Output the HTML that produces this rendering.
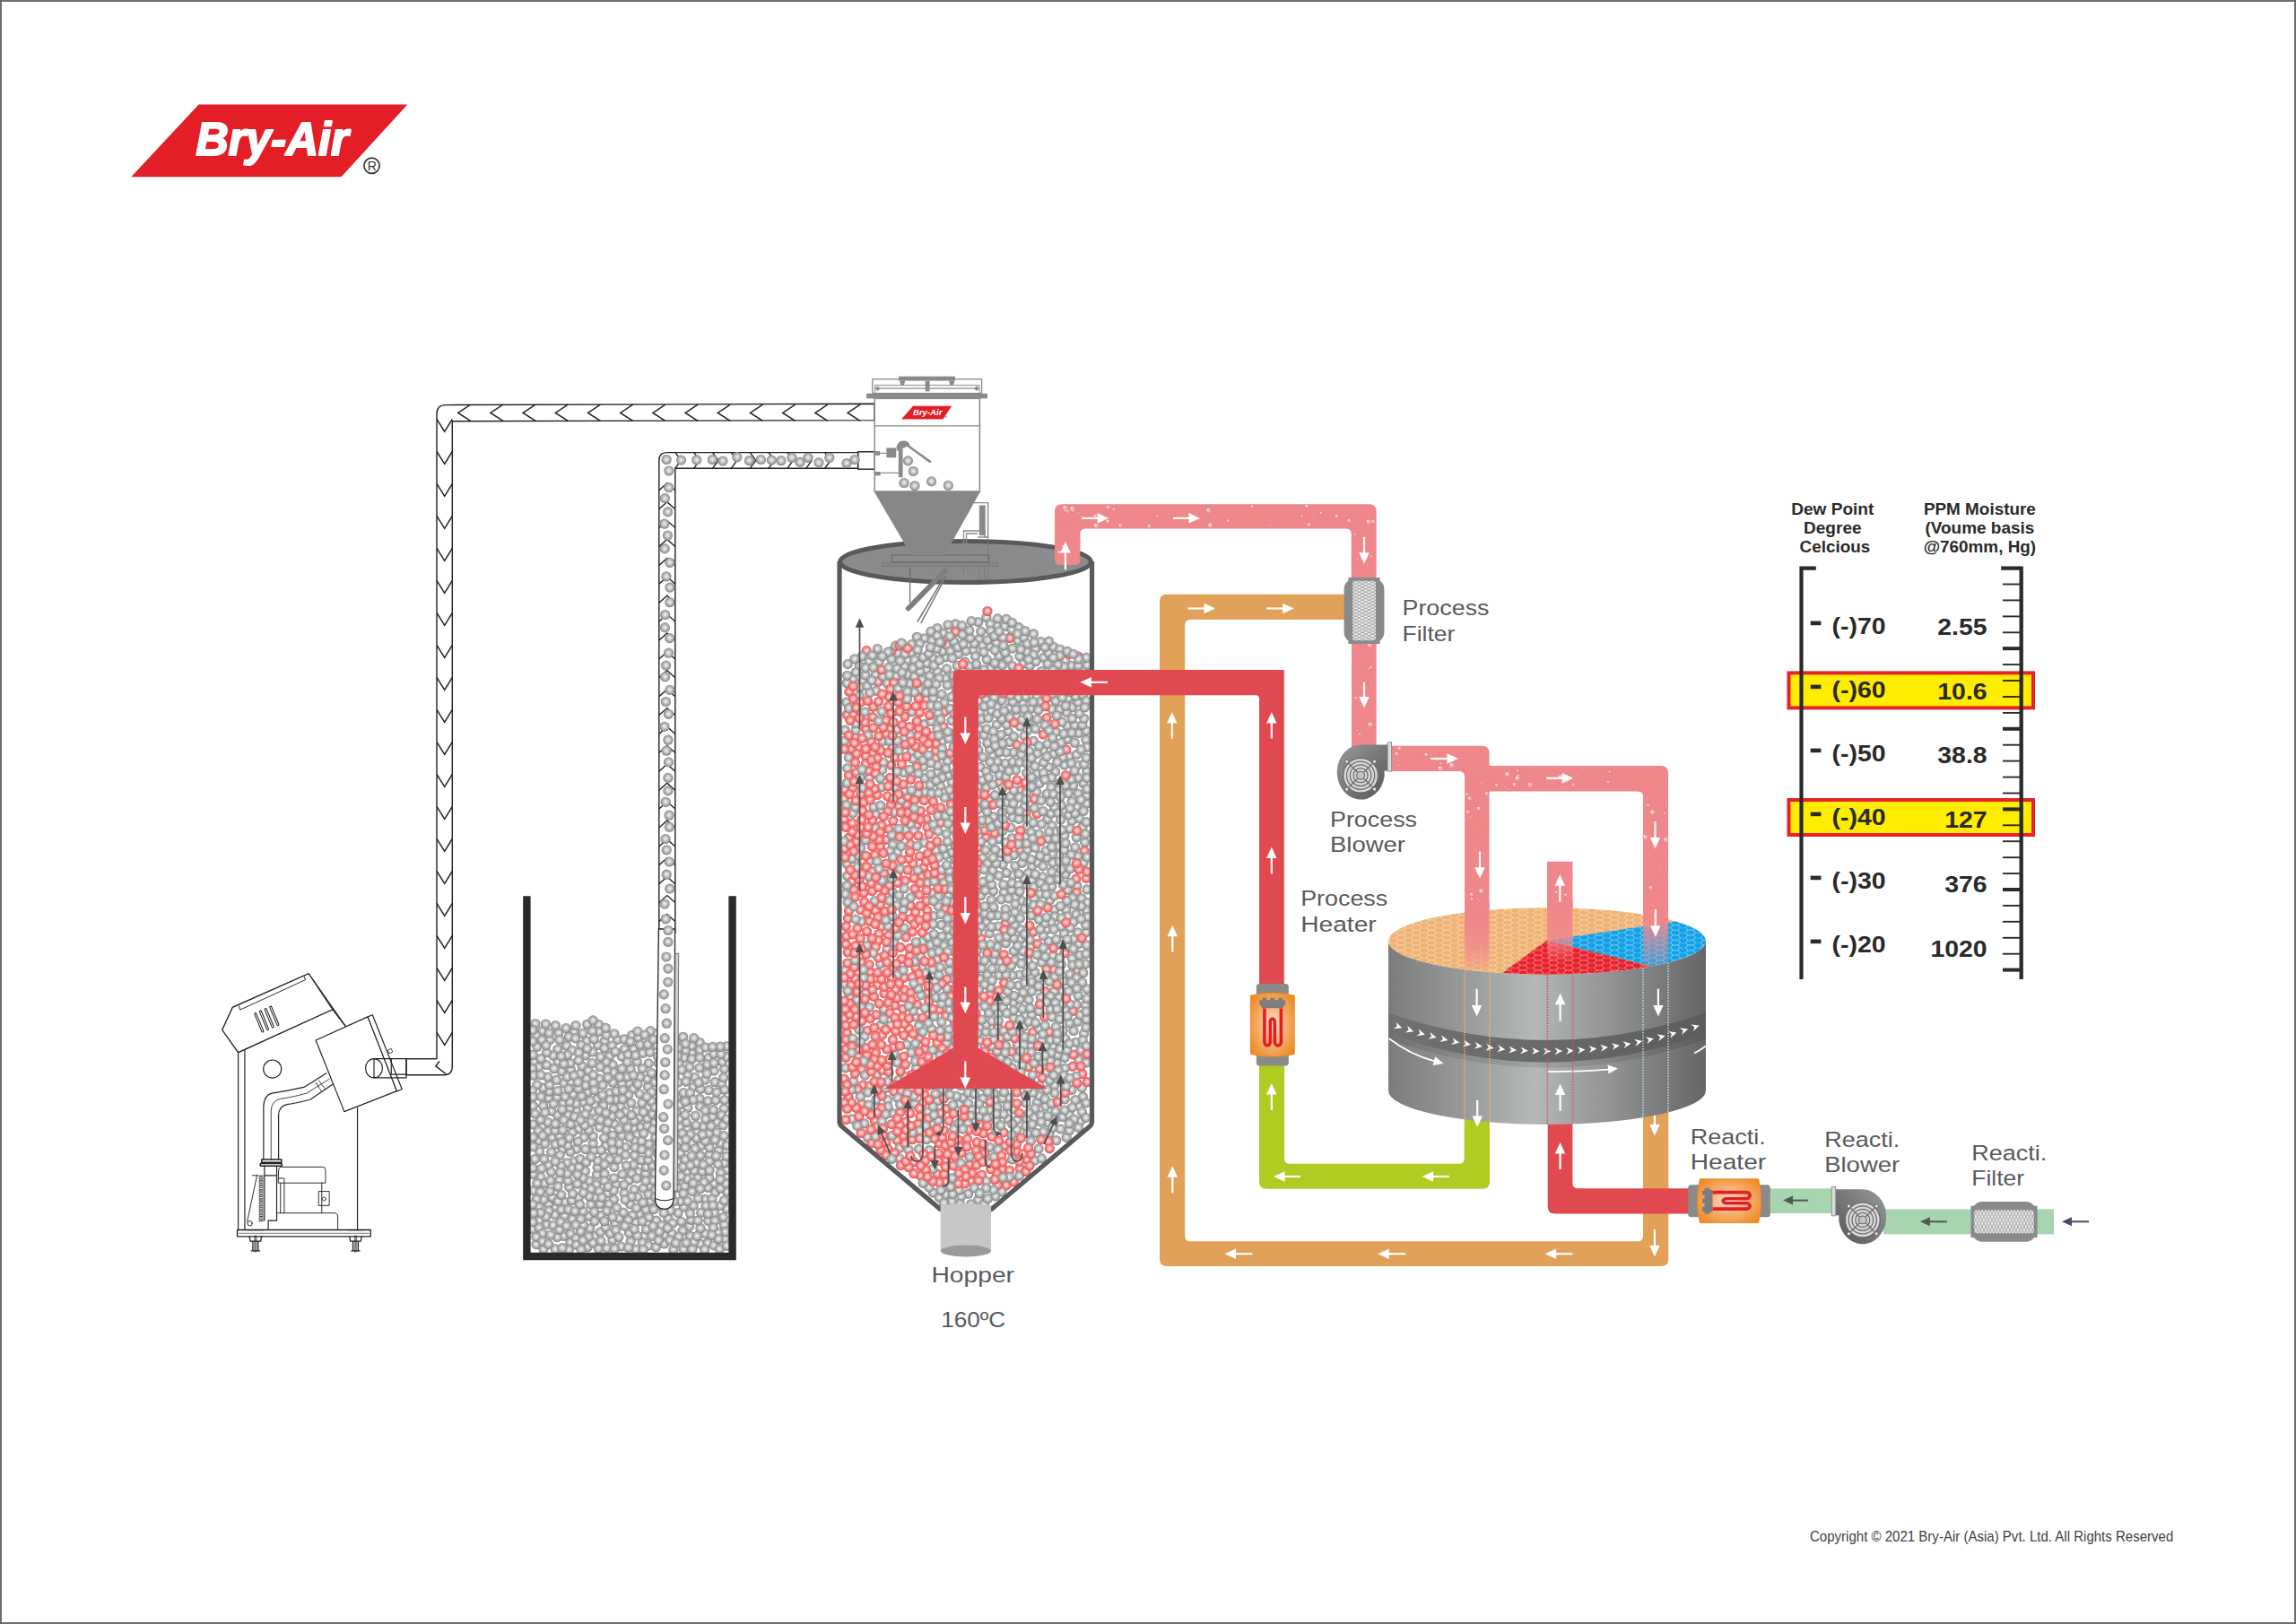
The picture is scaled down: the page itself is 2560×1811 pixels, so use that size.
<!DOCTYPE html>
<html><head><meta charset="utf-8"><title>Bry-Air Dryer Process</title>
<style>
html,body{margin:0;padding:0;background:#fff}
body{width:2560px;height:1811px;overflow:hidden}
svg{display:block}
text{font-family:"Liberation Sans",sans-serif}
</style></head><body>
<svg width="2560" height="1811" viewBox="0 0 2560 1811">
<defs>
<radialGradient id="gg" cx="0.5" cy="0.48" r="0.5"><stop offset="0" stop-color="#f7f7f7"/><stop offset="0.3" stop-color="#d6d7d7"/><stop offset="0.65" stop-color="#b0b2b2"/><stop offset="0.9" stop-color="#909292"/><stop offset="1" stop-color="#808282"/></radialGradient>
<radialGradient id="gr" cx="0.5" cy="0.48" r="0.5"><stop offset="0" stop-color="#fff3e6"/><stop offset="0.3" stop-color="#fbbdb6"/><stop offset="0.65" stop-color="#f47f80"/><stop offset="0.9" stop-color="#ea5e63"/><stop offset="1" stop-color="#e0525a"/></radialGradient>
<circle id="b" r="5.6" fill="url(#gg)"/>
<circle id="r" r="5.6" fill="url(#gr)"/>
<linearGradient id="cyl" x1="0" x2="1" y1="0" y2="0"><stop offset="0" stop-color="#7c7c7c"/><stop offset="0.2" stop-color="#939595"/><stop offset="0.46" stop-color="#b4b8b7"/><stop offset="0.75" stop-color="#8a8b8b"/><stop offset="1" stop-color="#666"/></linearGradient>
<linearGradient id="band" x1="0" x2="1" y1="0" y2="0"><stop offset="0" stop-color="#707070"/><stop offset="0.46" stop-color="#6a6a6a"/><stop offset="1" stop-color="#5c5c5c"/></linearGradient>
<linearGradient id="band2" x1="0" x2="1" y1="0" y2="0"><stop offset="0" stop-color="#858585"/><stop offset="0.46" stop-color="#9a9c9b"/><stop offset="1" stop-color="#6c6c6c"/></linearGradient>
<radialGradient id="heat" cx="0.5" cy="0.5" r="0.62"><stop offset="0" stop-color="#fde3cf"/><stop offset="0.45" stop-color="#f6b479"/><stop offset="1" stop-color="#ef8a22"/></radialGradient>
<linearGradient id="vol" x1="0" x2="1" y1="0" y2="1"><stop offset="0" stop-color="#9a9a9a"/><stop offset="0.45" stop-color="#7b7b7b"/><stop offset="1" stop-color="#555"/></linearGradient>
<linearGradient id="fadeP" x1="0" x2="0" y1="0" y2="1"><stop offset="0" stop-color="#ef878b" stop-opacity="1"/><stop offset="0.55" stop-color="#ef878b" stop-opacity="0.85"/><stop offset="1" stop-color="#ef878b" stop-opacity="0"/></linearGradient>
<pattern id="hex" width="17" height="5.6" patternUnits="userSpaceOnUse" x="1548" y="1012"><path d="M0 2.8L2.5 0L8.5 0L11 2.8L17 2.8M11 2.8L8.5 5.6M0 2.8L2.5 5.6" fill="none" stroke="#fff" stroke-width="0.9" stroke-opacity="0.55"/></pattern>
<pattern id="mesh" width="7.4" height="3.6" patternUnits="userSpaceOnUse" x="-12.9" y="-33.3"><rect width="7.4" height="3.6" fill="#8a8a8a"/><path d="M3.7 0.45L6.7 1.8L3.7 3.15L0.7 1.8Z M0 -1.35L3 0L0 1.35L-3 0Z M7.4 -1.35L10.4 0L7.4 1.35L4.4 0Z M0 2.25L3 3.6L0 4.95L-3 3.6Z M7.4 2.25L10.4 3.6L7.4 4.95L4.4 3.6Z" fill="#f3f3f3"/></pattern>
<clipPath id="wtop"><ellipse cx="1725" cy="1049.4" rx="177" ry="37.2"/></clipPath>
</defs>
<rect x="0" y="0" width="2560" height="1811" fill="#fff"/>

<g id="logo">
<polygon points="221.6,116.5 454.4,116.5 380.5,197.3 146.3,197.3" fill="#e31e26"/>
<text x="218.5" y="172.8" font-size="51" fill="#fff" font-weight="bold" font-style="italic" textLength="170" lengthAdjust="spacingAndGlyphs" stroke="#fff" stroke-width="2.2" stroke-linejoin="round">Bry-Air</text>
<circle cx="414.5" cy="184.8" r="8.6" fill="none" stroke="#333" stroke-width="1.7"/>
<text x="414.7" y="189.8" font-size="14" fill="#333" text-anchor="middle">R</text>
</g>
<g id="pipe1" fill="#fff" stroke="#222" stroke-width="1.4" stroke-linejoin="round">
<path d="M975 450.3L497 451.6Q487 451.6 487 461.6L487 1180.6L453 1180.6L453 1198.8L495 1198.8Q504.3 1198.8 504.3 1189.5L504.3 469.8L975 468.6Z"/>
</g>
<g fill="none" stroke="#222" stroke-width="1.5" stroke-linejoin="miter">
<path d="M524.7 451.2L510.7 460.4L524.7 469.4"/>
<path d="M560.9 451.2L546.9 460.4L560.9 469.4"/>
<path d="M597.1 451.2L583.1 460.4L597.1 469.4"/>
<path d="M633.3 451.2L619.3 460.4L633.3 469.4"/>
<path d="M669.5 451.2L655.5 460.4L669.5 469.4"/>
<path d="M705.7 451.2L691.7 460.4L705.7 469.4"/>
<path d="M741.9 451.2L727.9 460.4L741.9 469.4"/>
<path d="M778.1 451.2L764.1 460.4L778.1 469.4"/>
<path d="M814.3 451.2L800.3 460.4L814.3 469.4"/>
<path d="M850.5 451.2L836.5 460.4L850.5 469.4"/>
<path d="M886.7 451.2L872.7 460.4L886.7 469.4"/>
<path d="M922.9 451.2L908.9 460.4L922.9 469.4"/>
<path d="M959.1 451.2L945.1 460.4L959.1 469.4"/>
<path d="M487 467.4L495.7 481.4L504.3 467.4"/>
<path d="M487 503.4L495.7 517.4L504.3 503.4"/>
<path d="M487 539.4L495.7 553.4L504.3 539.4"/>
<path d="M487 575.4L495.7 589.4L504.3 575.4"/>
<path d="M487 611.4L495.7 625.4L504.3 611.4"/>
<path d="M487 647.4L495.7 661.4L504.3 647.4"/>
<path d="M487 683.4L495.7 697.4L504.3 683.4"/>
<path d="M487 719.4L495.7 733.4L504.3 719.4"/>
<path d="M487 755.4L495.7 769.4L504.3 755.4"/>
<path d="M487 791.4L495.7 805.4L504.3 791.4"/>
<path d="M487 827.4L495.7 841.4L504.3 827.4"/>
<path d="M487 863.4L495.7 877.4L504.3 863.4"/>
<path d="M487 899.4L495.7 913.4L504.3 899.4"/>
<path d="M487 935.4L495.7 949.4L504.3 935.4"/>
<path d="M487 971.4L495.7 985.4L504.3 971.4"/>
<path d="M487 1007.4L495.7 1021.4L504.3 1007.4"/>
<path d="M487 1043.4L495.7 1057.4L504.3 1043.4"/>
<path d="M487 1079.4L495.7 1093.4L504.3 1079.4"/>
<path d="M487 1115.4L495.7 1129.4L504.3 1115.4"/>
<path d="M487 1151.4L495.7 1165.4L504.3 1151.4"/>
<path d="M490 1183.5L485.8 1188.8L497 1197.5"/>
</g>
<g id="bin">
<g>
<use href="#b" x="654" y="1160.8"/><use href="#b" x="687" y="1226.3"/><use href="#b" x="757.8" y="1232.1"/><use href="#b" x="781.7" y="1352.2"/><use href="#b" x="623.6" y="1315.7"/><use href="#b" x="683.2" y="1187.4"/><use href="#b" x="723.4" y="1275.9"/><use href="#b" x="692" y="1234.1"/><use href="#b" x="697.3" y="1279.3"/><use href="#b" x="637.8" y="1359.4"/><use href="#b" x="663.7" y="1378.4"/><use href="#b" x="761.6" y="1156.3"/><use href="#b" x="614.7" y="1284.9"/><use href="#b" x="654.1" y="1202.7"/><use href="#b" x="795.9" y="1319.7"/><use href="#b" x="674.1" y="1161.1"/><use href="#b" x="739.2" y="1234.1"/><use href="#b" x="653" y="1176.8"/><use href="#b" x="611.5" y="1299.4"/><use href="#b" x="791.1" y="1287.5"/><use href="#b" x="707.5" y="1288.3"/><use href="#b" x="657.7" y="1369.8"/><use href="#b" x="731.7" y="1361.1"/><use href="#b" x="702.7" y="1342.9"/><use href="#b" x="781.3" y="1387.4"/><use href="#b" x="651.1" y="1268.4"/><use href="#b" x="652.7" y="1322.8"/><use href="#b" x="762.1" y="1393.3"/><use href="#b" x="738.9" y="1274.9"/><use href="#b" x="652.4" y="1306"/><use href="#b" x="594.3" y="1233.2"/><use href="#b" x="658.8" y="1343.1"/><use href="#b" x="615.7" y="1268.6"/><use href="#b" x="654.7" y="1142.3"/><use href="#b" x="593.9" y="1370.7"/><use href="#b" x="711.7" y="1306.9"/><use href="#b" x="731.7" y="1152.6"/><use href="#b" x="743.2" y="1249.1"/><use href="#b" x="605.2" y="1256"/><use href="#b" x="707.1" y="1258.6"/><use href="#b" x="733.7" y="1227.5"/><use href="#b" x="738.8" y="1213.8"/><use href="#b" x="601.3" y="1361"/><use href="#b" x="619.1" y="1346.2"/><use href="#b" x="797.2" y="1206.7"/><use href="#b" x="710.5" y="1265.5"/><use href="#b" x="769.5" y="1378.4"/><use href="#b" x="718.3" y="1378.3"/><use href="#b" x="773.1" y="1212.2"/><use href="#b" x="810.1" y="1348"/><use href="#b" x="724.3" y="1322.7"/><use href="#b" x="759.5" y="1362.1"/><use href="#b" x="675.2" y="1277.5"/><use href="#b" x="703.6" y="1230"/><use href="#b" x="766.3" y="1306.6"/><use href="#b" x="729.9" y="1206.9"/><use href="#b" x="621" y="1223.6"/><use href="#b" x="733.7" y="1287"/><use href="#b" x="790.1" y="1179.6"/><use href="#b" x="673.4" y="1289.3"/><use href="#b" x="735.2" y="1202.1"/><use href="#b" x="716.5" y="1385.9"/><use href="#b" x="618.7" y="1354.6"/><use href="#b" x="723.3" y="1388.9"/><use href="#b" x="611.6" y="1224.4"/><use href="#b" x="716.6" y="1174.5"/><use href="#b" x="730.4" y="1327.2"/><use href="#b" x="714.7" y="1256.9"/><use href="#b" x="771.5" y="1173.7"/><use href="#b" x="627.2" y="1281.8"/><use href="#b" x="707.7" y="1272.4"/><use href="#b" x="610.9" y="1261.6"/><use href="#b" x="749.5" y="1228.4"/><use href="#b" x="719.7" y="1308.7"/><use href="#b" x="807.5" y="1365.8"/><use href="#b" x="804.7" y="1208.6"/><use href="#b" x="808.3" y="1381.6"/><use href="#b" x="735.9" y="1344.2"/><use href="#b" x="720.4" y="1301.2"/><use href="#b" x="675.5" y="1259.8"/><use href="#b" x="669.5" y="1373.9"/><use href="#b" x="665.5" y="1310"/><use href="#b" x="623.9" y="1266.8"/><use href="#b" x="798.9" y="1262.9"/><use href="#b" x="685.1" y="1253.6"/><use href="#b" x="771.3" y="1166.2"/><use href="#b" x="810.5" y="1328.9"/><use href="#b" x="704.6" y="1154.4"/><use href="#b" x="635.9" y="1385.4"/><use href="#b" x="657.1" y="1316.9"/><use href="#b" x="739.7" y="1169.4"/><use href="#b" x="609.5" y="1365.4"/><use href="#b" x="780.8" y="1288.5"/><use href="#b" x="779.9" y="1190.8"/><use href="#b" x="790.2" y="1215.6"/><use href="#b" x="594.9" y="1327.7"/><use href="#b" x="711.8" y="1157.4"/><use href="#b" x="697.6" y="1239.8"/><use href="#b" x="783.9" y="1256.5"/><use href="#b" x="664.9" y="1321"/><use href="#b" x="732.6" y="1166"/><use href="#b" x="713.1" y="1246.1"/><use href="#b" x="684.9" y="1301.6"/><use href="#b" x="796.6" y="1352.5"/><use href="#b" x="685.7" y="1364.3"/><use href="#b" x="619" y="1392.9"/><use href="#b" x="780.2" y="1162.5"/><use href="#b" x="703" y="1192.2"/><use href="#b" x="762.2" y="1346.1"/><use href="#b" x="715.4" y="1272.5"/><use href="#b" x="780" y="1225.3"/><use href="#b" x="789.6" y="1361.3"/><use href="#b" x="611.5" y="1342.8"/><use href="#b" x="668.2" y="1256.8"/><use href="#b" x="744.9" y="1358.6"/><use href="#b" x="736.2" y="1158.5"/><use href="#b" x="613.1" y="1159.5"/><use href="#b" x="612.2" y="1217.1"/><use href="#b" x="768.7" y="1367.4"/><use href="#b" x="730" y="1251.8"/><use href="#b" x="601.6" y="1284"/><use href="#b" x="606.6" y="1292.4"/><use href="#b" x="803" y="1344.5"/><use href="#b" x="758.1" y="1247.8"/><use href="#b" x="807.1" y="1266.7"/><use href="#b" x="771.6" y="1274.7"/><use href="#b" x="626.2" y="1194.7"/><use href="#b" x="758.8" y="1285.8"/><use href="#b" x="731.4" y="1390.7"/><use href="#b" x="655.1" y="1390.7"/><use href="#b" x="701.3" y="1208"/><use href="#b" x="667.2" y="1392.2"/><use href="#b" x="723.2" y="1185.9"/><use href="#b" x="690.3" y="1358.6"/><use href="#b" x="810.5" y="1312.1"/><use href="#b" x="807.2" y="1236.3"/><use href="#b" x="781.6" y="1277.9"/><use href="#b" x="764.4" y="1171.6"/><use href="#b" x="692.6" y="1390"/><use href="#b" x="706" y="1214.2"/><use href="#b" x="655.6" y="1217.8"/><use href="#b" x="679.7" y="1177.7"/><use href="#b" x="795.8" y="1175.2"/><use href="#b" x="665.4" y="1225.7"/><use href="#b" x="712.8" y="1353.8"/><use href="#b" x="604.8" y="1149.7"/><use href="#b" x="652.8" y="1210.5"/><use href="#b" x="622.8" y="1151.8"/><use href="#b" x="763.4" y="1322.8"/><use href="#b" x="721.7" y="1255.5"/><use href="#b" x="684.3" y="1337.5"/><use href="#b" x="807.8" y="1215.3"/><use href="#b" x="786.2" y="1337.4"/><use href="#b" x="621.9" y="1184"/><use href="#b" x="807.6" y="1191.9"/><use href="#b" x="621.3" y="1243.3"/><use href="#b" x="715" y="1293.7"/><use href="#b" x="666.6" y="1165.5"/><use href="#b" x="743.7" y="1313.7"/><use href="#b" x="666.1" y="1301.9"/><use href="#b" x="666.3" y="1294.6"/><use href="#b" x="758.5" y="1256.9"/><use href="#b" x="610.9" y="1251.5"/><use href="#b" x="615.7" y="1335.3"/><use href="#b" x="683.2" y="1266"/><use href="#b" x="628.4" y="1378.3"/><use href="#b" x="737.7" y="1366.4"/><use href="#b" x="601" y="1369.1"/><use href="#b" x="645.2" y="1259.1"/><use href="#b" x="602.9" y="1312.6"/><use href="#b" x="634.7" y="1323.8"/><use href="#b" x="649.9" y="1313.8"/><use href="#b" x="605.5" y="1213.2"/><use href="#b" x="724.6" y="1173.4"/><use href="#b" x="751.3" y="1192"/><use href="#b" x="647" y="1197.3"/><use href="#b" x="595.7" y="1184.2"/><use href="#b" x="598" y="1154.9"/><use href="#b" x="649.1" y="1188.7"/><use href="#b" x="799.2" y="1251.2"/><use href="#b" x="614.7" y="1238.9"/><use href="#b" x="600.9" y="1272.2"/><use href="#b" x="810.3" y="1304.3"/><use href="#b" x="684" y="1195.8"/><use href="#b" x="596.9" y="1141.5"/><use href="#b" x="639.8" y="1295.1"/><use href="#b" x="634.3" y="1393.5"/><use href="#b" x="708.9" y="1363"/><use href="#b" x="600.8" y="1345.4"/><use href="#b" x="766.2" y="1314.6"/><use href="#b" x="710.9" y="1150.1"/><use href="#b" x="790.8" y="1313.7"/><use href="#b" x="607.1" y="1319.7"/><use href="#b" x="766.9" y="1235.2"/><use href="#b" x="717.2" y="1325"/><use href="#b" x="594.4" y="1309.6"/><use href="#b" x="606.1" y="1337.9"/><use href="#b" x="807.8" y="1296.7"/><use href="#b" x="745.2" y="1257.8"/><use href="#b" x="750.1" y="1215"/><use href="#b" x="722.7" y="1235.1"/><use href="#b" x="706.5" y="1169.9"/><use href="#b" x="695" y="1352"/><use href="#b" x="678.9" y="1342.8"/><use href="#b" x="612.6" y="1209.8"/><use href="#b" x="660.7" y="1173"/><use href="#b" x="598.7" y="1209.9"/><use href="#b" x="611.9" y="1350.2"/><use href="#b" x="776.6" y="1262"/><use href="#b" x="629.7" y="1340.3"/><use href="#b" x="667.5" y="1142.5"/><use href="#b" x="642.6" y="1281.3"/><use href="#b" x="805.4" y="1184"/><use href="#b" x="710.3" y="1183.9"/><use href="#b" x="720.5" y="1370.9"/><use href="#b" x="775.4" y="1244.3"/><use href="#b" x="656" y="1193.9"/><use href="#b" x="659.2" y="1325.8"/><use href="#b" x="691" y="1283.8"/><use href="#b" x="621.3" y="1379.6"/><use href="#b" x="773.7" y="1384.8"/><use href="#b" x="754.7" y="1222.7"/><use href="#b" x="755.6" y="1296.1"/><use href="#b" x="631.7" y="1166.2"/><use href="#b" x="742" y="1377.7"/><use href="#b" x="766.1" y="1258.7"/><use href="#b" x="730" y="1308.7"/><use href="#b" x="786.3" y="1375.8"/><use href="#b" x="696.4" y="1169.8"/><use href="#b" x="618.9" y="1260.9"/><use href="#b" x="608.7" y="1356.7"/><use href="#b" x="749" y="1182.4"/><use href="#b" x="629.5" y="1355.6"/><use href="#b" x="693.9" y="1309.5"/><use href="#b" x="642.6" y="1238.1"/><use href="#b" x="616.8" y="1366.3"/><use href="#b" x="682.9" y="1357.2"/><use href="#b" x="639.1" y="1220.3"/><use href="#b" x="643.7" y="1320.2"/><use href="#b" x="602.7" y="1352.5"/><use href="#b" x="778" y="1312.9"/><use href="#b" x="721.6" y="1247.1"/><use href="#b" x="679.7" y="1218.9"/><use href="#b" x="788.6" y="1187"/><use href="#b" x="607.7" y="1275.3"/><use href="#b" x="754.8" y="1324.6"/><use href="#b" x="716.3" y="1191.8"/><use href="#b" x="667.8" y="1150.5"/><use href="#b" x="693.3" y="1266.5"/><use href="#b" x="745.8" y="1271.2"/><use href="#b" x="684.3" y="1236.4"/><use href="#b" x="695.6" y="1249.1"/><use href="#b" x="693.2" y="1178.1"/><use href="#b" x="703.1" y="1384.3"/><use href="#b" x="736.8" y="1194.5"/><use href="#b" x="633.2" y="1316.7"/><use href="#b" x="780.5" y="1233.9"/><use href="#b" x="668.5" y="1203.2"/><use href="#b" x="774.1" y="1305.4"/><use href="#b" x="801.5" y="1282.5"/><use href="#b" x="780.2" y="1171"/><use href="#b" x="688.5" y="1159.3"/><use href="#b" x="622.1" y="1339.7"/><use href="#b" x="700.7" y="1220.8"/><use href="#b" x="594.6" y="1278.7"/><use href="#b" x="771.5" y="1328.6"/><use href="#b" x="673.6" y="1269"/><use href="#b" x="705.4" y="1355.2"/><use href="#b" x="602.4" y="1329.1"/><use href="#b" x="637.6" y="1338.7"/><use href="#b" x="676.6" y="1193.5"/><use href="#b" x="637.4" y="1302.6"/><use href="#b" x="761.1" y="1372.5"/><use href="#b" x="810.3" y="1166.8"/><use href="#b" x="650.5" y="1229.3"/><use href="#b" x="748.7" y="1169.6"/><use href="#b" x="682.2" y="1245"/><use href="#b" x="753.1" y="1162"/><use href="#b" x="636.5" y="1193"/><use href="#b" x="765.3" y="1251.6"/><use href="#b" x="676.3" y="1350.3"/><use href="#b" x="789.3" y="1324.3"/><use href="#b" x="693.4" y="1208.5"/><use href="#b" x="808.5" y="1373.7"/><use href="#b" x="755.2" y="1303.9"/><use href="#b" x="800.3" y="1374.5"/><use href="#b" x="640.2" y="1150.6"/><use href="#b" x="722.4" y="1212"/><use href="#b" x="761.8" y="1300.8"/><use href="#b" x="706.3" y="1298.9"/><use href="#b" x="679.7" y="1292.7"/><use href="#b" x="635.8" y="1284.3"/><use href="#b" x="756" y="1352.6"/><use href="#b" x="803.5" y="1275"/><use href="#b" x="674" y="1298.6"/><use href="#b" x="742.3" y="1291.2"/><use href="#b" x="735.2" y="1373.5"/><use href="#b" x="747.7" y="1350"/><use href="#b" x="720.2" y="1349.1"/><use href="#b" x="684.8" y="1152.8"/><use href="#b" x="742.2" y="1178.1"/><use href="#b" x="686.9" y="1320.9"/><use href="#b" x="758" y="1272.7"/><use href="#b" x="663.8" y="1335.3"/><use href="#b" x="638" y="1171.4"/><use href="#b" x="628.7" y="1207.8"/><use href="#b" x="600.8" y="1189.9"/><use href="#b" x="633" y="1277.4"/><use href="#b" x="727.4" y="1299.6"/><use href="#b" x="753.4" y="1316.9"/><use href="#b" x="741.7" y="1186.3"/><use href="#b" x="800.5" y="1298.1"/><use href="#b" x="609.4" y="1187.5"/><use href="#b" x="625.9" y="1349"/><use href="#b" x="663" y="1232.8"/><use href="#b" x="744" y="1198.7"/><use href="#b" x="624" y="1159.5"/><use href="#b" x="614.5" y="1306.9"/><use href="#b" x="594.5" y="1253.8"/><use href="#b" x="598.2" y="1337.3"/><use href="#b" x="810.4" y="1178.4"/><use href="#b" x="733.6" y="1178.1"/><use href="#b" x="717.7" y="1263.9"/><use href="#b" x="786" y="1204.2"/><use href="#b" x="762.9" y="1179.7"/><use href="#b" x="774.7" y="1201.3"/><use href="#b" x="594.1" y="1302.4"/><use href="#b" x="789.3" y="1227.8"/><use href="#b" x="690.2" y="1275.1"/><use href="#b" x="679.8" y="1226.3"/><use href="#b" x="771.3" y="1181"/><use href="#b" x="699.3" y="1201.1"/><use href="#b" x="770.5" y="1360.2"/><use href="#b" x="791" y="1279.8"/><use href="#b" x="661" y="1240.1"/><use href="#b" x="619.2" y="1276.1"/><use href="#b" x="698.4" y="1299.9"/><use href="#b" x="635.4" y="1236"/><use href="#b" x="676.5" y="1391.9"/><use href="#b" x="633.2" y="1243.4"/><use href="#b" x="797" y="1361.4"/><use href="#b" x="622" y="1323.2"/><use href="#b" x="783" y="1306.3"/><use href="#b" x="734.4" y="1185.8"/><use href="#b" x="662.5" y="1282.6"/><use href="#b" x="593.9" y="1362.7"/><use href="#b" x="790.4" y="1264"/><use href="#b" x="652.7" y="1281.6"/><use href="#b" x="743.2" y="1241.3"/><use href="#b" x="632.1" y="1296.8"/><use href="#b" x="628" y="1230"/><use href="#b" x="675.2" y="1368.8"/><use href="#b" x="642" y="1143.5"/><use href="#b" x="594.9" y="1352.8"/><use href="#b" x="635.9" y="1185.6"/><use href="#b" x="806.4" y="1357.4"/><use href="#b" x="725" y="1339.5"/><use href="#b" x="750.1" y="1364"/><use href="#b" x="789.1" y="1386.2"/><use href="#b" x="776.4" y="1296.7"/><use href="#b" x="730.7" y="1268.6"/><use href="#b" x="737.6" y="1336.4"/><use href="#b" x="762.1" y="1218.6"/><use href="#b" x="722.8" y="1293.6"/><use href="#b" x="617.2" y="1231"/><use href="#b" x="661.6" y="1198.7"/><use href="#b" x="771.8" y="1393.2"/><use href="#b" x="636.1" y="1375.9"/><use href="#b" x="753.8" y="1240"/><use href="#b" x="600.2" y="1261.1"/><use href="#b" x="661" y="1385.8"/><use href="#b" x="786.2" y="1238.3"/><use href="#b" x="656.6" y="1356.2"/><use href="#b" x="764" y="1279.7"/><use href="#b" x="645.5" y="1301.5"/><use href="#b" x="650" y="1350.7"/><use href="#b" x="690.3" y="1259"/><use href="#b" x="647" y="1292.5"/><use href="#b" x="669.4" y="1248.7"/><use href="#b" x="728.3" y="1316.5"/><use href="#b" x="602.5" y="1248.5"/><use href="#b" x="786.8" y="1168"/><use href="#b" x="723" y="1332"/><use href="#b" x="798" y="1226.8"/><use href="#b" x="796.2" y="1388.8"/><use href="#b" x="677.4" y="1330.7"/><use href="#b" x="642.3" y="1380.9"/><use href="#b" x="682.9" y="1382.6"/><use href="#b" x="726.5" y="1228.2"/><use href="#b" x="645.3" y="1335.3"/><use href="#b" x="678" y="1251.6"/><use href="#b" x="799" y="1218.1"/><use href="#b" x="707.1" y="1326.6"/><use href="#b" x="749.1" y="1375.5"/><use href="#b" x="766.6" y="1198.8"/><use href="#b" x="610.6" y="1201.1"/><use href="#b" x="624.2" y="1288.3"/><use href="#b" x="655.1" y="1235.7"/><use href="#b" x="707.2" y="1250.3"/><use href="#b" x="806.7" y="1201.7"/><use href="#b" x="674" y="1168.9"/><use href="#b" x="715.8" y="1229.9"/><use href="#b" x="810" y="1289.4"/><use href="#b" x="713.8" y="1165.2"/><use href="#b" x="796.2" y="1194.1"/><use href="#b" x="650.4" y="1366.2"/><use href="#b" x="786.6" y="1272.3"/><use href="#b" x="721.5" y="1203.1"/><use href="#b" x="699.8" y="1257.5"/><use href="#b" x="769.4" y="1218.9"/><use href="#b" x="598.8" y="1167.3"/><use href="#b" x="726.7" y="1217.8"/><use href="#b" x="684.2" y="1327.6"/><use href="#b" x="680.4" y="1375.5"/><use href="#b" x="674.1" y="1309.1"/><use href="#b" x="642.4" y="1230.8"/><use href="#b" x="723.5" y="1357.5"/><use href="#b" x="597.9" y="1387.6"/><use href="#b" x="728.8" y="1348.6"/><use href="#b" x="636.8" y="1206.6"/><use href="#b" x="747.5" y="1325.7"/><use href="#b" x="605.1" y="1266.3"/><use href="#b" x="661.5" y="1207.8"/><use href="#b" x="653.7" y="1296.1"/><use href="#b" x="625.6" y="1300.3"/><use href="#b" x="604.1" y="1159.5"/><use href="#b" x="787.1" y="1344.5"/><use href="#b" x="596.5" y="1242"/><use href="#b" x="772.9" y="1226.4"/><use href="#b" x="696" y="1330.4"/><use href="#b" x="661.2" y="1137.9"/><use href="#b" x="764.3" y="1164"/><use href="#b" x="686.6" y="1371.7"/><use href="#b" x="797.5" y="1329.8"/><use href="#b" x="661.2" y="1275"/><use href="#b" x="741.4" y="1220.9"/><use href="#b" x="730.5" y="1334.8"/><use href="#b" x="751.4" y="1263.1"/><use href="#b" x="694.2" y="1225.7"/><use href="#b" x="648.5" y="1222.3"/><use href="#b" x="603.1" y="1180.5"/><use href="#b" x="732.3" y="1279.3"/><use href="#b" x="648.1" y="1165.6"/><use href="#b" x="613.7" y="1316.4"/><use href="#b" x="621.8" y="1170"/><use href="#b" x="687.1" y="1217"/><use href="#b" x="701.5" y="1375"/><use href="#b" x="616.6" y="1177.1"/><use href="#b" x="764.2" y="1228.4"/><use href="#b" x="652.7" y="1242.6"/><use href="#b" x="776.5" y="1269.1"/><use href="#b" x="660.2" y="1185.5"/><use href="#b" x="769.7" y="1265"/><use href="#b" x="596.4" y="1292.5"/><use href="#b" x="793.9" y="1337.2"/><use href="#b" x="737.6" y="1258.8"/><use href="#b" x="700.3" y="1176.2"/><use href="#b" x="594.1" y="1176.3"/><use href="#b" x="593.8" y="1161.1"/><use href="#b" x="743.1" y="1206.4"/><use href="#b" x="803.8" y="1175.6"/><use href="#b" x="604.7" y="1375.5"/><use href="#b" x="709" y="1393.3"/><use href="#b" x="803.2" y="1325.2"/><use href="#b" x="625.7" y="1332.5"/><use href="#b" x="593.5" y="1216.1"/><use href="#b" x="725.1" y="1149.7"/><use href="#b" x="764" y="1292.9"/><use href="#b" x="804.4" y="1243.6"/><use href="#b" x="727.5" y="1242.4"/><use href="#b" x="675.8" y="1184.1"/><use href="#b" x="758.8" y="1339.7"/><use href="#b" x="660.6" y="1149.7"/><use href="#b" x="701.2" y="1316.2"/><use href="#b" x="740.2" y="1352.4"/><use href="#b" x="794.2" y="1245.1"/><use href="#b" x="662.3" y="1158.7"/><use href="#b" x="752.1" y="1199.8"/><use href="#b" x="788.2" y="1197.2"/><use href="#b" x="645.3" y="1173.9"/><use href="#b" x="807.8" y="1226.6"/><use href="#b" x="744.3" y="1369.4"/><use href="#b" x="809.3" y="1319.9"/><use href="#b" x="792.7" y="1255.8"/><use href="#b" x="728.1" y="1367.4"/><use href="#b" x="743.5" y="1342.1"/><use href="#b" x="757.1" y="1186.3"/><use href="#b" x="773.1" y="1344.4"/><use href="#b" x="737.7" y="1325.1"/><use href="#b" x="628.6" y="1249.1"/><use href="#b" x="803" y="1167.2"/><use href="#b" x="790.8" y="1295.1"/><use href="#b" x="668" y="1328.5"/><use href="#b" x="676.1" y="1154.1"/><use href="#b" x="612.2" y="1152"/><use href="#b" x="780.2" y="1179.4"/><use href="#b" x="734.1" y="1245.8"/><use href="#b" x="709.6" y="1347.2"/><use href="#b" x="621.8" y="1216.5"/><use href="#b" x="744.8" y="1161.5"/><use href="#b" x="801" y="1381.7"/><use href="#b" x="697.5" y="1287.9"/><use href="#b" x="797.2" y="1271.1"/><use href="#b" x="759.1" y="1311.8"/><use href="#b" x="740.7" y="1387"/><use href="#b" x="765.1" y="1385.9"/><use href="#b" x="795.4" y="1237.7"/><use href="#b" x="802.3" y="1392.7"/><use href="#b" x="695.8" y="1321.3"/><use href="#b" x="740.4" y="1301"/><use href="#b" x="743.1" y="1282.4"/><use href="#b" x="656.7" y="1334.1"/><use href="#b" x="803.5" y="1308"/><use href="#b" x="593.9" y="1148.7"/><use href="#b" x="785" y="1318.4"/><use href="#b" x="685.2" y="1392.5"/><use href="#b" x="711.1" y="1334.9"/><use href="#b" x="690.9" y="1201.2"/><use href="#b" x="633.7" y="1348.8"/><use href="#b" x="704" y="1334.5"/><use href="#b" x="699.2" y="1184.4"/><use href="#b" x="654.6" y="1169.3"/><use href="#b" x="794.8" y="1344.2"/><use href="#b" x="626.9" y="1391.7"/><use href="#b" x="605.7" y="1233.2"/><use href="#b" x="593.6" y="1191.5"/><use href="#b" x="810.4" y="1277.5"/><use href="#b" x="683.2" y="1207.2"/><use href="#b" x="760.8" y="1264.1"/><use href="#b" x="672.8" y="1232.9"/><use href="#b" x="671.8" y="1221.4"/><use href="#b" x="747.8" y="1299.9"/><use href="#b" x="638.2" y="1262.8"/><use href="#b" x="661.3" y="1267"/><use href="#b" x="750" y="1309.6"/><use href="#b" x="647.4" y="1373.1"/><use href="#b" x="806.2" y="1254.7"/><use href="#b" x="796" y="1185.4"/><use href="#b" x="682.3" y="1166"/><use href="#b" x="772.9" y="1319.4"/><use href="#b" x="684.5" y="1313.8"/><use href="#b" x="789.4" y="1353.7"/><use href="#b" x="644.4" y="1273"/><use href="#b" x="693.4" y="1191.7"/><use href="#b" x="768.8" y="1189.9"/><use href="#b" x="598.8" y="1319.5"/><use href="#b" x="753.4" y="1278.4"/><use href="#b" x="669.6" y="1355.4"/><use href="#b" x="694.5" y="1215.6"/><use href="#b" x="659" y="1290.1"/><use href="#b" x="668.2" y="1238.4"/><use href="#b" x="659" y="1251.3"/><use href="#b" x="737.6" y="1307.7"/><use href="#b" x="669.1" y="1189.7"/><use href="#b" x="700.5" y="1360.5"/><use href="#b" x="607.7" y="1240.6"/><use href="#b" x="695.9" y="1158.9"/><use href="#b" x="756.1" y="1207.1"/><use href="#b" x="635.2" y="1228.8"/><use href="#b" x="662.6" y="1351.4"/><use href="#b" x="719.8" y="1317"/><use href="#b" x="662.8" y="1215.8"/><use href="#b" x="760.1" y="1193"/><use href="#b" x="613.1" y="1328.5"/><use href="#b" x="613.9" y="1377"/><use href="#b" x="673.9" y="1316.9"/><use href="#b" x="645.1" y="1182.5"/><use href="#b" x="593.9" y="1343.2"/><use href="#b" x="650.4" y="1330.1"/><use href="#b" x="776" y="1254.6"/><use href="#b" x="696.6" y="1367.2"/><use href="#b" x="623.7" y="1371.3"/><use href="#b" x="663.1" y="1361.8"/><use href="#b" x="656.5" y="1260.4"/><use href="#b" x="689.8" y="1379.5"/><use href="#b" x="656.2" y="1379.1"/><use href="#b" x="709.9" y="1238.9"/><use href="#b" x="751.4" y="1339.8"/><use href="#b" x="634.6" y="1269"/><use href="#b" x="669.4" y="1178.7"/><use href="#b" x="810.2" y="1248"/><use href="#b" x="726.7" y="1378.3"/><use href="#b" x="704.4" y="1308.8"/><use href="#b" x="810.2" y="1389.3"/><use href="#b" x="723.1" y="1285.8"/><use href="#b" x="778.4" y="1336.5"/><use href="#b" x="803" y="1315.2"/><use href="#b" x="649.9" y="1152.3"/><use href="#b" x="780.9" y="1369.7"/><use href="#b" x="689.1" y="1293"/><use href="#b" x="625" y="1362.8"/><use href="#b" x="713.2" y="1219.9"/><use href="#b" x="606" y="1393"/><use href="#b" x="722.2" y="1164.8"/><use href="#b" x="647.5" y="1359.4"/><use href="#b" x="594.3" y="1223.3"/><use href="#b" x="773.7" y="1157.7"/><use href="#b" x="730.3" y="1234.9"/><use href="#b" x="713.4" y="1201"/><use href="#b" x="629.9" y="1223"/><use href="#b" x="784.2" y="1298.9"/><use href="#b" x="642.6" y="1388.1"/><use href="#b" x="682" y="1274.1"/><use href="#b" x="764.8" y="1270.6"/><use href="#b" x="749.3" y="1154"/><use href="#b" x="708.1" y="1279.6"/><use href="#b" x="728.2" y="1159.1"/><use href="#b" x="617.7" y="1191.7"/><use href="#b" x="775" y="1281"/><use href="#b" x="777.1" y="1378.4"/><use href="#b" x="644.8" y="1214"/><use href="#b" x="597.8" y="1379.3"/><use href="#b" x="798.4" y="1289.1"/><use href="#b" x="677.8" y="1201.7"/><use href="#b" x="638.5" y="1331.2"/><use href="#b" x="769.5" y="1353.1"/><use href="#b" x="620.5" y="1204.4"/><use href="#b" x="716.1" y="1361.9"/><use href="#b" x="670" y="1383.6"/><use href="#b" x="721.1" y="1223.1"/><use href="#b" x="794.5" y="1167.4"/><use href="#b" x="763.9" y="1243.1"/><use href="#b" x="703.9" y="1243.6"/><use href="#b" x="741.1" y="1153.1"/><use href="#b" x="750.9" y="1393.4"/><use href="#b" x="791" y="1305.2"/><use href="#b" x="727.9" y="1259.7"/><use href="#b" x="628.7" y="1186.3"/><use href="#b" x="651.8" y="1255"/><use href="#b" x="677.9" y="1323.3"/><use href="#b" x="795.2" y="1368.9"/><use href="#b" x="683.3" y="1282.8"/><use href="#b" x="604.8" y="1384.3"/><use href="#b" x="780.9" y="1214.3"/><use href="#b" x="631.4" y="1367.1"/><use href="#b" x="764.8" y="1206.1"/><use href="#b" x="632.7" y="1176.5"/><use href="#b" x="691.2" y="1243.1"/><use href="#b" x="649.9" y="1383.2"/><use href="#b" x="625.6" y="1177.9"/><use href="#b" x="670.2" y="1282.6"/><use href="#b" x="632.5" y="1308.9"/><use href="#b" x="780.7" y="1325.7"/><use href="#b" x="636.2" y="1253.5"/><use href="#b" x="715.5" y="1281.8"/><use href="#b" x="619.1" y="1253.2"/><use href="#b" x="748.7" y="1333.1"/><use href="#b" x="783.1" y="1265.2"/><use href="#b" x="634.3" y="1156.2"/><use href="#b" x="697" y="1337.8"/><use href="#b" x="646.4" y="1343.2"/><use href="#b" x="603.1" y="1222.9"/><use href="#b" x="771.1" y="1288.9"/><use href="#b" x="718.8" y="1154.1"/><use href="#b" x="641.8" y="1366"/><use href="#b" x="686" y="1172.8"/><use href="#b" x="717.3" y="1240.1"/><use href="#b" x="711.1" y="1209"/><use href="#b" x="726.5" y="1196.6"/><use href="#b" x="778.1" y="1361.1"/><use href="#b" x="700.6" y="1391.2"/><use href="#b" x="608.4" y="1142"/><use href="#b" x="603.9" y="1303"/><use href="#b" x="675.7" y="1241.2"/><use href="#b" x="708.5" y="1176.9"/><use href="#b" x="717.1" y="1393.4"/><use href="#b" x="769.6" y="1299.6"/><use href="#b" x="669" y="1342.5"/><use href="#b" x="609.6" y="1173.6"/><use href="#b" x="778.8" y="1207.2"/><use href="#b" x="627.4" y="1260.2"/><use href="#b" x="624.5" y="1307.4"/><use href="#b" x="746.8" y="1383"/><use href="#b" x="734.2" y="1383.3"/><use href="#b" x="709.9" y="1314.1"/><use href="#b" x="710.6" y="1377.9"/><use href="#b" x="750.5" y="1248.8"/><use href="#b" x="673.9" y="1361.7"/><use href="#b" x="643.6" y="1310"/><use href="#b" x="756.8" y="1379.2"/><use href="#b" x="766.5" y="1339.4"/><use href="#b" x="761.9" y="1331"/><use href="#b" x="716.9" y="1341.1"/><use href="#b" x="640.5" y="1245.3"/><use href="#b" x="753.4" y="1386.2"/><use href="#b" x="793.6" y="1377.3"/><use href="#b" x="647.2" y="1249.1"/><use href="#b" x="631.1" y="1146.5"/><use href="#b" x="658.1" y="1227.6"/><use href="#b" x="594.9" y="1199.2"/><use href="#b" x="619.1" y="1295.2"/><use href="#b" x="701.8" y="1268.2"/><use href="#b" x="632.4" y="1200.8"/><use href="#b" x="706.2" y="1199.2"/><use href="#b" x="647.9" y="1393.3"/><use href="#b" x="639.9" y="1199.5"/><use href="#b" x="641" y="1350.6"/><use href="#b" x="756.4" y="1168.7"/><use href="#b" x="594.3" y="1268.2"/><use href="#b" x="641.5" y="1157.9"/><use href="#b" x="702.8" y="1161.5"/><use href="#b" x="608.9" y="1165.8"/><use href="#b" x="619.4" y="1143.6"/><use href="#b" x="807.4" y="1338.7"/><use href="#b" x="785.6" y="1393.4"/><use href="#b" x="671.1" y="1335.5"/><use href="#b" x="687.6" y="1346.9"/><use href="#b" x="603" y="1198.8"/><use href="#b" x="644.3" y="1206.9"/><use href="#b" x="750.5" y="1289.8"/><use href="#b" x="707.1" y="1370.5"/><use href="#b" x="786.7" y="1247.7"/><use href="#b" x="755.7" y="1177.4"/><use href="#b" x="626.3" y="1273.8"/><use href="#b" x="634" y="1214.4"/><use href="#b" x="626.8" y="1237.3"/><use href="#b" x="737.9" y="1266.2"/><use href="#b" x="672.1" y="1210"/><use href="#b" x="675.3" y="1146.3"/><use href="#b" x="735.5" y="1315.5"/><use href="#b" x="734" y="1296.6"/><use href="#b" x="611.5" y="1387.3"/>
</g>
<path d="M583.2 999.2L591.6 999.2L591.6 1396.8L812.4 1396.8L812.4 999.2L820.8 999.2L820.8 1405.2L583.2 1405.2Z" fill="#2b2a29"/>
</g>
<g id="pipe2">
<path d="M956.8 504.6 L743.8 504.6 Q734.8 504.6 734.8 513.6 L734.8 1040 L752.8 1040 L752.8 522.2 L956.8 522.2 Z" fill="#fff" stroke="#222" stroke-width="1.4"/>
<path d="M734.4 1036 L730.5 1338 A10.2 10.4 0 0 0 751 1338 L752.6 1036 Z" fill="#fff" stroke="#222" stroke-width="1.3"/>
<path d="M730.5 1336.5 Q740.7 1341 751 1336.5" fill="none" stroke="#222" stroke-width="1.1"/>
<rect x="956.8" y="503.8" width="18.6" height="19.4" fill="#fff" stroke="#222" stroke-width="1.4"/>
<path d="M752.9 1063.3 L756.7 1063.3 L755.3 1328 L751.5 1328 Z" fill="#d4d4d4" stroke="#555" stroke-width="0.8"/>
<g fill="none" stroke="#222" stroke-width="1.4">
<path d="M734.8 546.8L743.8 538.8L752.8 546.8"/>
<path d="M734.8 567.7L743.8 559.7L752.8 567.7"/>
<path d="M734.8 588.6L743.8 580.6L752.8 588.6"/>
<path d="M734.8 609.5L743.8 601.5L752.8 609.5"/>
<path d="M734.8 630.4L743.8 622.4L752.8 630.4"/>
<path d="M734.8 651.3L743.8 643.3L752.8 651.3"/>
<path d="M734.8 672.2L743.8 664.2L752.8 672.2"/>
<path d="M734.8 693.1L743.8 685.1L752.8 693.1"/>
<path d="M734.8 714L743.8 706L752.8 714"/>
<path d="M734.8 734.9L743.8 726.9L752.8 734.9"/>
<path d="M734.8 755.8L743.8 747.8L752.8 755.8"/>
<path d="M734.8 776.7L743.8 768.7L752.8 776.7"/>
<path d="M734.8 797.6L743.8 789.6L752.8 797.6"/>
<path d="M734.8 818.5L743.8 810.5L752.8 818.5"/>
<path d="M734.8 839.4L743.8 831.4L752.8 839.4"/>
<path d="M734.8 860.3L743.8 852.3L752.8 860.3"/>
<path d="M734.8 881.2L743.8 873.2L752.8 881.2"/>
<path d="M734.8 902.1L743.8 894.1L752.8 902.1"/>
<path d="M734.8 923L743.8 915L752.8 923"/>
<path d="M734.8 943.9L743.8 935.9L752.8 943.9"/>
<path d="M734.8 964.8L743.8 956.8L752.8 964.8"/>
<path d="M734.8 985.7L743.8 977.7L752.8 985.7"/>
<path d="M734.8 1006.6L743.8 998.6L752.8 1006.6"/>
<path d="M734.8 1027.5L743.8 1019.5L752.8 1027.5"/>
<path d="M752.9 504.6L759.3 513.4L752.9 522.2"/>
<path d="M773.8 504.6L780.1 513.4L773.8 522.2"/>
<path d="M794.6 504.6L801 513.4L794.6 522.2"/>
<path d="M815.4 504.6L821.8 513.4L815.4 522.2"/>
<path d="M836.3 504.6L842.7 513.4L836.3 522.2"/>
<path d="M857.1 504.6L863.5 513.4L857.1 522.2"/>
<path d="M878 504.6L884.4 513.4L878 522.2"/>
<path d="M898.9 504.6L905.2 513.4L898.9 522.2"/>
<path d="M919.7 504.6L926.1 513.4L919.7 522.2"/>
</g>
<use href="#b" x="742.8" y="1322"/><use href="#b" x="740.2" y="1305.1"/><use href="#b" x="740.9" y="1288"/><use href="#b" x="744.7" y="1271.6"/><use href="#b" x="740.6" y="1258.5"/><use href="#b" x="739.7" y="1245.7"/><use href="#b" x="745" y="1231.1"/><use href="#b" x="740.2" y="1214.7"/><use href="#b" x="741.1" y="1198.9"/><use href="#b" x="741.8" y="1184.5"/><use href="#b" x="744.2" y="1170.1"/><use href="#b" x="741.2" y="1157.7"/><use href="#b" x="743.3" y="1141.2"/><use href="#b" x="742.1" y="1124.7"/><use href="#b" x="740.2" y="1108.9"/><use href="#b" x="744.8" y="1095.1"/><use href="#b" x="744.9" y="1080.1"/><use href="#b" x="742.9" y="1067"/><use href="#b" x="744.9" y="1050.4"/><use href="#b" x="745" y="1037.5"/><use href="#b" x="742.3" y="1024.8"/><use href="#b" x="741.1" y="1008"/><use href="#b" x="746.8" y="991"/><use href="#b" x="743.2" y="975.2"/><use href="#b" x="746.3" y="961"/><use href="#b" x="743.2" y="947.8"/><use href="#b" x="742" y="935.5"/><use href="#b" x="746.3" y="922.2"/><use href="#b" x="746.1" y="909.2"/><use href="#b" x="742.2" y="894.3"/><use href="#b" x="744.9" y="881.9"/><use href="#b" x="744.9" y="867.4"/><use href="#b" x="745.5" y="849.9"/><use href="#b" x="743.1" y="837.2"/><use href="#b" x="744.9" y="825.2"/><use href="#b" x="740.9" y="810.3"/><use href="#b" x="745.4" y="796.3"/><use href="#b" x="742.4" y="782.5"/><use href="#b" x="746.9" y="769.4"/><use href="#b" x="741.6" y="754.9"/><use href="#b" x="742.6" y="742.1"/><use href="#b" x="745.5" y="728.2"/><use href="#b" x="746.7" y="711.6"/><use href="#b" x="741.4" y="699.9"/><use href="#b" x="741.7" y="685.5"/><use href="#b" x="746.8" y="671.7"/><use href="#b" x="746.9" y="655.1"/><use href="#b" x="742.9" y="642.9"/><use href="#b" x="746.8" y="627.3"/><use href="#b" x="741.2" y="611.9"/><use href="#b" x="744.4" y="597.1"/><use href="#b" x="740.8" y="584.2"/><use href="#b" x="744.6" y="570.9"/><use href="#b" x="741.4" y="555.6"/><use href="#b" x="745.7" y="543.7"/><use href="#b" x="743.1" y="512.5"/><use href="#b" x="759.5" y="513.1"/><use href="#b" x="776.8" y="512.9"/><use href="#b" x="794.3" y="512.5"/><use href="#b" x="805.9" y="514"/><use href="#b" x="821.8" y="509.7"/><use href="#b" x="835.4" y="513.7"/><use href="#b" x="848.4" y="512.5"/><use href="#b" x="860.3" y="513.1"/><use href="#b" x="871" y="513.7"/><use href="#b" x="882.9" y="510.3"/><use href="#b" x="892" y="515.4"/><use href="#b" x="901" y="510.3"/><use href="#b" x="912.9" y="515.9"/><use href="#b" x="924.8" y="510.3"/><use href="#b" x="944" y="516.5"/><use href="#b" x="953.1" y="512.5"/><use href="#b" x="745.9" y="525"/>
</g>
<g id="hopper">
<use href="#b" x="1107" y="842.2"/><use href="#b" x="1037.5" y="1053.7"/><use href="#b" x="1090.2" y="1115.9"/><use href="#b" x="1177.7" y="1271.7"/><use href="#b" x="1091.6" y="712.7"/><use href="#b" x="1040.5" y="1330"/><use href="#b" x="1032.7" y="747.1"/><use href="#b" x="995.9" y="1241.7"/><use href="#b" x="1200.8" y="987.8"/><use href="#b" x="1177.3" y="816.3"/><use href="#b" x="1031.3" y="883.4"/><use href="#r" x="1105.9" y="1267.5"/><use href="#r" x="1011.1" y="1234.6"/><use href="#r" x="976.2" y="1015.2"/><use href="#b" x="1030.9" y="711.8"/><use href="#b" x="1062.3" y="1204.2"/><use href="#b" x="1129.9" y="1118"/><use href="#b" x="1001" y="728.3"/><use href="#b" x="1182.3" y="752.4"/><use href="#b" x="1010.2" y="925.5"/><use href="#r" x="1064.6" y="1142.1"/><use href="#b" x="1142.2" y="1053"/><use href="#b" x="1080.6" y="917.1"/><use href="#b" x="1102.1" y="754.6"/><use href="#b" x="1195.3" y="788.8"/><use href="#b" x="1137.5" y="1047.2"/><use href="#r" x="1002.3" y="899"/><use href="#b" x="1043.8" y="948.5"/><use href="#b" x="994.7" y="994.3"/><use href="#b" x="1007.2" y="1014.3"/><use href="#b" x="1054.4" y="756.7"/><use href="#r" x="1118" y="1303.8"/><use href="#r" x="978.9" y="1022.8"/><use href="#b" x="1113.9" y="935.6"/><use href="#b" x="1159.4" y="997"/><use href="#r" x="994.1" y="1253.6"/><use href="#r" x="995.8" y="915.3"/><use href="#b" x="1186.8" y="931.9"/><use href="#b" x="1202.8" y="1181.8"/><use href="#b" x="1116.1" y="856.7"/><use href="#b" x="1012.5" y="752.4"/><use href="#b" x="1113.9" y="1087.4"/><use href="#b" x="1145.6" y="1263.9"/><use href="#r" x="1109.1" y="929.2"/><use href="#b" x="1211.6" y="860.1"/><use href="#b" x="1016.7" y="793.9"/><use href="#b" x="1050.4" y="826.6"/><use href="#b" x="1030.6" y="939.8"/><use href="#b" x="1126.8" y="710.7"/><use href="#r" x="1049.5" y="1206.2"/><use href="#b" x="1028.6" y="1049.7"/><use href="#b" x="1051.7" y="706.1"/><use href="#b" x="960.7" y="1027.8"/><use href="#b" x="944.7" y="976.8"/><use href="#r" x="973.6" y="788.2"/><use href="#b" x="1176.7" y="860.5"/><use href="#b" x="1103.4" y="720.6"/><use href="#b" x="942.1" y="1081.7"/><use href="#r" x="943" y="1052.7"/><use href="#b" x="946.3" y="844.9"/><use href="#b" x="987.5" y="1213.3"/><use href="#b" x="1166.2" y="1196"/><use href="#b" x="1108.5" y="1070.8"/><use href="#b" x="1090.8" y="876.8"/><use href="#b" x="994.9" y="1021.7"/><use href="#b" x="1028.2" y="758.1"/><use href="#r" x="1020.7" y="1017.2"/><use href="#b" x="1191.5" y="778.8"/><use href="#b" x="1036.6" y="753.8"/><use href="#b" x="1134.7" y="714.1"/><use href="#r" x="1148.9" y="1206.1"/><use href="#b" x="1119.4" y="995.2"/><use href="#r" x="1112.6" y="1145.4"/><use href="#b" x="1091.7" y="813.2"/><use href="#r" x="1034.8" y="1130.8"/><use href="#b" x="1036" y="1282.7"/><use href="#r" x="969.2" y="1027.4"/><use href="#r" x="944.3" y="1151.8"/><use href="#r" x="1122.1" y="1321.8"/><use href="#b" x="1125.8" y="789.4"/><use href="#b" x="1063.7" y="1259.2"/><use href="#b" x="1127.9" y="992.6"/><use href="#b" x="941.9" y="1097.2"/><use href="#r" x="994" y="726"/><use href="#b" x="1118.6" y="1209.6"/><use href="#r" x="1003.5" y="1240.6"/><use href="#b" x="977.8" y="1198.4"/><use href="#b" x="985.6" y="1125.6"/><use href="#r" x="1200.3" y="995.3"/><use href="#b" x="1188.8" y="1014.8"/><use href="#b" x="1002.7" y="1291.6"/><use href="#b" x="1174.4" y="1167"/><use href="#b" x="1187.2" y="758.7"/><use href="#b" x="1062.2" y="1005.9"/><use href="#b" x="981.7" y="1074.9"/><use href="#r" x="962.2" y="1210"/><use href="#b" x="1028.4" y="1078.7"/><use href="#b" x="1000.4" y="813.3"/><use href="#b" x="1139" y="1004.5"/><use href="#b" x="1115.4" y="1072.9"/><use href="#b" x="1108.2" y="1186"/><use href="#b" x="1041.3" y="1021.5"/><use href="#b" x="1171.1" y="1159.8"/><use href="#r" x="1088.4" y="1008.6"/><use href="#b" x="1047.8" y="1234.3"/><use href="#r" x="990.6" y="1043.1"/><use href="#b" x="1162.5" y="977.9"/><use href="#b" x="1117" y="1328.9"/><use href="#b" x="1065.4" y="695.9"/><use href="#b" x="1148.9" y="1166.1"/><use href="#r" x="957.3" y="833.8"/><use href="#r" x="1171.6" y="755"/><use href="#b" x="1093" y="855.4"/><use href="#b" x="950.9" y="757.2"/><use href="#b" x="1016.5" y="718.5"/><use href="#r" x="1196" y="1189.4"/><use href="#b" x="969.4" y="867"/><use href="#b" x="1200.1" y="1120.5"/><use href="#r" x="1015.3" y="1024.7"/><use href="#r" x="1099.2" y="933.7"/><use href="#b" x="976.1" y="752.5"/><use href="#r" x="960.7" y="1192.7"/><use href="#r" x="1174.6" y="1081.2"/><use href="#b" x="1087.3" y="1250.2"/><use href="#b" x="1208.5" y="1152.7"/><use href="#b" x="1201.9" y="783.1"/><use href="#r" x="988.1" y="936.3"/><use href="#r" x="953.5" y="821.4"/><use href="#r" x="1023.7" y="1253"/><use href="#r" x="1067.2" y="969.1"/><use href="#r" x="1137.5" y="948.1"/><use href="#b" x="1165.5" y="1166.6"/><use href="#r" x="1060.4" y="1110.9"/><use href="#b" x="1184.7" y="1245.5"/><use href="#b" x="954.2" y="814.1"/><use href="#b" x="1200.2" y="933.8"/><use href="#b" x="965.7" y="1106.8"/><use href="#r" x="1166.8" y="1080.8"/><use href="#b" x="1128.3" y="1190.7"/><use href="#b" x="983.2" y="793.3"/><use href="#b" x="1154.7" y="723.6"/><use href="#r" x="1158.1" y="758.3"/><use href="#r" x="966.5" y="1038.6"/><use href="#b" x="1046.7" y="1196.8"/><use href="#b" x="1210.9" y="1039.9"/><use href="#b" x="1085.1" y="936.1"/><use href="#b" x="1046.3" y="1010.8"/><use href="#r" x="959.5" y="1014.6"/><use href="#r" x="1029.7" y="967.5"/><use href="#r" x="1036.3" y="1187.3"/><use href="#b" x="1075.9" y="738.2"/><use href="#r" x="1137.5" y="881.2"/><use href="#r" x="1009.3" y="982.1"/><use href="#r" x="1033.1" y="913.4"/><use href="#b" x="1109.4" y="1063.6"/><use href="#b" x="989.8" y="1226.6"/><use href="#b" x="1106.7" y="1209.3"/><use href="#b" x="1082.2" y="839.4"/><use href="#r" x="1127.9" y="1173"/><use href="#b" x="1104.1" y="745.3"/><use href="#b" x="1202.4" y="817.5"/><use href="#b" x="1107.5" y="993.5"/><use href="#b" x="1211.5" y="896.1"/><use href="#r" x="1049.5" y="977.7"/><use href="#b" x="1160.4" y="715.6"/><use href="#r" x="1054.1" y="1013.3"/><use href="#b" x="1040.5" y="734.1"/><use href="#r" x="982.7" y="1033.3"/><use href="#b" x="1127" y="923"/><use href="#r" x="1039.3" y="820.8"/><use href="#r" x="1025.5" y="1157.8"/><use href="#b" x="1172" y="878"/><use href="#r" x="941.2" y="890.8"/><use href="#b" x="1116.2" y="951.7"/><use href="#r" x="1119.1" y="1262.9"/><use href="#r" x="1103.7" y="1108.4"/><use href="#r" x="1026.1" y="1094.1"/><use href="#r" x="1134" y="830.6"/><use href="#r" x="991.4" y="987.5"/><use href="#r" x="1051.8" y="810.4"/><use href="#r" x="995.8" y="1081.2"/><use href="#b" x="1145.2" y="921.4"/><use href="#r" x="1115.6" y="1158"/><use href="#b" x="1079.6" y="1053.3"/><use href="#b" x="1211.9" y="991.9"/><use href="#r" x="1030.9" y="1221.2"/><use href="#r" x="1007.1" y="1266.6"/><use href="#r" x="1027.6" y="977.4"/><use href="#b" x="1140.3" y="783.8"/><use href="#b" x="1076.2" y="998.6"/><use href="#b" x="1136.4" y="1209.9"/><use href="#b" x="1129.8" y="839"/><use href="#b" x="1061.1" y="872.1"/><use href="#b" x="1016.1" y="1173.8"/><use href="#b" x="1141" y="739.8"/><use href="#b" x="1106.5" y="1166.9"/><use href="#b" x="1120" y="698.5"/><use href="#r" x="970.6" y="1084.3"/><use href="#b" x="944.4" y="761.7"/><use href="#b" x="1057.5" y="998.2"/><use href="#b" x="1188" y="975"/><use href="#r" x="1081.4" y="1298.4"/><use href="#b" x="1136.9" y="731.9"/><use href="#r" x="1005.1" y="1069.5"/><use href="#b" x="942.1" y="814.2"/><use href="#b" x="1151.2" y="1198.8"/><use href="#r" x="956.5" y="1214.9"/><use href="#b" x="969.6" y="960.4"/><use href="#r" x="1022.3" y="920.3"/><use href="#b" x="1174.1" y="1065.7"/><use href="#b" x="1118.1" y="964.1"/><use href="#r" x="1009.6" y="1251"/><use href="#r" x="1000.1" y="1271.6"/><use href="#r" x="1187.1" y="1062.8"/><use href="#b" x="1201.3" y="1139.3"/><use href="#b" x="1149.7" y="790.1"/><use href="#r" x="1010.2" y="1045.1"/><use href="#b" x="1071.2" y="1210.9"/><use href="#b" x="1045" y="748.9"/><use href="#r" x="946.8" y="933.9"/><use href="#r" x="1040.4" y="893.9"/><use href="#b" x="1187.3" y="1191.2"/><use href="#b" x="1195.3" y="1068.9"/><use href="#b" x="1086.6" y="865"/><use href="#b" x="1053.9" y="732.9"/><use href="#b" x="1022.3" y="710.3"/><use href="#b" x="1030.5" y="807.7"/><use href="#r" x="956" y="1035.2"/><use href="#b" x="1129.1" y="976.3"/><use href="#r" x="992.4" y="812.9"/><use href="#b" x="1144.8" y="726.7"/><use href="#b" x="1086.1" y="1144.3"/><use href="#b" x="1143.1" y="1132.5"/><use href="#b" x="1091.7" y="781.8"/><use href="#b" x="1076" y="948.1"/><use href="#r" x="992.1" y="1129.8"/><use href="#b" x="1146.1" y="1071.2"/><use href="#b" x="1194.5" y="742.3"/><use href="#b" x="1074.9" y="790"/><use href="#b" x="1062.4" y="924.1"/><use href="#b" x="961.7" y="759.5"/><use href="#b" x="1072.8" y="747.3"/><use href="#r" x="982.8" y="920.3"/><use href="#b" x="976.3" y="908.2"/><use href="#b" x="1189.9" y="809.3"/><use href="#b" x="1109.2" y="1124.2"/><use href="#r" x="1144" y="906.3"/><use href="#b" x="1128.4" y="934.8"/><use href="#b" x="1137.9" y="724.2"/><use href="#b" x="1172" y="1073"/><use href="#b" x="1143.3" y="776.8"/><use href="#b" x="1180.4" y="953.4"/><use href="#b" x="1153.8" y="1294.1"/><use href="#b" x="1144.4" y="762.4"/><use href="#r" x="1165.3" y="1105.7"/><use href="#b" x="998.9" y="753.7"/><use href="#b" x="1199.2" y="776.4"/><use href="#r" x="979" y="760.4"/><use href="#b" x="1095.8" y="1211.9"/><use href="#b" x="1180.5" y="943.9"/><use href="#r" x="1146.8" y="1189.7"/><use href="#r" x="1018" y="963.1"/><use href="#b" x="1122" y="973.4"/><use href="#b" x="1186.9" y="853"/><use href="#b" x="1171.2" y="1125.4"/><use href="#r" x="1055.9" y="1091.9"/><use href="#b" x="1039.9" y="1081.1"/><use href="#b" x="1055.5" y="745.9"/><use href="#b" x="1092.5" y="1245"/><use href="#b" x="1063" y="753.6"/><use href="#b" x="1189" y="794.4"/><use href="#b" x="1109.8" y="1333.9"/><use href="#r" x="971.3" y="826.9"/><use href="#b" x="1039.6" y="1252.7"/><use href="#b" x="1122.7" y="895"/><use href="#b" x="1137.4" y="810"/><use href="#r" x="1062.7" y="1299.9"/><use href="#b" x="1104.4" y="1101.3"/><use href="#b" x="1156.4" y="1229.1"/><use href="#r" x="961.6" y="960.5"/><use href="#b" x="1093.3" y="1145.9"/><use href="#b" x="1184" y="1105.6"/><use href="#r" x="1115.5" y="731"/><use href="#b" x="963.7" y="1252.9"/><use href="#b" x="990.2" y="1032.9"/><use href="#r" x="1164.7" y="1134"/><use href="#b" x="1129.1" y="911.6"/><use href="#b" x="1124.1" y="1247.8"/><use href="#r" x="943.1" y="1179.3"/><use href="#r" x="1125.6" y="1305.2"/><use href="#b" x="1072" y="888.1"/><use href="#b" x="1116.2" y="1002.9"/><use href="#b" x="1033" y="739.4"/><use href="#b" x="1144.7" y="986.9"/><use href="#r" x="1037.4" y="943.2"/><use href="#b" x="1149.3" y="1272.6"/><use href="#b" x="1024.5" y="1143.9"/><use href="#b" x="1077.4" y="1152.1"/><use href="#b" x="1197.8" y="754.8"/><use href="#b" x="1154" y="1236.1"/><use href="#b" x="1131.9" y="965.6"/><use href="#b" x="1116.9" y="887.5"/><use href="#b" x="969.3" y="1123.3"/><use href="#b" x="1103.4" y="1237.7"/><use href="#b" x="1130.2" y="1135.3"/><use href="#r" x="992.4" y="867.3"/><use href="#r" x="1159" y="1192.1"/><use href="#b" x="1083.2" y="1237.2"/><use href="#b" x="1139" y="751.6"/><use href="#b" x="1069.7" y="1231"/><use href="#b" x="1068.7" y="1078.1"/><use href="#b" x="1139.8" y="1125.1"/><use href="#b" x="1187.7" y="736.6"/><use href="#r" x="946.9" y="771.4"/><use href="#b" x="1070.3" y="1146.5"/><use href="#r" x="963.1" y="995.5"/><use href="#r" x="974.4" y="1111.4"/><use href="#b" x="1138" y="1067.4"/><use href="#b" x="990" y="1234.2"/><use href="#b" x="1192.5" y="843.5"/><use href="#b" x="1052.6" y="984.4"/><use href="#b" x="1111" y="716.8"/><use href="#r" x="983.5" y="1193.4"/><use href="#b" x="954.4" y="806.9"/><use href="#b" x="1079.7" y="880.9"/><use href="#r" x="1119.2" y="1064.5"/><use href="#r" x="1017.1" y="1270.7"/><use href="#b" x="1058" y="1044.5"/><use href="#b" x="1099.2" y="1150.7"/><use href="#b" x="1031.5" y="1085.3"/><use href="#r" x="1022.7" y="1120.4"/><use href="#r" x="1034.9" y="975.2"/><use href="#b" x="1030.5" y="1202.5"/><use href="#b" x="1186.4" y="743.7"/><use href="#b" x="1072.9" y="859.7"/><use href="#b" x="1031.1" y="867.9"/><use href="#b" x="1202.7" y="1052.6"/><use href="#r" x="1012" y="906.2"/><use href="#b" x="1081.2" y="893.7"/><use href="#b" x="944.8" y="856.6"/><use href="#r" x="968.5" y="859.6"/><use href="#b" x="1087.4" y="1210.3"/><use href="#b" x="1014.5" y="762.4"/><use href="#b" x="1111.8" y="1055.7"/><use href="#r" x="1004.3" y="1299.5"/><use href="#b" x="1103.2" y="1040.8"/><use href="#b" x="1138.6" y="841.5"/><use href="#r" x="952.1" y="992.3"/><use href="#b" x="984.5" y="754.3"/><use href="#b" x="1112.5" y="1020.9"/><use href="#b" x="1090.2" y="1015.6"/><use href="#r" x="969.1" y="1075.5"/><use href="#b" x="1155.8" y="776.5"/><use href="#r" x="1033.2" y="1004.6"/><use href="#b" x="975.8" y="1233.8"/><use href="#b" x="1055.5" y="1163.4"/><use href="#b" x="1144.9" y="1248"/><use href="#b" x="1124.1" y="735.1"/><use href="#r" x="1006.1" y="808.7"/><use href="#r" x="972.9" y="840"/><use href="#r" x="947.8" y="1111.9"/><use href="#r" x="1110.1" y="760.8"/><use href="#b" x="1068.1" y="999.1"/><use href="#b" x="1056.3" y="848.8"/><use href="#b" x="1121.4" y="1166.2"/><use href="#b" x="1152.1" y="768"/><use href="#b" x="1107.9" y="1159.1"/><use href="#b" x="1108" y="1151"/><use href="#r" x="1193.8" y="763.1"/><use href="#b" x="1063.8" y="762.8"/><use href="#b" x="1137.1" y="1114.2"/><use href="#b" x="995.4" y="941.9"/><use href="#r" x="979.9" y="1041.5"/><use href="#r" x="1082.4" y="1134.2"/><use href="#r" x="1067.8" y="1154"/><use href="#r" x="941.3" y="1135.7"/><use href="#b" x="1150.3" y="1131.4"/><use href="#b" x="1081.1" y="1290.3"/><use href="#b" x="1202.1" y="885"/><use href="#b" x="1197" y="1149.5"/><use href="#b" x="1068.9" y="1051.9"/><use href="#b" x="1169.2" y="1049.5"/><use href="#b" x="1170.5" y="1003.9"/><use href="#b" x="1205.9" y="1001.8"/><use href="#r" x="1045.1" y="1309.1"/><use href="#b" x="1071" y="987.1"/><use href="#b" x="1124" y="758.5"/><use href="#b" x="1099.5" y="780.2"/><use href="#b" x="1049.5" y="1031.4"/><use href="#b" x="1088.7" y="819.9"/><use href="#b" x="1186.7" y="947.9"/><use href="#b" x="1199.8" y="1019.7"/><use href="#b" x="1178.2" y="1185.1"/><use href="#b" x="1019.5" y="754.2"/><use href="#r" x="1008" y="1090.4"/><use href="#b" x="1190.3" y="992.4"/><use href="#b" x="1052.7" y="783.8"/><use href="#b" x="1148.2" y="742.6"/><use href="#b" x="1064.9" y="704.8"/><use href="#b" x="1074.8" y="1026.4"/><use href="#b" x="1171.1" y="1183.1"/><use href="#r" x="1032.6" y="960.6"/><use href="#b" x="1095.6" y="720"/><use href="#b" x="1113.3" y="748.1"/><use href="#b" x="1144.2" y="884.3"/><use href="#b" x="945.2" y="740.6"/><use href="#b" x="950.9" y="906.9"/><use href="#r" x="975.4" y="953.5"/><use href="#b" x="1038.7" y="884.6"/><use href="#b" x="1012.3" y="736.2"/><use href="#b" x="955.4" y="1114.9"/><use href="#b" x="950.1" y="1247.8"/><use href="#b" x="1172.8" y="790.8"/><use href="#r" x="1152" y="1039.2"/><use href="#b" x="1110.7" y="1249.5"/><use href="#b" x="1083.2" y="1022.6"/><use href="#b" x="958.1" y="775.6"/><use href="#b" x="1010.9" y="1164.7"/><use href="#b" x="1195" y="915.4"/><use href="#b" x="1210.3" y="1120.9"/><use href="#r" x="1015.5" y="869.2"/><use href="#r" x="967" y="1149.3"/><use href="#b" x="1158.1" y="1090.6"/><use href="#b" x="1062.5" y="1168.5"/><use href="#b" x="1152.8" y="752.8"/><use href="#r" x="1046.5" y="1286.3"/><use href="#b" x="1040" y="995.6"/><use href="#b" x="1131.6" y="1017.2"/><use href="#r" x="961" y="1230.6"/><use href="#b" x="1109.5" y="947.3"/><use href="#b" x="1105.3" y="1003.5"/><use href="#b" x="1136.7" y="1087"/><use href="#r" x="1120.2" y="1277.8"/><use href="#b" x="1172.6" y="988.5"/><use href="#b" x="1210.9" y="1145.6"/><use href="#b" x="1073.7" y="1164"/><use href="#r" x="997.9" y="1121"/><use href="#b" x="1073.9" y="1224.2"/><use href="#r" x="1078.5" y="1270.1"/><use href="#r" x="970.4" y="1091.9"/><use href="#b" x="1204.4" y="1250.4"/><use href="#r" x="987.9" y="1274.1"/><use href="#b" x="1135.7" y="1099"/><use href="#b" x="1163.1" y="1183.9"/><use href="#b" x="1047.4" y="1335.4"/><use href="#r" x="1014.7" y="1241.5"/><use href="#r" x="1096.2" y="1263.7"/><use href="#r" x="983.3" y="1154.4"/><use href="#r" x="1043.3" y="837.4"/><use href="#b" x="944.2" y="963.3"/><use href="#r" x="1199.8" y="980.1"/><use href="#b" x="1063.6" y="1031.3"/><use href="#b" x="1098" y="1018.9"/><use href="#r" x="1103.6" y="1116.1"/><use href="#b" x="1131.9" y="1000.9"/><use href="#b" x="1199.5" y="1162.3"/><use href="#r" x="1121.2" y="1029.5"/><use href="#b" x="1099.6" y="878.2"/><use href="#b" x="1202.8" y="1233.4"/><use href="#b" x="1082.2" y="1244.3"/><use href="#b" x="1057.4" y="864.6"/><use href="#b" x="1180.4" y="1112.3"/><use href="#r" x="949" y="1098.2"/><use href="#r" x="1073.1" y="1016.4"/><use href="#r" x="953.7" y="1054.6"/><use href="#r" x="960" y="922.6"/><use href="#b" x="1193.1" y="968.8"/><use href="#b" x="1150" y="1173.4"/><use href="#b" x="984.3" y="826.5"/><use href="#r" x="993.6" y="853.1"/><use href="#r" x="1201" y="1082.3"/><use href="#b" x="943.8" y="783.1"/><use href="#b" x="1211.1" y="1185"/><use href="#r" x="960.3" y="1073"/><use href="#r" x="1013" y="957.5"/><use href="#r" x="1082.1" y="1101.1"/><use href="#b" x="1190.3" y="1021.9"/><use href="#r" x="1030.1" y="1191"/><use href="#b" x="949.2" y="1215.2"/><use href="#b" x="1208" y="873.5"/><use href="#b" x="1120.9" y="851.3"/><use href="#r" x="1032.8" y="779.5"/><use href="#b" x="1207.2" y="1159.9"/><use href="#b" x="1125.1" y="1224.4"/><use href="#b" x="1051" y="726.2"/><use href="#b" x="1161.5" y="1160.2"/><use href="#r" x="945.3" y="1062"/><use href="#r" x="960.6" y="1138.7"/><use href="#b" x="1100" y="1028.6"/><use href="#r" x="1054.7" y="1236.4"/><use href="#r" x="943.2" y="1159.4"/><use href="#b" x="1163.6" y="837.4"/><use href="#b" x="989.2" y="762.1"/><use href="#r" x="1113.9" y="872.5"/><use href="#b" x="1211.8" y="1102.9"/><use href="#b" x="1090.7" y="693.6"/><use href="#b" x="1181.5" y="791"/><use href="#b" x="1212.3" y="1006.5"/><use href="#b" x="1114.1" y="864.3"/><use href="#b" x="1104.9" y="1021.2"/><use href="#b" x="1121.8" y="839"/><use href="#r" x="1008.9" y="799.1"/><use href="#b" x="1145.7" y="814.3"/><use href="#r" x="1030.5" y="787"/><use href="#b" x="1203.5" y="912.7"/><use href="#b" x="1048.5" y="876.6"/><use href="#r" x="1126" y="711.5"/><use href="#b" x="1129.9" y="1236.8"/><use href="#b" x="1074.7" y="1200.5"/><use href="#b" x="1080.3" y="1068.5"/><use href="#r" x="1068.6" y="1271.3"/><use href="#b" x="1023.6" y="885.1"/><use href="#r" x="1031.2" y="1169.7"/><use href="#b" x="1175.7" y="999"/><use href="#b" x="1129.9" y="1126.8"/><use href="#b" x="993.9" y="735"/><use href="#b" x="1076.7" y="797.1"/><use href="#r" x="1112.3" y="1321.6"/><use href="#r" x="966.5" y="1176.7"/><use href="#r" x="1090.9" y="893.3"/><use href="#b" x="977" y="1226.2"/><use href="#b" x="1212.1" y="741.6"/><use href="#b" x="1180" y="980.5"/><use href="#b" x="1175.9" y="1014.4"/><use href="#r" x="1094.6" y="1310"/><use href="#r" x="965.3" y="843"/><use href="#b" x="1126.5" y="888.1"/><use href="#b" x="1034.5" y="1044.7"/><use href="#b" x="1058.6" y="1082.4"/><use href="#b" x="1167.5" y="1036.6"/><use href="#r" x="941.9" y="880.3"/><use href="#r" x="1057.9" y="1249.8"/><use href="#b" x="1090.4" y="1069.7"/><use href="#r" x="1130.3" y="1318"/><use href="#r" x="1071.9" y="1285.9"/><use href="#b" x="1175.8" y="1210.3"/><use href="#b" x="1085.8" y="808.2"/><use href="#b" x="1111.5" y="788.4"/><use href="#b" x="1020.5" y="1133.9"/><use href="#b" x="997.2" y="1174.9"/><use href="#r" x="1014.7" y="1205.3"/><use href="#b" x="1039.3" y="1063"/><use href="#b" x="1071.2" y="1087.5"/><use href="#b" x="1128.7" y="1087.7"/><use href="#b" x="1079.2" y="1252.8"/><use href="#r" x="978.6" y="1098.4"/><use href="#b" x="1054.5" y="953.4"/><use href="#b" x="1000.3" y="1184.7"/><use href="#r" x="990.5" y="1118.1"/><use href="#b" x="1176.1" y="1022.2"/><use href="#b" x="1064.5" y="958.2"/><use href="#b" x="1167.1" y="885.3"/><use href="#r" x="1001.5" y="783"/><use href="#b" x="996.8" y="1051.2"/><use href="#r" x="1007.7" y="1178.1"/><use href="#b" x="1183.1" y="1205.9"/><use href="#b" x="1128.8" y="723.1"/><use href="#b" x="1016.5" y="838.1"/><use href="#b" x="989" y="1058.4"/><use href="#b" x="1001" y="1086.8"/><use href="#r" x="1031.8" y="1162"/><use href="#r" x="979.3" y="1067.9"/><use href="#r" x="1054.4" y="1317.8"/><use href="#b" x="1149.2" y="1055.3"/><use href="#r" x="993.1" y="897.8"/><use href="#b" x="1164.5" y="761.6"/><use href="#b" x="1015.3" y="919"/><use href="#r" x="988" y="818.6"/><use href="#b" x="967.4" y="1268.2"/><use href="#b" x="1152.4" y="706.9"/><use href="#b" x="1041.4" y="741.9"/><use href="#b" x="1207.7" y="1084.7"/><use href="#b" x="1045.5" y="1069.9"/><use href="#b" x="1097.3" y="819.5"/><use href="#b" x="1175.9" y="1249"/><use href="#r" x="1006.7" y="1125.3"/><use href="#r" x="1196.3" y="1127.5"/><use href="#b" x="1055.8" y="719.2"/><use href="#b" x="1079.6" y="1331.2"/><use href="#b" x="1076.8" y="902.4"/><use href="#b" x="997.1" y="905.8"/><use href="#b" x="1201.3" y="853.3"/><use href="#r" x="1034.1" y="1106.9"/><use href="#b" x="1095.3" y="870"/><use href="#b" x="1170.1" y="1263.8"/><use href="#b" x="1113.8" y="1203.2"/><use href="#r" x="1082.6" y="1316.8"/><use href="#b" x="1175.7" y="1089.5"/><use href="#b" x="1016.1" y="728"/><use href="#r" x="996.5" y="761.5"/><use href="#r" x="956.5" y="1084.8"/><use href="#b" x="1211.2" y="815"/><use href="#b" x="1110.5" y="1226.4"/><use href="#b" x="1020.6" y="1163.6"/><use href="#r" x="986" y="1107.8"/><use href="#b" x="1107.6" y="910.9"/><use href="#b" x="1144.7" y="862"/><use href="#r" x="979.2" y="1048.8"/><use href="#b" x="1084.9" y="724.8"/><use href="#r" x="950.1" y="982.7"/><use href="#b" x="966.4" y="1054.5"/><use href="#r" x="954.6" y="1235.5"/><use href="#b" x="1064.5" y="1189.6"/><use href="#r" x="982.9" y="1235.7"/><use href="#b" x="975.7" y="923.3"/><use href="#r" x="1103.1" y="891.6"/><use href="#b" x="950.8" y="1158.1"/><use href="#b" x="1183.2" y="1075.7"/><use href="#b" x="1145.4" y="947.8"/><use href="#b" x="1124.2" y="815.6"/><use href="#b" x="989.5" y="1206.1"/><use href="#b" x="1156.3" y="862.7"/><use href="#b" x="1021.7" y="1190.8"/><use href="#b" x="1196.8" y="1028.2"/><use href="#b" x="1161.3" y="1291.9"/><use href="#b" x="1040.5" y="778.6"/><use href="#b" x="1172.4" y="763.4"/><use href="#r" x="1133.8" y="1284.1"/><use href="#b" x="1019.1" y="926.9"/><use href="#r" x="995.4" y="1062.6"/><use href="#r" x="972.5" y="1103.6"/><use href="#b" x="1045.1" y="700.5"/><use href="#b" x="1185.1" y="844.7"/><use href="#b" x="1101.1" y="1191.9"/><use href="#r" x="987.9" y="803.3"/><use href="#b" x="1078.5" y="758.4"/><use href="#b" x="1150.5" y="981.8"/><use href="#b" x="1079.4" y="1218.5"/><use href="#b" x="1206.3" y="1213.1"/><use href="#b" x="1025.6" y="748.7"/><use href="#b" x="1192.3" y="1243.1"/><use href="#b" x="1070.2" y="800.2"/><use href="#r" x="1054.6" y="1132.7"/><use href="#r" x="1080.5" y="1260"/><use href="#r" x="989.5" y="887.9"/><use href="#r" x="1081.6" y="925.4"/><use href="#b" x="1198.2" y="808.9"/><use href="#r" x="1133.5" y="1275.9"/><use href="#r" x="1014.2" y="1065.8"/><use href="#b" x="1092.7" y="794.1"/><use href="#r" x="1043.7" y="829.4"/><use href="#r" x="975.2" y="1249.7"/><use href="#b" x="1033.8" y="984.6"/><use href="#b" x="1107.4" y="1326.9"/><use href="#r" x="949.1" y="835.1"/><use href="#b" x="1145.7" y="755.1"/><use href="#b" x="1112.8" y="1033"/><use href="#b" x="1183.4" y="1023.8"/><use href="#r" x="942.9" y="1248.7"/><use href="#b" x="1167.8" y="913.3"/><use href="#b" x="1103.5" y="835.6"/><use href="#r" x="1033.1" y="992.8"/><use href="#b" x="1173" y="920.6"/><use href="#b" x="1136.7" y="1151.8"/><use href="#r" x="1151.6" y="1151"/><use href="#b" x="1185.5" y="986.5"/><use href="#b" x="1211.2" y="1015.2"/><use href="#b" x="941.5" y="826.4"/><use href="#r" x="1024.4" y="812.6"/><use href="#r" x="1113.5" y="1272.3"/><use href="#b" x="1052.3" y="1054.6"/><use href="#b" x="1175.5" y="1105.2"/><use href="#b" x="1195.8" y="1076.3"/><use href="#b" x="1141.3" y="1145.1"/><use href="#b" x="1114.2" y="1114.5"/><use href="#r" x="1171.2" y="1190.3"/><use href="#r" x="1047.1" y="1275"/><use href="#b" x="1054.6" y="1332.1"/><use href="#r" x="1017.3" y="1039.1"/><use href="#b" x="944.6" y="753.3"/><use href="#b" x="1025.4" y="1260.9"/><use href="#b" x="1057" y="696.8"/><use href="#r" x="1054.6" y="1294"/><use href="#r" x="1038.3" y="1073.1"/><use href="#b" x="1092.6" y="1160.5"/><use href="#b" x="1146.1" y="1005.9"/><use href="#r" x="1010.8" y="897"/><use href="#b" x="1131.5" y="1070.7"/><use href="#r" x="1084.5" y="1176.9"/><use href="#b" x="1158.9" y="873.5"/><use href="#b" x="1049.7" y="970.1"/><use href="#b" x="1120.8" y="939.3"/><use href="#b" x="983" y="877.8"/><use href="#b" x="1178.7" y="849.9"/><use href="#r" x="972.7" y="914.9"/><use href="#r" x="1050.5" y="1268.4"/><use href="#b" x="1190.3" y="1054.8"/><use href="#r" x="1088.8" y="1299.2"/><use href="#r" x="1013.4" y="932.1"/><use href="#b" x="1019.8" y="735.9"/><use href="#b" x="1176" y="1219"/><use href="#b" x="1206.9" y="922.5"/><use href="#b" x="1160.5" y="782.6"/><use href="#r" x="947.7" y="1119.2"/><use href="#b" x="1183.9" y="805.2"/><use href="#b" x="1128.4" y="1292.9"/><use href="#b" x="1129.2" y="849.5"/><use href="#r" x="1212.2" y="1206.6"/><use href="#r" x="965" y="1098.8"/><use href="#b" x="1071" y="754.6"/><use href="#r" x="981.4" y="928"/><use href="#b" x="1041.6" y="982.9"/><use href="#b" x="1061.8" y="950.4"/><use href="#b" x="1018" y="846.3"/><use href="#b" x="1092.5" y="1091.4"/><use href="#r" x="1167.1" y="800.5"/><use href="#r" x="1211.2" y="979.4"/><use href="#b" x="1140.5" y="1060.5"/><use href="#r" x="1006.2" y="1134.2"/><use href="#b" x="1130" y="752.1"/><use href="#b" x="980.2" y="738.1"/><use href="#r" x="1029.1" y="1229.8"/><use href="#b" x="1119" y="1242.5"/><use href="#r" x="1144.7" y="1293"/><use href="#r" x="1013.3" y="1146.9"/><use href="#b" x="984.9" y="850.3"/><use href="#b" x="1121.1" y="1013.8"/><use href="#b" x="1152.6" y="988.9"/><use href="#b" x="1086.2" y="717.6"/><use href="#b" x="1070.5" y="810"/><use href="#r" x="1015" y="941.6"/><use href="#r" x="1156.2" y="907.6"/><use href="#b" x="1057.9" y="1148"/><use href="#b" x="1136.6" y="850.4"/><use href="#r" x="1033.8" y="1015.1"/><use href="#b" x="1008.4" y="743.3"/><use href="#b" x="1111.3" y="697.3"/><use href="#r" x="1020" y="991.2"/><use href="#r" x="1027.2" y="1208.8"/><use href="#r" x="1061.9" y="1281.4"/><use href="#b" x="1130.2" y="1060.5"/><use href="#b" x="1149.8" y="1021"/><use href="#r" x="966.2" y="725.6"/><use href="#r" x="1014.3" y="1057.5"/><use href="#b" x="1130.2" y="953.5"/><use href="#b" x="1045.4" y="1227.3"/><use href="#r" x="1044.9" y="1163"/><use href="#r" x="1075.7" y="1320"/><use href="#b" x="1071.7" y="1334.3"/><use href="#b" x="1141.9" y="820.6"/><use href="#r" x="1169.2" y="1272.8"/><use href="#r" x="945.4" y="1024.3"/><use href="#b" x="1005.1" y="892.2"/><use href="#r" x="1026.1" y="1310.9"/><use href="#b" x="1072.8" y="776"/><use href="#r" x="978.2" y="845.5"/><use href="#b" x="1026.6" y="1109.9"/><use href="#b" x="1007.6" y="861.6"/><use href="#r" x="1074.8" y="981"/><use href="#r" x="1000.2" y="1112.9"/><use href="#b" x="1119" y="752.7"/><use href="#b" x="1047" y="756.4"/><use href="#b" x="1040" y="1303.5"/><use href="#b" x="1062.2" y="912.1"/><use href="#b" x="1181" y="873.6"/><use href="#r" x="986" y="993.4"/><use href="#b" x="1062.7" y="887.2"/><use href="#r" x="943" y="1143.6"/><use href="#b" x="1169.3" y="855.5"/><use href="#b" x="1196.7" y="876.2"/><use href="#b" x="1163.2" y="1262"/><use href="#b" x="1096.9" y="746.9"/><use href="#b" x="1185.6" y="1094.2"/><use href="#b" x="1002.3" y="998.5"/><use href="#r" x="1047.3" y="1125.9"/><use href="#b" x="1000.7" y="950.1"/><use href="#b" x="957.7" y="1148.1"/><use href="#b" x="1146.5" y="806.6"/><use href="#b" x="1173.1" y="774.6"/><use href="#b" x="1003.1" y="1280.2"/><use href="#b" x="998.7" y="720.2"/><use href="#b" x="1067.5" y="788.3"/><use href="#b" x="1136" y="913.4"/><use href="#b" x="1130.7" y="1110.4"/><use href="#b" x="1034.7" y="1239.9"/><use href="#b" x="1044.9" y="812.6"/><use href="#b" x="1161.3" y="919"/><use href="#b" x="1058.8" y="1125.6"/><use href="#b" x="976.8" y="770.4"/><use href="#b" x="1152.1" y="826.3"/><use href="#b" x="1143.8" y="1255.7"/><use href="#b" x="1137.4" y="1036.1"/><use href="#b" x="1069.2" y="1252.4"/><use href="#r" x="973.1" y="799.6"/><use href="#r" x="990.1" y="1281.4"/><use href="#r" x="946.4" y="864.8"/><use href="#r" x="1052.5" y="1260.8"/><use href="#b" x="1099.8" y="1317.1"/><use href="#b" x="1090.8" y="836.4"/><use href="#b" x="1117.6" y="1224.9"/><use href="#b" x="1002.1" y="924.3"/><use href="#b" x="1180.4" y="880.9"/><use href="#b" x="1125.2" y="1312.6"/><use href="#b" x="1069" y="1327.4"/><use href="#b" x="1097.9" y="1122.3"/><use href="#b" x="1017.9" y="745"/><use href="#b" x="1076.7" y="1173.5"/><use href="#r" x="959.8" y="886"/><use href="#r" x="1074.5" y="852.7"/><use href="#b" x="1095.6" y="956.8"/><use href="#b" x="1023.9" y="841.7"/><use href="#r" x="989.8" y="904.9"/><use href="#b" x="1194.4" y="851.2"/><use href="#r" x="944.4" y="796.9"/><use href="#b" x="959.6" y="945.8"/><use href="#r" x="1025.1" y="997.9"/><use href="#b" x="1163.7" y="733.2"/><use href="#b" x="959" y="766.3"/><use href="#r" x="977.7" y="1188.9"/><use href="#b" x="1160.2" y="984.8"/><use href="#b" x="1100.4" y="905.2"/><use href="#b" x="1102.8" y="1296.7"/><use href="#b" x="1099.7" y="860.3"/><use href="#b" x="1134.5" y="1054.7"/><use href="#b" x="1131.5" y="1031.4"/><use href="#r" x="1202.5" y="732"/><use href="#r" x="1167.8" y="1012.1"/><use href="#r" x="1021" y="1079.5"/><use href="#r" x="1041.6" y="1269.6"/><use href="#b" x="1204.5" y="1131.7"/><use href="#r" x="943.1" y="1169.8"/><use href="#b" x="1121.6" y="1087"/><use href="#b" x="945.1" y="1105.2"/><use href="#b" x="1161.3" y="1073.1"/><use href="#b" x="1156.5" y="840.3"/><use href="#b" x="1203.8" y="1065.2"/><use href="#b" x="1057.6" y="1117.9"/><use href="#r" x="1046.1" y="1294.7"/><use href="#b" x="1080.5" y="750.9"/><use href="#b" x="1020.4" y="1183.5"/><use href="#r" x="1003" y="793.2"/><use href="#b" x="1055.1" y="1005"/><use href="#b" x="1211.3" y="733.3"/><use href="#b" x="1154.1" y="945.4"/><use href="#b" x="1144.3" y="933.2"/><use href="#b" x="1037.9" y="787"/><use href="#b" x="1142" y="791"/><use href="#r" x="946" y="1223.5"/><use href="#b" x="978" y="960.6"/><use href="#b" x="1050.1" y="1044.1"/><use href="#b" x="1090" y="1168.2"/><use href="#b" x="1055.7" y="1102.2"/><use href="#b" x="1171.9" y="1028.4"/><use href="#b" x="1133.5" y="798.7"/><use href="#b" x="1019.6" y="1231.3"/><use href="#r" x="991.1" y="924.6"/><use href="#b" x="1056.5" y="1156"/><use href="#r" x="1090.4" y="945.4"/><use href="#b" x="1147.1" y="1139.3"/><use href="#b" x="1046.3" y="999.7"/><use href="#r" x="1201.1" y="762.7"/><use href="#b" x="1185.2" y="1149.3"/><use href="#b" x="1065.4" y="1160.7"/><use href="#b" x="1069.7" y="1133.6"/><use href="#b" x="1056.2" y="764.1"/><use href="#b" x="1147.4" y="1241.2"/><use href="#r" x="1006.3" y="1022.6"/><use href="#r" x="1103.5" y="1228.8"/><use href="#r" x="1093" y="1254.7"/><use href="#r" x="986.6" y="1016.3"/><use href="#b" x="1116.4" y="1179.5"/><use href="#r" x="1089.3" y="1273.7"/><use href="#r" x="1054" y="1277.2"/><use href="#b" x="1165.8" y="1088"/><use href="#b" x="1122.2" y="808.1"/><use href="#b" x="1193.1" y="1034.7"/><use href="#r" x="951.7" y="1142.5"/><use href="#b" x="1128.8" y="742.6"/><use href="#r" x="954.4" y="938.6"/><use href="#b" x="1205" y="1171.3"/><use href="#b" x="1179.9" y="1193.9"/><use href="#r" x="1034.9" y="1210.6"/><use href="#b" x="1187.2" y="1179.3"/><use href="#r" x="1032.6" y="815.8"/><use href="#r" x="1042" y="973.6"/><use href="#b" x="1099.8" y="1142.4"/><use href="#b" x="1111.3" y="808.1"/><use href="#b" x="1117.9" y="878.9"/><use href="#b" x="1142.5" y="1156.3"/><use href="#b" x="1099.6" y="1325"/><use href="#b" x="1025.1" y="741.1"/><use href="#b" x="1095.7" y="1225.2"/><use href="#b" x="1158.6" y="1147.1"/><use href="#b" x="1079" y="805.3"/><use href="#r" x="1053.6" y="991.6"/><use href="#r" x="959.1" y="1046.5"/><use href="#b" x="1102.5" y="1129.8"/><use href="#r" x="1010.7" y="843.8"/><use href="#b" x="1044.5" y="1050.6"/><use href="#r" x="1209.1" y="948.6"/><use href="#r" x="946.5" y="1015.7"/><use href="#b" x="1202.3" y="867.4"/><use href="#b" x="1036.7" y="1194.5"/><use href="#b" x="960" y="1122.9"/><use href="#b" x="1102.5" y="771.8"/><use href="#r" x="996" y="1167.8"/><use href="#b" x="1074.4" y="940.6"/><use href="#b" x="1034.6" y="762.2"/><use href="#b" x="1098.2" y="896.9"/><use href="#b" x="1008.9" y="729.4"/><use href="#b" x="1144.1" y="1230.1"/><use href="#b" x="1101" y="713.8"/><use href="#b" x="1086.5" y="1220.2"/><use href="#b" x="1134.9" y="778.3"/><use href="#b" x="1202.3" y="742.9"/><use href="#b" x="1158.9" y="1210.5"/><use href="#r" x="1060.5" y="1273.9"/><use href="#b" x="964.8" y="752.8"/><use href="#b" x="1025.9" y="768.9"/><use href="#r" x="1157.4" y="1166.2"/><use href="#b" x="1189.1" y="1268.3"/><use href="#b" x="1132.8" y="791.1"/><use href="#r" x="1037.9" y="1201.8"/><use href="#b" x="1059.7" y="726.1"/><use href="#b" x="1132.4" y="858.9"/><use href="#r" x="1087.7" y="1188.1"/><use href="#r" x="988.8" y="1170"/><use href="#b" x="987.4" y="1242.7"/><use href="#b" x="1068.2" y="1173.8"/><use href="#b" x="1118.7" y="986.4"/><use href="#r" x="978.1" y="1241.1"/><use href="#r" x="965.3" y="851.8"/><use href="#b" x="1087.1" y="1086"/><use href="#r" x="992.7" y="768.5"/><use href="#r" x="969.4" y="1211"/><use href="#b" x="997.3" y="877.9"/><use href="#b" x="1210.9" y="1063.5"/><use href="#b" x="1207.3" y="774.7"/><use href="#r" x="1010.8" y="787.7"/><use href="#r" x="943.7" y="1043.9"/><use href="#b" x="1089.1" y="757.5"/><use href="#r" x="1176.2" y="807.4"/><use href="#b" x="1069.6" y="952.5"/><use href="#r" x="981.5" y="1008.9"/><use href="#b" x="1020.2" y="1072.3"/><use href="#r" x="953.2" y="1091.3"/><use href="#r" x="1113.5" y="1104.6"/><use href="#r" x="965.4" y="835.2"/><use href="#b" x="1138.7" y="1074.7"/><use href="#r" x="965.4" y="812.7"/><use href="#b" x="1153" y="1002.1"/><use href="#r" x="979.8" y="820.8"/><use href="#b" x="999.9" y="1009.5"/><use href="#b" x="1116.8" y="801.7"/><use href="#b" x="1171.8" y="907.2"/><use href="#b" x="1087.5" y="732"/><use href="#r" x="1008.9" y="1103.9"/><use href="#b" x="1147" y="1115.1"/><use href="#b" x="1169" y="728.2"/><use href="#b" x="1038.5" y="1147.3"/><use href="#b" x="1002" y="1204.4"/><use href="#r" x="1137.7" y="926.2"/><use href="#b" x="1128.3" y="984.8"/><use href="#r" x="970.3" y="1135.9"/><use href="#b" x="1189.8" y="824.5"/><use href="#b" x="1174.6" y="840.7"/><use href="#r" x="1008.4" y="1209.6"/><use href="#r" x="949.5" y="1229.7"/><use href="#b" x="1179.6" y="741.1"/><use href="#b" x="1123.4" y="1105.4"/><use href="#r" x="999.4" y="1074.9"/><use href="#b" x="1145.6" y="913.6"/><use href="#r" x="981.5" y="943.7"/><use href="#b" x="1075.2" y="1034.7"/><use href="#b" x="1089.5" y="766"/><use href="#b" x="956" y="967.1"/><use href="#r" x="1162.1" y="1201.9"/><use href="#r" x="1021" y="832.3"/><use href="#b" x="975.1" y="1004.6"/><use href="#b" x="1066.1" y="769.7"/><use href="#b" x="1150.6" y="966.1"/><use href="#b" x="1155.6" y="883.1"/><use href="#r" x="1048.7" y="917.5"/><use href="#r" x="957.9" y="981"/><use href="#b" x="1050.5" y="834.8"/><use href="#b" x="1122" y="690.4"/><use href="#b" x="1153.2" y="1246.5"/><use href="#b" x="1067.7" y="1068.7"/><use href="#b" x="1170.6" y="981.6"/><use href="#b" x="1139.7" y="1188"/><use href="#r" x="1126.3" y="1273.4"/><use href="#r" x="980.2" y="936.5"/><use href="#b" x="1029.3" y="733"/><use href="#b" x="1192.9" y="924.1"/><use href="#b" x="992.1" y="949.3"/><use href="#b" x="1141.6" y="711"/><use href="#r" x="1052.3" y="1225"/><use href="#b" x="1049.9" y="774"/><use href="#b" x="1076.9" y="725.9"/><use href="#b" x="1040.8" y="1004.7"/><use href="#b" x="1108.3" y="1290.2"/><use href="#b" x="1074.1" y="925.9"/><use href="#r" x="1143.1" y="872.8"/><use href="#b" x="1097.9" y="1010.6"/><use href="#b" x="1061.4" y="1339.8"/><use href="#b" x="1090.7" y="1338"/><use href="#b" x="1069" y="827.4"/><use href="#b" x="1068.5" y="729.4"/><use href="#r" x="1026.3" y="904.3"/><use href="#b" x="1060.9" y="777.1"/><use href="#b" x="967.7" y="819.9"/><use href="#b" x="1211.3" y="761.8"/><use href="#b" x="1093.8" y="998.8"/><use href="#r" x="1065.5" y="704.5"/><use href="#b" x="1137.4" y="1024"/><use href="#b" x="1211.2" y="1136.7"/><use href="#r" x="978" y="886.5"/><use href="#b" x="1064.8" y="1061.6"/><use href="#b" x="1207.4" y="1223.1"/><use href="#b" x="1174.6" y="721.3"/><use href="#r" x="1015" y="1009.8"/><use href="#r" x="997.7" y="1210.2"/><use href="#r" x="941.4" y="835.3"/><use href="#b" x="1089.3" y="1060"/><use href="#b" x="1101.1" y="1086.9"/><use href="#r" x="1166.8" y="778.7"/><use href="#r" x="1028.8" y="835.6"/><use href="#b" x="1173.8" y="962"/><use href="#b" x="1170.2" y="1204.7"/><use href="#b" x="958.3" y="742.4"/><use href="#b" x="1124.4" y="1001.9"/><use href="#b" x="1205.6" y="1010.5"/><use href="#r" x="1015.8" y="1213.4"/><use href="#b" x="1081.7" y="711.5"/><use href="#b" x="1103.6" y="1279.3"/><use href="#r" x="1053.1" y="793.8"/><use href="#b" x="1114.1" y="838.7"/><use href="#b" x="1088" y="974"/><use href="#b" x="1131.8" y="1008.1"/><use href="#b" x="1041.6" y="1133.4"/><use href="#b" x="1206.8" y="808.5"/><use href="#b" x="1111.8" y="849.3"/><use href="#r" x="1163.3" y="819"/><use href="#r" x="1099.7" y="1184.2"/><use href="#b" x="1127.6" y="1025.4"/><use href="#b" x="1129" y="782.7"/><use href="#b" x="1142.3" y="899.3"/><use href="#r" x="952.4" y="828.6"/><use href="#b" x="1026.4" y="1066.3"/><use href="#b" x="1049.8" y="1119.1"/><use href="#b" x="1158.6" y="831.9"/><use href="#b" x="1195.3" y="801.3"/><use href="#b" x="1035.5" y="728.9"/><use href="#r" x="1003.2" y="1255.1"/><use href="#b" x="1080.7" y="990.1"/><use href="#b" x="1046.8" y="956.1"/><use href="#r" x="1074.6" y="764.5"/><use href="#b" x="1079.2" y="1081.4"/><use href="#b" x="1201.8" y="955"/><use href="#r" x="1004.4" y="906.1"/><use href="#b" x="950.2" y="957.5"/><use href="#b" x="961" y="731.9"/><use href="#r" x="1025.5" y="1269.9"/><use href="#r" x="976.5" y="1174.3"/><use href="#b" x="1056.4" y="1036"/><use href="#b" x="961.6" y="878.4"/><use href="#r" x="982.1" y="1282.6"/><use href="#r" x="951.6" y="796.7"/><use href="#b" x="1208.3" y="961.9"/><use href="#b" x="1150.3" y="1158.5"/><use href="#b" x="1165.8" y="1233.9"/><use href="#b" x="1165.2" y="808.7"/><use href="#b" x="1056.6" y="1061.1"/><use href="#r" x="1206.7" y="1197.6"/><use href="#r" x="1034" y="922.3"/><use href="#b" x="1117.5" y="926.9"/><use href="#b" x="1152.9" y="1185.7"/><use href="#r" x="944.9" y="1074"/><use href="#b" x="1045.9" y="909.6"/><use href="#r" x="1197" y="1176"/><use href="#b" x="1105.2" y="792.5"/><use href="#b" x="1153.7" y="1084.1"/><use href="#b" x="1119" y="1149.5"/><use href="#b" x="1085.9" y="1122.5"/><use href="#b" x="1136.6" y="904.6"/><use href="#b" x="1099.8" y="688.6"/><use href="#b" x="1081.4" y="743.1"/><use href="#b" x="1179.1" y="1176.4"/><use href="#r" x="984.8" y="811.2"/><use href="#b" x="957.4" y="954.1"/><use href="#r" x="1050.5" y="1169.3"/><use href="#b" x="1202.5" y="1257.4"/><use href="#b" x="1197.2" y="1046.9"/><use href="#r" x="1049.8" y="1097"/><use href="#b" x="1191.2" y="884.7"/><use href="#r" x="1035.7" y="1116.4"/><use href="#b" x="1130.2" y="1046.2"/><use href="#b" x="1171" y="1111"/><use href="#r" x="1035" y="1092"/><use href="#b" x="1211.8" y="1113.5"/><use href="#b" x="1160.7" y="1243.6"/><use href="#b" x="1133.8" y="1144.2"/><use href="#b" x="1209.6" y="939.2"/><use href="#r" x="1015.4" y="1107.1"/><use href="#b" x="1058.6" y="881"/><use href="#r" x="1200.7" y="926.3"/><use href="#b" x="1208.6" y="801.3"/><use href="#b" x="1203.6" y="750.3"/><use href="#b" x="1199" y="1226.6"/><use href="#b" x="1023.7" y="1102.4"/><use href="#b" x="1169.7" y="814.4"/><use href="#b" x="1176.7" y="1239.1"/><use href="#b" x="1119.4" y="1217.7"/><use href="#r" x="1025.9" y="914.1"/><use href="#b" x="1181.7" y="724"/><use href="#r" x="1044.8" y="1187"/><use href="#r" x="1089.1" y="1261.3"/><use href="#r" x="950.6" y="878.9"/><use href="#b" x="993.3" y="1143.5"/><use href="#b" x="995.5" y="956.1"/><use href="#r" x="957.7" y="1245"/><use href="#b" x="994.5" y="931.5"/><use href="#r" x="971.4" y="847.6"/><use href="#b" x="1192.8" y="771.5"/><use href="#b" x="1125.7" y="800"/><use href="#b" x="964.4" y="1199.1"/><use href="#r" x="1119.6" y="1096.1"/><use href="#r" x="1004.9" y="958.8"/><use href="#b" x="1186.4" y="1041"/><use href="#r" x="986.2" y="1065.6"/><use href="#r" x="1188.7" y="835.9"/><use href="#b" x="1080" y="1014.6"/><use href="#b" x="1116.1" y="819.4"/><use href="#b" x="982" y="1143.5"/><use href="#b" x="1202.5" y="734.8"/><use href="#b" x="1079.5" y="862.8"/><use href="#r" x="977.6" y="1256.6"/><use href="#b" x="1168.5" y="935.1"/><use href="#r" x="1025.8" y="984.6"/><use href="#b" x="1210.5" y="1074.9"/><use href="#r" x="1025.3" y="794.7"/><use href="#b" x="1113.3" y="1130.2"/><use href="#b" x="1079.8" y="872.4"/><use href="#r" x="1144.9" y="827.8"/><use href="#r" x="976.3" y="1056"/><use href="#b" x="1210.8" y="825.1"/><use href="#b" x="1177" y="781.8"/><use href="#b" x="1163.1" y="1043.4"/><use href="#b" x="1163.7" y="850.2"/><use href="#b" x="1061" y="803.6"/><use href="#b" x="1195" y="1215.3"/><use href="#r" x="1211.7" y="972.1"/><use href="#b" x="1172.4" y="867.2"/><use href="#b" x="1082.3" y="814.8"/><use href="#r" x="1149.4" y="1286.7"/><use href="#b" x="1079.5" y="1230.3"/><use href="#b" x="1173" y="1134.1"/><use href="#r" x="1075" y="1244.9"/><use href="#r" x="941.1" y="1203"/><use href="#b" x="1211.6" y="1053.9"/><use href="#r" x="994.3" y="1090.6"/><use href="#b" x="1071.3" y="1297.2"/><use href="#r" x="1100.6" y="1162.4"/><use href="#r" x="966.1" y="966.7"/><use href="#b" x="1100.2" y="735.3"/><use href="#r" x="964.4" y="1114.1"/><use href="#r" x="1024.3" y="1085.9"/><use href="#b" x="1083.7" y="855.9"/><use href="#b" x="1105.8" y="986.4"/><use href="#b" x="1133.7" y="1259.9"/><use href="#b" x="1046.7" y="1060.9"/><use href="#b" x="990.1" y="727.1"/><use href="#b" x="1200.6" y="899.9"/><use href="#b" x="1009.1" y="1200"/><use href="#b" x="1134.1" y="1179.5"/><use href="#r" x="1008.2" y="1141.9"/><use href="#b" x="1155" y="737.6"/><use href="#b" x="1192.7" y="1086.5"/><use href="#b" x="1008.3" y="990.8"/><use href="#b" x="1074.7" y="1106.7"/><use href="#b" x="1172" y="1174"/><use href="#b" x="993.2" y="972.5"/><use href="#r" x="971.8" y="1274.8"/><use href="#r" x="1119.8" y="1037.1"/><use href="#b" x="1195.8" y="1001.2"/><use href="#r" x="1009" y="1275.3"/><use href="#b" x="1136.3" y="889.1"/><use href="#b" x="1181.5" y="1068.2"/><use href="#b" x="1197.6" y="1248"/><use href="#b" x="1181.5" y="731.2"/><use href="#b" x="1084.5" y="776.8"/><use href="#b" x="1145.4" y="718"/><use href="#b" x="1198.8" y="944.9"/><use href="#b" x="1203.5" y="795.6"/><use href="#b" x="965.3" y="936.7"/><use href="#b" x="1083.5" y="1002.5"/><use href="#b" x="1200.2" y="1090.4"/><use href="#r" x="1003" y="720"/><use href="#b" x="1173.3" y="952.4"/><use href="#r" x="1019.2" y="911.1"/><use href="#b" x="1168.1" y="740.5"/><use href="#b" x="1139.5" y="802.8"/><use href="#r" x="1014.1" y="810.6"/><use href="#b" x="1157.9" y="1178.5"/><use href="#b" x="1001" y="1042.9"/><use href="#r" x="1059.2" y="839.9"/><use href="#b" x="1153" y="716.4"/><use href="#r" x="977" y="1131.6"/><use href="#b" x="1054.8" y="857.2"/><use href="#r" x="998.5" y="1035.3"/><use href="#b" x="1174" y="747.3"/><use href="#b" x="1111.8" y="1234.5"/><use href="#b" x="1206.4" y="1239.9"/><use href="#r" x="954.1" y="1133.6"/><use href="#b" x="1043.8" y="763.1"/><use href="#b" x="1128" y="702.1"/><use href="#b" x="1126.6" y="903.4"/><use href="#b" x="1001.3" y="767.8"/><use href="#b" x="1093.9" y="1033.6"/><use href="#b" x="1088.9" y="749.3"/><use href="#r" x="1066.8" y="849.7"/><use href="#b" x="1172.7" y="972.2"/><use href="#b" x="1111.8" y="796.1"/><use href="#r" x="1096.3" y="1275.7"/><use href="#r" x="1137.1" y="1303.1"/><use href="#r" x="954.6" y="861.5"/><use href="#b" x="973.6" y="1062.9"/><use href="#r" x="1017" y="1089.5"/><use href="#b" x="1086.9" y="996.2"/><use href="#r" x="1029.3" y="1058.5"/><use href="#b" x="1112.2" y="689.9"/><use href="#r" x="997.6" y="844.5"/><use href="#b" x="1072.7" y="697.6"/><use href="#b" x="1186.1" y="818.3"/><use href="#b" x="1140.2" y="1203.8"/><use href="#r" x="1100.7" y="1062.9"/><use href="#b" x="1082.2" y="1060.6"/><use href="#b" x="1058" y="823.4"/><use href="#r" x="1104.3" y="1200.6"/><use href="#r" x="1043.5" y="845.5"/><use href="#b" x="1186.1" y="1199.3"/><use href="#r" x="985.9" y="1100.4"/><use href="#r" x="1133.8" y="1230.6"/><use href="#b" x="1040.5" y="1030.6"/><use href="#b" x="1050.9" y="1215.6"/><use href="#b" x="1112.7" y="1281.9"/><use href="#b" x="1160.4" y="1112.2"/><use href="#b" x="1075.7" y="836.1"/><use href="#b" x="1141" y="834"/><use href="#b" x="983.7" y="858.4"/><use href="#r" x="996.9" y="1217.4"/><use href="#r" x="982.5" y="1165"/><use href="#b" x="1135.9" y="699.7"/><use href="#b" x="1178.2" y="797.9"/><use href="#b" x="1071.7" y="1194"/><use href="#b" x="1106.8" y="970.7"/><use href="#b" x="1189.9" y="1047.5"/><use href="#r" x="988.5" y="1050.3"/><use href="#b" x="1106.9" y="875.1"/><use href="#b" x="1137.4" y="1136.9"/><use href="#r" x="1111.1" y="1308.2"/><use href="#r" x="991" y="1195.4"/><use href="#b" x="1019.1" y="1222.3"/><use href="#r" x="1089.7" y="987.5"/><use href="#b" x="1042.1" y="1209.8"/><use href="#b" x="1062.1" y="1331.6"/><use href="#b" x="1188.1" y="787.2"/><use href="#b" x="1117.2" y="781.1"/><use href="#b" x="1156.4" y="802"/><use href="#r" x="1073.2" y="1058.3"/><use href="#b" x="1183" y="828.3"/><use href="#r" x="956.9" y="1177.6"/><use href="#b" x="1013" y="1282"/><use href="#b" x="1000" y="745.4"/><use href="#b" x="1038.1" y="804.3"/><use href="#r" x="979.6" y="782.4"/><use href="#b" x="1147.8" y="837.6"/><use href="#r" x="955.6" y="1106.2"/><use href="#b" x="1181.4" y="961"/><use href="#b" x="1073.4" y="1259.1"/><use href="#r" x="1174.5" y="1057.2"/><use href="#r" x="975.2" y="1181.4"/><use href="#b" x="1130.2" y="881.5"/><use href="#b" x="1158.5" y="1221.8"/><use href="#b" x="962.8" y="1090.2"/><use href="#r" x="1048.9" y="900.7"/><use href="#b" x="1182.7" y="1033"/><use href="#b" x="1051.5" y="946.2"/><use href="#r" x="972.5" y="993.6"/><use href="#r" x="965.7" y="1064.3"/><use href="#b" x="1167.4" y="1215.4"/><use href="#b" x="1042.2" y="1094.2"/><use href="#b" x="1165.2" y="1225.5"/><use href="#b" x="1121.7" y="866.3"/><use href="#b" x="1151.9" y="782.8"/><use href="#r" x="1019.7" y="1030.5"/><use href="#b" x="1198.2" y="828.2"/><use href="#b" x="962.7" y="1081.1"/><use href="#b" x="1042.9" y="1219.8"/><use href="#b" x="944.2" y="987.5"/><use href="#b" x="1157" y="961.7"/><use href="#r" x="976.9" y="855.2"/><use href="#r" x="1021.9" y="1060.1"/><use href="#r" x="1002.4" y="1097"/><use href="#b" x="1044.5" y="861"/><use href="#r" x="985.5" y="974.3"/><use href="#b" x="1024.6" y="1281.4"/><use href="#b" x="1158.3" y="1127.5"/><use href="#r" x="1120.2" y="920.2"/><use href="#b" x="1194.6" y="1095.7"/><use href="#b" x="1158.1" y="1281"/><use href="#b" x="1176.8" y="927.6"/><use href="#r" x="1036.4" y="797.3"/><use href="#b" x="969" y="737.7"/><use href="#r" x="973.5" y="932.8"/><use href="#b" x="959.2" y="867.2"/><use href="#r" x="1126" y="1208.7"/><use href="#b" x="1005.7" y="750"/><use href="#b" x="1134.4" y="1165.5"/><use href="#b" x="943.7" y="897.8"/><use href="#r" x="1045.8" y="990.8"/><use href="#b" x="1008.1" y="1034.9"/><use href="#r" x="1147.9" y="1032"/><use href="#b" x="994.5" y="1266.4"/><use href="#r" x="1097.4" y="925.8"/><use href="#b" x="1066.6" y="816.5"/><use href="#r" x="994.9" y="832.8"/><use href="#r" x="947.2" y="1131.2"/><use href="#r" x="1192" y="729.5"/><use href="#r" x="1144.5" y="1179.7"/><use href="#b" x="1166.7" y="1117.4"/><use href="#b" x="1168" y="1251.9"/><use href="#r" x="990.2" y="876.6"/><use href="#b" x="1055.2" y="930.1"/><use href="#r" x="1149.5" y="995.6"/><use href="#b" x="1117.4" y="741.8"/><use href="#b" x="972.6" y="730.8"/><use href="#r" x="975.1" y="879.7"/><use href="#b" x="1148.2" y="1048"/><use href="#r" x="988.9" y="1073.2"/><use href="#b" x="1083.4" y="846.8"/><use href="#b" x="1083.4" y="1075.1"/><use href="#b" x="1132.9" y="759.2"/><use href="#r" x="982.1" y="836.9"/><use href="#b" x="1198.3" y="1008.7"/><use href="#b" x="1123.7" y="957.5"/><use href="#b" x="1097.7" y="1098"/><use href="#r" x="996.1" y="805.5"/><use href="#b" x="1118.4" y="1123.5"/><use href="#b" x="1168" y="829.6"/><use href="#b" x="1121.4" y="1051.8"/><use href="#b" x="1110.7" y="1261.1"/><use href="#b" x="1149.6" y="958.4"/><use href="#r" x="1011.9" y="888.6"/><use href="#r" x="1018.9" y="1295.7"/><use href="#b" x="1201.8" y="1039.9"/><use href="#b" x="1194.2" y="869.1"/><use href="#r" x="998.5" y="1150"/><use href="#r" x="1083.9" y="1308.1"/><use href="#r" x="1042" y="964.8"/><use href="#r" x="1098.2" y="1172.6"/><use href="#b" x="1166.8" y="956.4"/><use href="#r" x="1048.4" y="1156.6"/><use href="#r" x="941.2" y="913.4"/><use href="#b" x="1089.3" y="927"/><use href="#b" x="1173.7" y="1257.5"/><use href="#b" x="1181.3" y="1136.5"/><use href="#b" x="1066.5" y="1222.4"/><use href="#b" x="1076.7" y="1142.2"/><use href="#b" x="1039.3" y="714.1"/><use href="#b" x="985.2" y="1136.4"/><use href="#b" x="983.6" y="731.8"/><use href="#b" x="1058.4" y="971.3"/><use href="#b" x="963.8" y="1156.1"/><use href="#r" x="1018.9" y="1308.6"/><use href="#r" x="1131" y="1157.5"/><use href="#r" x="995.1" y="965.3"/><use href="#b" x="1101" y="963.1"/><use href="#b" x="1122.1" y="1044.5"/><use href="#b" x="1190" y="726.4"/><use href="#b" x="966.8" y="764.9"/><use href="#b" x="1194.9" y="817.3"/><use href="#r" x="997.3" y="1285.7"/><use href="#r" x="1028.5" y="1135"/><use href="#r" x="1178.4" y="1098"/><use href="#r" x="957.9" y="1170.4"/><use href="#r" x="1000.4" y="1261.9"/><use href="#r" x="1055.7" y="1175.2"/><use href="#b" x="1015.2" y="1000.9"/><use href="#r" x="983.3" y="1221.9"/><use href="#b" x="1182.9" y="1053.4"/><use href="#r" x="1002.3" y="1028.7"/><use href="#r" x="1050" y="716.5"/><use href="#b" x="944.4" y="873.2"/><use href="#b" x="1127.6" y="1077"/><use href="#b" x="1191.4" y="908.9"/><use href="#b" x="1106.1" y="1080.3"/><use href="#b" x="1078.4" y="1119.1"/><use href="#r" x="1000.5" y="984.3"/><use href="#b" x="1117.2" y="905.9"/><use href="#b" x="1181.8" y="1169.8"/><use href="#b" x="1210.8" y="1246.4"/><use href="#r" x="1156.7" y="1052.6"/><use href="#r" x="1032.2" y="1304.5"/><use href="#r" x="1091.1" y="1316.7"/><use href="#b" x="1079.2" y="1189.4"/><use href="#b" x="1212" y="833.2"/><use href="#r" x="1097.7" y="1286.2"/><use href="#b" x="1089.7" y="885"/><use href="#b" x="1101.8" y="915.2"/><use href="#b" x="1018.1" y="1127.2"/><use href="#b" x="1143" y="703.7"/><use href="#b" x="1152.5" y="730.4"/><use href="#b" x="1059" y="1210.7"/><use href="#r" x="942.4" y="1125.4"/><use href="#b" x="1106" y="1138.6"/><use href="#b" x="1123.2" y="1233.4"/><use href="#r" x="1030.3" y="892.6"/><use href="#r" x="1024.7" y="1198.1"/><use href="#r" x="1170.3" y="1280.8"/><use href="#b" x="1101" y="763.5"/><use href="#r" x="1126.6" y="1283.1"/><use href="#b" x="1117.9" y="1080"/><use href="#b" x="1037.2" y="875.3"/><use href="#r" x="975.1" y="1206.2"/><use href="#b" x="987.7" y="1026"/><use href="#b" x="1067.2" y="930.4"/><use href="#r" x="941.7" y="946.2"/><use href="#b" x="1113.4" y="1138.2"/><use href="#b" x="1139.6" y="962.3"/><use href="#b" x="1008.7" y="881.8"/><use href="#b" x="954.4" y="749.5"/><use href="#b" x="1192.9" y="1119.9"/><use href="#r" x="1024.2" y="778.7"/><use href="#r" x="942.8" y="922.4"/><use href="#b" x="1067.3" y="742.7"/><use href="#b" x="978.4" y="723.5"/><use href="#r" x="1088.4" y="1282.9"/><use href="#r" x="982.8" y="1091.8"/><use href="#b" x="1188" y="875.9"/><use href="#b" x="1210.9" y="1128.1"/><use href="#b" x="1000.2" y="860.3"/><use href="#r" x="948" y="942.1"/><use href="#b" x="1200.3" y="841.5"/><use href="#b" x="1113.7" y="1045.8"/><use href="#r" x="950.3" y="917.9"/><use href="#r" x="1028.2" y="1039.8"/><use href="#b" x="964.3" y="794"/><use href="#b" x="1044.3" y="1101.7"/><use href="#b" x="1108.2" y="1219.2"/><use href="#b" x="1106.1" y="1093.2"/><use href="#b" x="1140.8" y="1106.8"/><use href="#b" x="1085.3" y="954.1"/><use href="#b" x="1096.8" y="727.2"/><use href="#r" x="963.7" y="1005.6"/><use href="#b" x="976.1" y="1267.4"/><use href="#r" x="980.1" y="1119.1"/><use href="#b" x="1122.1" y="1116.4"/><use href="#b" x="1135.9" y="987"/><use href="#r" x="1109.1" y="1315.2"/><use href="#b" x="1049.1" y="1019.6"/><use href="#b" x="1094.6" y="1204.4"/><use href="#r" x="951.4" y="779.4"/><use href="#b" x="1192.2" y="1260.7"/><use href="#b" x="1084" y="1194.9"/><use href="#r" x="953.1" y="1125.6"/><use href="#r" x="1101" y="681.5"/><use href="#b" x="952.9" y="734.8"/><use href="#b" x="1029.7" y="855"/><use href="#b" x="1165.2" y="1066.9"/><use href="#b" x="1126.7" y="1098.3"/><use href="#b" x="1154.5" y="1140.7"/><use href="#b" x="1008.6" y="823.1"/><use href="#b" x="1212.4" y="1022.5"/><use href="#r" x="982.3" y="1206.9"/><use href="#b" x="1111.7" y="1172.3"/><use href="#r" x="1070.3" y="1278.4"/><use href="#b" x="1070.5" y="895.9"/><use href="#b" x="1066.3" y="1116.4"/><use href="#b" x="1040.7" y="919.4"/><use href="#b" x="1158.3" y="930.1"/><use href="#b" x="1122.5" y="1129.9"/><use href="#r" x="994.2" y="1014.2"/><use href="#b" x="1059.6" y="1182.9"/><use href="#b" x="1166.2" y="948.6"/><use href="#r" x="1023.5" y="820.5"/><use href="#b" x="1172.6" y="944.4"/><use href="#b" x="1046.9" y="1087.3"/><use href="#r" x="1064.5" y="1289.2"/><use href="#b" x="1014.8" y="819.7"/><use href="#b" x="1192.2" y="1252.8"/><use href="#r" x="1170" y="1150.5"/><use href="#b" x="1076" y="958.1"/><use href="#r" x="960.5" y="1058.6"/><use href="#b" x="1060.8" y="991.7"/><use href="#b" x="1044.4" y="723.3"/><use href="#b" x="1121" y="1022.1"/><use href="#r" x="1140.6" y="1286.8"/><use href="#b" x="1146.4" y="973.7"/><use href="#b" x="1067.3" y="1181.5"/><use href="#b" x="951.6" y="1205.8"/><use href="#r" x="1056.2" y="1287.1"/><use href="#r" x="961.7" y="904"/><use href="#b" x="1143.6" y="1222.2"/><use href="#b" x="1091.6" y="1231"/><use href="#r" x="1029.9" y="1287.2"/><use href="#r" x="989.2" y="1188.4"/><use href="#r" x="971" y="1259.7"/><use href="#r" x="952.5" y="1078.6"/><use href="#r" x="964.4" y="805.5"/><use href="#b" x="1179" y="759.3"/><use href="#b" x="1183.7" y="925.4"/><use href="#r" x="971.4" y="985"/><use href="#b" x="1080.4" y="1090"/><use href="#r" x="1078" y="1278.7"/><use href="#b" x="1003.5" y="737.1"/><use href="#r" x="1097" y="1111"/><use href="#b" x="1103.5" y="979.1"/><use href="#b" x="1194" y="984.4"/><use href="#r" x="973.1" y="971.5"/><use href="#r" x="1160.8" y="1270.7"/><use href="#b" x="1178.5" y="1159.9"/><use href="#b" x="1068.3" y="841"/><use href="#r" x="953.1" y="975.8"/><use href="#b" x="1071.1" y="870.7"/><use href="#b" x="1109.5" y="770.1"/><use href="#b" x="1058.1" y="1196.8"/><use href="#b" x="1113.9" y="976.6"/><use href="#b" x="1141.7" y="1165.3"/><use href="#b" x="1037.9" y="704.2"/><use href="#r" x="1025.8" y="1244.9"/><use href="#b" x="1210.2" y="930.1"/><use href="#r" x="979.3" y="989.3"/><use href="#b" x="1174.5" y="885.6"/><use href="#r" x="1000.8" y="975.8"/><use href="#b" x="1192.4" y="1140.8"/><use href="#r" x="1047.1" y="1318.6"/><use href="#b" x="1100.3" y="812.8"/><use href="#r" x="1075.8" y="1304.5"/><use href="#b" x="983.7" y="982.2"/><use href="#b" x="1065.1" y="861.9"/><use href="#r" x="971.4" y="1195"/><use href="#b" x="1199.8" y="1200.4"/><use href="#b" x="1202" y="1110.2"/><use href="#b" x="1123.3" y="1155.8"/><use href="#b" x="1125" y="859.9"/><use href="#r" x="965.9" y="1168.5"/><use href="#b" x="1105.5" y="922.2"/><use href="#b" x="1210.6" y="1031.5"/><use href="#r" x="1040" y="1125"/><use href="#r" x="1001.9" y="885.8"/><use href="#b" x="983.4" y="1250.5"/><use href="#b" x="1113.9" y="731.3"/><use href="#b" x="1104" y="849.8"/><use href="#b" x="1152.4" y="1009.3"/><use href="#b" x="1035.9" y="1324.1"/><use href="#r" x="966.4" y="1018.2"/><use href="#b" x="1100.8" y="828.6"/><use href="#b" x="1134.3" y="1248.6"/><use href="#b" x="1184.3" y="777.8"/><use href="#r" x="1136.5" y="1241"/><use href="#b" x="1048" y="1177"/><use href="#b" x="942.7" y="1190.8"/><use href="#b" x="1211.3" y="1166.5"/><use href="#r" x="1206.1" y="1046"/><use href="#b" x="980" y="968.9"/><use href="#r" x="1116" y="710"/><use href="#r" x="1131.4" y="1203.7"/><use href="#r" x="1000.5" y="1247.4"/><use href="#b" x="1187.5" y="1126.2"/><use href="#r" x="1136.6" y="1295.1"/><use href="#b" x="1126.6" y="775.3"/><use href="#b" x="1017.5" y="1263"/><use href="#b" x="1085.5" y="790.5"/><use href="#b" x="1149.9" y="1095.2"/><use href="#r" x="1024.7" y="1173.2"/><use href="#r" x="976.3" y="862.9"/><use href="#b" x="1048.1" y="1149.4"/><use href="#r" x="950.7" y="1042"/><use href="#b" x="1098.4" y="993"/><use href="#b" x="1165.3" y="989.9"/><use href="#b" x="1053.2" y="889.5"/><use href="#b" x="1002.1" y="837.1"/><use href="#r" x="1024" y="932.1"/><use href="#r" x="1203" y="969.5"/><use href="#b" x="1119.5" y="792.9"/><use href="#b" x="1142.4" y="1096.1"/><use href="#r" x="1010.3" y="1260.1"/><use href="#b" x="1211.7" y="887"/><use href="#b" x="1076.6" y="1180.9"/><use href="#b" x="1104.2" y="695.9"/><use href="#b" x="1198.6" y="907"/><use href="#b" x="1003.9" y="969.1"/><use href="#r" x="973.8" y="811.6"/><use href="#b" x="1019.4" y="772"/><use href="#r" x="1029.6" y="824.9"/><use href="#b" x="1087.3" y="1201.7"/><use href="#b" x="1059.4" y="790.4"/><use href="#b" x="1035.2" y="1140.9"/><use href="#b" x="1136.5" y="1311.2"/><use href="#r" x="944.4" y="1209.7"/><use href="#r" x="998.3" y="1103.6"/><use href="#r" x="1094.6" y="773.3"/><use href="#b" x="1181.7" y="838"/><use href="#b" x="1050.1" y="842.2"/><use href="#r" x="947.1" y="885.6"/><use href="#b" x="1082.8" y="1037.6"/><use href="#b" x="1152" y="917.5"/><use href="#b" x="1188.1" y="940.3"/><use href="#b" x="946.5" y="789.7"/><use href="#r" x="1019.8" y="892.2"/><use href="#b" x="1070.3" y="1342.7"/><use href="#b" x="1097.5" y="1342.9"/><use href="#b" x="1056.3" y="1024.3"/><use href="#r" x="1122.6" y="1071.4"/><use href="#r" x="1003" y="933.4"/><use href="#r" x="1146.5" y="1279.9"/><use href="#b" x="1136.9" y="766.1"/><use href="#b" x="1046" y="1249.3"/><use href="#b" x="1151.7" y="1218.6"/><use href="#r" x="1013.4" y="1135.8"/><use href="#b" x="1187.6" y="1158.3"/><use href="#b" x="1153.8" y="854.5"/><use href="#b" x="1089.8" y="1152.2"/><use href="#r" x="953.3" y="1000.3"/><use href="#b" x="1061.4" y="1135"/><use href="#b" x="1094.6" y="914.8"/><use href="#r" x="1075.2" y="1237.5"/><use href="#r" x="1076.9" y="1311.8"/><use href="#b" x="1085.3" y="1110.2"/><use href="#r" x="978.2" y="1084.5"/><use href="#b" x="1123.3" y="1184.2"/><use href="#b" x="965.1" y="744.8"/><use href="#b" x="1150.1" y="866.9"/><use href="#b" x="1077.3" y="933.8"/><use href="#r" x="1063.2" y="1241.9"/><use href="#b" x="1072" y="1097.2"/><use href="#b" x="1043.6" y="1112.3"/><use href="#b" x="1066.9" y="917.5"/><use href="#b" x="1110.7" y="962.8"/><use href="#b" x="1079.2" y="973.3"/><use href="#r" x="977.8" y="1216.3"/><use href="#b" x="1045" y="709.2"/><use href="#r" x="1039.9" y="1317.3"/><use href="#b" x="1175.7" y="832.2"/><use href="#b" x="981.6" y="868"/><use href="#b" x="1081.6" y="942.6"/><use href="#b" x="1054.1" y="909.9"/><use href="#b" x="1050.5" y="867.2"/><use href="#r" x="987.9" y="1288.2"/><use href="#r" x="1052.4" y="1185.7"/><use href="#b" x="1145.9" y="1213.8"/><use href="#r" x="968.8" y="908.7"/><use href="#r" x="974.7" y="1146.3"/><use href="#r" x="1016" y="827"/><use href="#b" x="1048" y="716.2"/><use href="#b" x="1205.1" y="891.8"/><use href="#r" x="1038.1" y="903.2"/><use href="#b" x="1094.3" y="802"/><use href="#b" x="1141.3" y="954.9"/><use href="#b" x="1084.3" y="799.4"/><use href="#b" x="1143.2" y="769.6"/><use href="#b" x="1187.3" y="1225.8"/><use href="#r" x="1024.7" y="876"/><use href="#b" x="1164.7" y="1029.9"/><use href="#b" x="1104.5" y="703.5"/><use href="#b" x="1167.1" y="843.7"/><use href="#r" x="947.9" y="1086.1"/><use href="#b" x="1125.2" y="827.5"/><use href="#r" x="942.2" y="956.1"/><use href="#r" x="942.5" y="905.9"/><use href="#r" x="1035.1" y="1247"/><use href="#b" x="1154.3" y="974.9"/><use href="#r" x="963" y="894.7"/><use href="#b" x="1108.7" y="709.3"/><use href="#b" x="1206.7" y="1095.4"/><use href="#b" x="1195.1" y="893.9"/><use href="#r" x="995.4" y="1159.4"/><use href="#b" x="1091.2" y="1103.6"/><use href="#r" x="996.1" y="890.6"/><use href="#b" x="1150.5" y="1105.3"/><use href="#b" x="1055.5" y="964.6"/><use href="#b" x="1183.1" y="898.2"/><use href="#b" x="1080.4" y="823.7"/><use href="#b" x="1018.7" y="1096.8"/><use href="#b" x="1117.9" y="1189.5"/><use href="#r" x="1160.7" y="938.1"/><use href="#r" x="1084.2" y="982.7"/><use href="#r" x="1004.7" y="1216.7"/><use href="#r" x="1068.2" y="1319.8"/><use href="#r" x="1062.2" y="1266.9"/><use href="#r" x="1124.7" y="874.8"/><use href="#r" x="1024.4" y="1216.7"/><use href="#b" x="1134.4" y="706.9"/><use href="#r" x="1135.9" y="933.8"/><use href="#r" x="1107.4" y="897.4"/><use href="#r" x="960.6" y="914.1"/><use href="#b" x="991.7" y="1004.2"/><use href="#r" x="993.6" y="1109.4"/><use href="#b" x="1077" y="1127.8"/><use href="#b" x="1039.6" y="1171"/><use href="#b" x="1000.4" y="825.9"/><use href="#r" x="955.1" y="840.7"/><use href="#b" x="1109" y="739.4"/><use href="#b" x="1117.8" y="829.2"/><use href="#b" x="1191.5" y="1105.5"/><use href="#r" x="1135.8" y="745"/><use href="#r" x="1025.9" y="1010.2"/><use href="#r" x="956.8" y="931"/><use href="#b" x="1046" y="795.2"/><use href="#b" x="1093.7" y="704.2"/><use href="#b" x="1083.3" y="1163.9"/><use href="#r" x="957.7" y="1097.1"/><use href="#r" x="978.9" y="1276.1"/><use href="#b" x="1107.4" y="815.6"/><use href="#b" x="1089.8" y="903"/><use href="#r" x="1113.8" y="1165.3"/><use href="#b" x="1151.2" y="1077.3"/><use href="#b" x="1212" y="955.7"/><use href="#r" x="1065" y="1102.3"/><use href="#b" x="1025.4" y="717.8"/><use href="#r" x="961.2" y="823.3"/><use href="#b" x="955.9" y="1255.4"/><use href="#b" x="953.2" y="1070.6"/><use href="#b" x="941" y="938.1"/><use href="#r" x="984.9" y="951.4"/><use href="#b" x="1062.4" y="1232.3"/><use href="#b" x="1115.1" y="896"/><use href="#b" x="1208.8" y="852.1"/><use href="#b" x="1022.5" y="943.5"/><use href="#b" x="1138" y="1195.7"/><use href="#r" x="1130.8" y="805.9"/><use href="#r" x="984.9" y="1265.8"/><use href="#b" x="1049.1" y="1327.3"/><use href="#r" x="1022.1" y="761.8"/><use href="#b" x="1210.5" y="754.1"/><use href="#b" x="1011.7" y="771.3"/><use href="#b" x="1150.4" y="877.2"/><use href="#b" x="1023.3" y="970.6"/><use href="#r" x="1007.9" y="1112.4"/><use href="#b" x="1169.4" y="715.2"/><use href="#r" x="975.6" y="833.1"/><use href="#r" x="1022.2" y="855.1"/><use href="#r" x="1087.7" y="1052"/><use href="#b" x="1172.3" y="1230.4"/><use href="#b" x="1064.4" y="1091.8"/><use href="#b" x="1109.3" y="725.1"/><use href="#b" x="1149.6" y="928"/><use href="#b" x="959.3" y="1222.7"/><use href="#b" x="1182.4" y="1259"/><use href="#b" x="1211.2" y="916.7"/><use href="#b" x="1105.3" y="1033.5"/><use href="#r" x="966.5" y="929.7"/><use href="#b" x="1211.1" y="781.6"/><use href="#b" x="1118" y="710.9"/><use href="#r" x="1005.3" y="852.2"/><use href="#b" x="968.5" y="977.3"/><use href="#r" x="976" y="1155.9"/><use href="#b" x="1058.6" y="1073.1"/><use href="#r" x="1009.1" y="915.2"/><use href="#b" x="1094.6" y="1196.4"/><use href="#r" x="969" y="1010.6"/><use href="#b" x="1074.1" y="1072.9"/><use href="#b" x="1059.2" y="980.2"/><use href="#b" x="1154.9" y="1263.4"/><use href="#r" x="953.2" y="1197.3"/><use href="#r" x="967.8" y="922.4"/><use href="#b" x="1169.7" y="927.5"/><use href="#b" x="1205.2" y="835.9"/><use href="#b" x="1019.5" y="901.4"/><use href="#b" x="1168.4" y="1244.5"/><use href="#b" x="1176.9" y="935.3"/><use href="#r" x="1031.9" y="1294.3"/><use href="#b" x="1094.6" y="1079.7"/><use href="#r" x="941.2" y="1116.1"/><use href="#b" x="1205.3" y="1024.7"/><use href="#r" x="1165.5" y="787.7"/><use href="#b" x="974" y="900"/><use href="#r" x="1038.6" y="1289.3"/><use href="#b" x="1136.9" y="994.2"/><use href="#b" x="1082.3" y="910.2"/><use href="#b" x="1163.4" y="861.9"/><use href="#b" x="1128.6" y="1253.4"/><use href="#b" x="1107.9" y="1011.5"/><use href="#b" x="1175.7" y="900.2"/><use href="#b" x="1100.3" y="1247.1"/><use href="#r" x="993.8" y="795.5"/><use href="#r" x="961.5" y="988.5"/><use href="#b" x="1068.6" y="1022.3"/><use href="#b" x="1029" y="847.8"/><use href="#b" x="1150.8" y="1253.9"/><use href="#b" x="1045.6" y="787.1"/><use href="#b" x="1096.2" y="1238.4"/><use href="#b" x="1158.4" y="1025.2"/><use href="#b" x="1138" y="1172.1"/><use href="#b" x="1007.1" y="1082"/><use href="#b" x="1063.6" y="715.5"/><use href="#b" x="945.2" y="1006.2"/><use href="#b" x="967.7" y="1218.1"/><use href="#r" x="1200.3" y="962.7"/><use href="#r" x="1007.7" y="1154.5"/><use href="#r" x="982.9" y="746.9"/><use href="#r" x="941.1" y="1229.7"/><use href="#b" x="1120.7" y="727.8"/><use href="#b" x="1011.5" y="779.5"/><use href="#r" x="984.5" y="1258.6"/><use href="#b" x="1033.2" y="1270.7"/><use href="#b" x="1095.8" y="844.4"/><use href="#r" x="1013" y="1073.7"/><use href="#b" x="1157.8" y="1099.8"/><use href="#r" x="972.9" y="1165"/><use href="#b" x="1165" y="1177"/><use href="#r" x="1015.8" y="1255.6"/><use href="#b" x="1108.6" y="824.2"/><use href="#r" x="1026.6" y="1300"/><use href="#b" x="1189.5" y="1004.6"/><use href="#b" x="1029.1" y="1319.3"/><use href="#b" x="1187.1" y="1238"/><use href="#b" x="951.8" y="1010.9"/><use href="#b" x="1032.3" y="1255.4"/><use href="#b" x="1181.5" y="1083.4"/><use href="#r" x="1025.2" y="1025.8"/><use href="#b" x="1082.8" y="1045"/><use href="#b" x="1011.5" y="1219.3"/><use href="#r" x="952.3" y="871.5"/><use href="#b" x="1000.9" y="1224.3"/><use href="#r" x="992.9" y="1097.7"/><use href="#r" x="1044.9" y="1258.7"/><use href="#b" x="1142" y="979.5"/><use href="#b" x="1106.5" y="938.6"/><use href="#r" x="1082.1" y="1030.1"/><use href="#b" x="1109.6" y="831.8"/><use href="#b" x="1162.9" y="965.9"/><use href="#b" x="969.7" y="772.6"/><use href="#b" x="1142.3" y="1041.8"/><use href="#r" x="970.5" y="1187.2"/><use href="#b" x="1109.2" y="886.7"/><use href="#r" x="959.5" y="783.1"/><use href="#r" x="1035.2" y="829.3"/><use href="#b" x="1094.6" y="1137.2"/><use href="#b" x="1159.7" y="1036.4"/><use href="#r" x="991.4" y="1181.6"/><use href="#b" x="1146.8" y="735.5"/><use href="#b" x="1171.2" y="894.2"/><use href="#r" x="1134.1" y="869.8"/><use href="#b" x="1098.9" y="948"/><use href="#r" x="972.2" y="1046.6"/><use href="#r" x="951.3" y="765.3"/><use href="#r" x="1018.2" y="1153"/><use href="#b" x="1196.7" y="729.4"/><use href="#b" x="1104.1" y="1053.2"/><use href="#b" x="1043.8" y="870.4"/><use href="#b" x="1048.7" y="802.2"/><use href="#r" x="1002.8" y="776"/><use href="#b" x="1113.9" y="704"/><use href="#r" x="1016.2" y="1115.2"/><use href="#b" x="1088.6" y="828.7"/><use href="#b" x="1051.3" y="1111.7"/><use href="#b" x="1080.8" y="830.9"/><use href="#r" x="952.7" y="1062.9"/><use href="#b" x="1059.8" y="1323.5"/><use href="#r" x="1200.7" y="1207.7"/><use href="#r" x="1088.1" y="1129.5"/><use href="#b" x="1065.1" y="943.3"/><use href="#b" x="1028.9" y="1150.7"/><use href="#r" x="987.5" y="1148.2"/><use href="#b" x="1203.1" y="1075.2"/><use href="#r" x="1012" y="723"/><use href="#b" x="1023.1" y="724.6"/><use href="#b" x="1056.7" y="816"/><use href="#r" x="942.3" y="1217.2"/><use href="#b" x="1045.3" y="853.6"/><use href="#b" x="1194.2" y="953.2"/><use href="#r" x="1183.3" y="997.4"/><use href="#r" x="953.4" y="850.3"/><use href="#b" x="1090.7" y="1025.9"/><use href="#r" x="1147.8" y="1062.6"/><use href="#b" x="1211.8" y="867.4"/><use href="#b" x="1142.4" y="1013.9"/><use href="#r" x="1013.2" y="1301.7"/><use href="#b" x="1198" y="859.7"/><use href="#r" x="958.3" y="800.9"/><use href="#b" x="1059" y="1220.7"/><use href="#b" x="1101.9" y="800.8"/><use href="#r" x="1014.5" y="950.3"/><use href="#r" x="944.6" y="1236.5"/><use href="#r" x="1143.9" y="1306.3"/><use href="#r" x="983" y="1182.3"/><use href="#b" x="1120.7" y="1173.8"/><use href="#b" x="963.2" y="1183.4"/><use href="#b" x="1129.3" y="767.1"/><use href="#b" x="1061.8" y="733.9"/><use href="#r" x="1035.8" y="930.1"/><use href="#b" x="1160.8" y="768.8"/><use href="#r" x="954.6" y="789.3"/><use href="#r" x="997.8" y="1134.9"/><use href="#b" x="1183.7" y="1120"/><use href="#r" x="1052.8" y="1309.5"/><use href="#r" x="1188.7" y="1113.6"/><use href="#b" x="1064.1" y="796.1"/><use href="#r" x="1188.6" y="1028.9"/><use href="#b" x="994.2" y="1292.3"/><use href="#b" x="1088.6" y="740.5"/><use href="#b" x="979.7" y="804"/><use href="#b" x="1075.2" y="1006.2"/><use href="#b" x="1188.4" y="959.8"/><use href="#r" x="1010" y="1295.1"/><use href="#b" x="1076.2" y="845.3"/><use href="#b" x="1121.5" y="1199"/><use href="#b" x="1176.6" y="1118.4"/><use href="#r" x="967.4" y="781.4"/><use href="#b" x="1073.1" y="913.6"/><use href="#b" x="1067.6" y="721.8"/><use href="#b" x="1177.4" y="1145.1"/><use href="#r" x="1003.9" y="1056.4"/><use href="#b" x="1061.8" y="1050.8"/><use href="#b" x="1115.8" y="1254.9"/><use href="#r" x="1030.9" y="1071.9"/><use href="#b" x="1088" y="919"/><use href="#b" x="1182.2" y="1010.4"/><use href="#b" x="1159.6" y="954.4"/><use href="#r" x="1148" y="1300"/><use href="#r" x="1153.3" y="891"/><use href="#b" x="1075" y="816.2"/><use href="#b" x="1208.1" y="904.3"/><use href="#b" x="1143.8" y="891.6"/><use href="#b" x="1047.4" y="736.2"/><use href="#b" x="1008.6" y="1006.2"/><use href="#r" x="1123.3" y="948.9"/><use href="#r" x="990.5" y="787.7"/><use href="#b" x="1128.7" y="1150.5"/><use href="#b" x="1040.1" y="1234"/><use href="#b" x="1144.3" y="1084.7"/><use href="#b" x="1200.6" y="1102.4"/><use href="#b" x="1037.9" y="850.9"/><use href="#b" x="1127.8" y="1038.8"/><use href="#b" x="942.3" y="996.8"/><use href="#b" x="1004.9" y="943.6"/><use href="#r" x="941.3" y="1090.1"/><use href="#b" x="1117.8" y="765.5"/><use href="#b" x="1097.3" y="787.7"/><use href="#r" x="1138.3" y="1269.1"/><use href="#b" x="1102.3" y="867"/><use href="#r" x="949.9" y="1166.7"/><use href="#r" x="1012.1" y="970.2"/><use href="#r" x="1000.6" y="1142.2"/><use href="#b" x="1024" y="862.7"/><use href="#b" x="1153.1" y="901.1"/><use href="#r" x="1073.5" y="740.5"/><use href="#b" x="1108.4" y="777.7"/><use href="#b" x="1174.7" y="1199"/><use href="#b" x="1066.3" y="977.4"/><use href="#r" x="968.6" y="884.5"/><use href="#r" x="1116.7" y="1288.8"/><use href="#r" x="1069" y="1308.5"/><use href="#b" x="1157.7" y="791.8"/><use href="#b" x="1129.8" y="896"/><use href="#b" x="1081.8" y="765.5"/><use href="#b" x="1136.1" y="974.5"/><use href="#b" x="1128.4" y="694.3"/><use href="#r" x="1060.3" y="897.2"/><use href="#b" x="1145" y="851.3"/><use href="#b" x="1105" y="785"/><use href="#b" x="1097.3" y="969.6"/><use href="#b" x="1161.4" y="748.5"/><use href="#b" x="1037.7" y="863.5"/><use href="#b" x="1156.1" y="1064.6"/><use href="#b" x="1154.4" y="812.7"/><use href="#b" x="1173.5" y="822.7"/><use href="#b" x="1174.9" y="1036.4"/><use href="#b" x="991.5" y="826.4"/><use href="#b" x="1032.5" y="772.2"/><use href="#b" x="1073.2" y="707.8"/><use href="#b" x="1048.3" y="1078.6"/><use href="#b" x="1130.4" y="821.2"/><use href="#r" x="1187.7" y="1218.5"/><use href="#b" x="1144.7" y="940.6"/><use href="#r" x="1179.3" y="1228.9"/><use href="#r" x="972.5" y="943.9"/><use href="#b" x="1063.7" y="1039.1"/><use href="#b" x="1164.9" y="869.4"/><use href="#b" x="1016.2" y="881.3"/><use href="#b" x="1196.7" y="1058"/><use href="#r" x="960.1" y="1263.5"/><use href="#b" x="1056.4" y="938.5"/><use href="#b" x="990.9" y="744.4"/><use href="#b" x="971.9" y="758.8"/><use href="#r" x="988.1" y="963"/><use href="#b" x="1166.7" y="1022.8"/><use href="#b" x="1014.3" y="858.4"/><use href="#r" x="1032.2" y="1032.5"/><use href="#b" x="1135.4" y="941.2"/><use href="#b" x="1065.8" y="1123.9"/><use href="#r" x="971" y="1243.2"/><use href="#b" x="1162.9" y="904.7"/><use href="#b" x="1166.8" y="997.6"/><use href="#r" x="961.3" y="974.6"/><use href="#b" x="949.6" y="1174.1"/><use href="#b" x="1209.5" y="788.8"/><use href="#r" x="1117.9" y="1296"/><use href="#b" x="1079.3" y="1208.9"/><use href="#b" x="1068.9" y="906.8"/><use href="#b" x="1146.4" y="798.7"/><use href="#r" x="1212.1" y="1175.5"/><use href="#b" x="1182.4" y="888.2"/><use href="#b" x="1059.1" y="709.5"/><use href="#r" x="975.9" y="1030.5"/><use href="#r" x="1003.3" y="1166.4"/><use href="#r" x="947.9" y="970.1"/><use href="#b" x="1095.6" y="983.3"/><use href="#b" x="1190.3" y="1133"/><use href="#b" x="1070.7" y="878.4"/><use href="#r" x="1009.4" y="1187.2"/><use href="#b" x="1086.2" y="1324.7"/><use href="#b" x="1021.2" y="1050.5"/><use href="#b" x="1192.9" y="901.5"/><use href="#b" x="961.1" y="858.2"/><use href="#b" x="1118.1" y="1313.1"/><use href="#b" x="953.5" y="900.1"/><use href="#b" x="1046.4" y="884.2"/><use href="#r" x="1009.3" y="830.3"/><use href="#b" x="1160.1" y="1008.6"/><use href="#r" x="1027.7" y="1184.2"/><use href="#r" x="1040.6" y="1154.8"/><use href="#r" x="1133.7" y="1218.1"/><use href="#b" x="1177.7" y="1047.7"/><use href="#r" x="1014.8" y="1289"/><use href="#b" x="1079.2" y="783.4"/><use href="#r" x="1035" y="1178.5"/><use href="#b" x="1092.2" y="1330.7"/><use href="#r" x="1156.9" y="1015.6"/><use href="#b" x="1188.8" y="1211.2"/><use href="#r" x="1188.3" y="864.7"/><use href="#b" x="1074" y="718.2"/><use href="#r" x="1034.3" y="952"/><use href="#b" x="1168" y="769.4"/><use href="#r" x="1025.2" y="1236"/><use href="#r" x="976.5" y="978.4"/><use href="#r" x="1052.5" y="1067.5"/><use href="#r" x="991.2" y="777"/><use href="#b" x="1151.4" y="935"/><use href="#r" x="954.1" y="892.9"/><use href="#r" x="1003.9" y="1194.8"/><use href="#b" x="1165.1" y="1143.8"/><use href="#r" x="950.2" y="927.6"/><use href="#b" x="1178.7" y="1152.4"/><use href="#b" x="1052.4" y="1341.5"/><use href="#b" x="1083.1" y="692.6"/><use href="#b" x="954" y="1025.1"/><use href="#b" x="1070.9" y="1043.3"/><use href="#r" x="1034" y="1312.4"/><use href="#r" x="964.5" y="1129.4"/><use href="#b" x="1164.9" y="721.8"/><use href="#b" x="1041.2" y="1041.5"/><use href="#b" x="1111.9" y="1194.3"/><use href="#r" x="1104.7" y="1303.7"/><use href="#b" x="968.5" y="1232.2"/><use href="#b" x="959.5" y="1161.8"/><use href="#r" x="943.3" y="1033.1"/><use href="#r" x="1127.7" y="942.1"/><use href="#r" x="1016.8" y="1198.3"/><use href="#b" x="973.7" y="744.1"/><use href="#b" x="1150.1" y="845.4"/><use href="#r" x="1036" y="1226.4"/><use href="#b" x="1061.6" y="1313.9"/><use href="#r" x="1061.2" y="1015.2"/><use href="#b" x="1107.1" y="956.5"/><use href="#b" x="1211.2" y="845.1"/><use href="#b" x="1112.9" y="918.2"/><use href="#b" x="1005.2" y="717.1"/><use href="#r" x="965.4" y="954.4"/><use href="#b" x="1178.7" y="1125.3"/><use href="#b" x="1082.6" y="1342.8"/><use href="#b" x="1101.2" y="1217.5"/><use href="#r" x="1093.7" y="1046.6"/><use href="#b" x="1110.7" y="1242.1"/><use href="#r" x="947.9" y="803.3"/><use href="#r" x="1091.2" y="1289.7"/><use href="#b" x="1049.8" y="1139.6"/><use href="#b" x="1169.8" y="1094.6"/><use href="#b" x="1095.6" y="1053.7"/><use href="#r" x="1021.1" y="787.5"/><use href="#r" x="995.1" y="820.2"/><use href="#r" x="1008.1" y="815.8"/><use href="#b" x="1059.7" y="904.7"/><use href="#r" x="983.6" y="774.1"/><use href="#r" x="964" y="1239"/><use href="#b" x="1079.9" y="965.7"/><use href="#b" x="1192.7" y="1202.3"/><use href="#b" x="1093.7" y="938.5"/><use href="#r" x="1159.3" y="1119.9"/><use href="#r" x="1033.4" y="1022.7"/><use href="#r" x="985.1" y="910.4"/><use href="#b" x="1097.8" y="1071.3"/><use href="#r" x="1007.1" y="874.6"/><use href="#b" x="1180.1" y="906.6"/><use href="#b" x="994.5" y="979.7"/><use href="#b" x="1195.5" y="1235.1"/><use href="#r" x="1049.3" y="1241.5"/><use href="#r" x="983" y="1001.2"/><use href="#b" x="1013.2" y="1121.8"/><use href="#r" x="1125.6" y="1143.5"/><use href="#b" x="1148.5" y="1124.2"/><use href="#b" x="1057" y="918.5"/><use href="#r" x="1105.2" y="1179.1"/><use href="#r" x="1089.8" y="962.2"/><use href="#r" x="999.8" y="871"/><use href="#r" x="1022.3" y="804.3"/><use href="#b" x="1046.7" y="820.2"/><use href="#b" x="1182.7" y="914.1"/><use href="#b" x="1006.5" y="761.2"/><use href="#b" x="1160.8" y="892.8"/><use href="#r" x="970.2" y="892"/><use href="#b" x="1174.4" y="733.4"/><use href="#r" x="1025.2" y="954.5"/><use href="#b" x="1189.8" y="1171"/><use href="#r" x="950.2" y="1190.1"/><use href="#b" x="981.6" y="898.2"/><use href="#b" x="1003.6" y="1231.7"/><use href="#b" x="1101.2" y="1336.7"/><use href="#b" x="1063.2" y="833.1"/><use href="#b" x="1212" y="879.8"/><use href="#r" x="1095.7" y="1295.6"/><use href="#r" x="970" y="874.5"/><use href="#b" x="1037.4" y="721.8"/><use href="#r" x="1009.4" y="1226.8"/><use href="#b" x="1192.2" y="1163.8"/><use href="#r" x="989.2" y="1084.5"/><use href="#b" x="1162.6" y="1153.1"/><use href="#b" x="1041.3" y="1243.4"/><use href="#b" x="1163.3" y="1057.2"/><use href="#b" x="1160.8" y="1251.1"/><use href="#b" x="1118.2" y="913.3"/><use href="#r" x="1205.1" y="1189"/><use href="#b" x="1089.8" y="1039.9"/><use href="#r" x="1036.2" y="1263.1"/><use href="#b" x="1211.1" y="1229.9"/><use href="#b" x="1183.7" y="765.9"/><use href="#b" x="991.7" y="752.6"/><use href="#r" x="1100.9" y="1255.6"/><use href="#r" x="1039.5" y="957.9"/><use href="#b" x="1118.8" y="719.9"/><use href="#b" x="1031.1" y="1124.3"/><use href="#r" x="951.9" y="949.4"/><use href="#b" x="1183.2" y="969.5"/><use href="#b" x="1091.9" y="1176.5"/><use href="#r" x="1118.5" y="773"/><use href="#b" x="1128" y="1265.7"/><use href="#b" x="1040.2" y="771.1"/><use href="#b" x="1035.2" y="842.1"/><use href="#b" x="1067.6" y="1011.2"/><use href="#r" x="990" y="839.7"/><use href="#r" x="1044.7" y="938.2"/><use href="#b" x="1108.9" y="857"/><use href="#b" x="1045.9" y="926.7"/><use href="#r" x="1110" y="1298.2"/><use href="#r" x="1054.2" y="1301.2"/><use href="#r" x="1097.8" y="886.2"/><use href="#r" x="946.4" y="820.1"/><use href="#r" x="1035.4" y="1099.6"/><use href="#r" x="954.7" y="1184.5"/><use href="#r" x="1019.1" y="979.2"/><use href="#b" x="1190.1" y="751.7"/><use href="#b" x="1080.8" y="703.2"/>
</g>
<path id="orange" fill="#e2a158" d="M1500 662.8L1301 662.8Q1293 662.8 1293 670.8L1293 1404Q1293 1412 1301 1412L1852.3 1412Q1860.3 1412 1860.3 1404L1860.3 1225L1832 1225L1832 1378.3Q1832 1384.3 1826 1384.3L1327.2 1384.3Q1321.2 1384.3 1321.2 1378.3L1321.2 697Q1321.2 691 1327.2 691L1500 691Z"/>
<path d="M1324.5 678.5L1343.5 678.5" stroke="#fff" stroke-width="2.2" fill="none"/>
<path d="M1355 678.5L1342.5 684.2L1342.5 672.8Z" fill="#fff"/>
<path d="M1412 678.5L1431.2 678.5" stroke="#fff" stroke-width="2.2" fill="none"/>
<path d="M1442.7 678.5L1430.2 684.2L1430.2 672.8Z" fill="#fff"/>
<path d="M1306.8 823.5L1306.8 805.5" stroke="#fff" stroke-width="2.2" fill="none"/>
<path d="M1306.8 794L1312.5 806.5L1301 806.5Z" fill="#fff"/>
<path d="M1307.3 1061.6L1307.3 1043.3" stroke="#fff" stroke-width="2.2" fill="none"/>
<path d="M1307.3 1031.8L1313 1044.3L1301.5 1044.3Z" fill="#fff"/>
<path d="M1307.3 1330.4L1307.3 1311.7" stroke="#fff" stroke-width="2.2" fill="none"/>
<path d="M1307.3 1300.2L1313 1312.7L1301.5 1312.7Z" fill="#fff"/>
<path d="M1396.3 1398.2L1377 1398.2" stroke="#fff" stroke-width="2.2" fill="none"/>
<path d="M1365.5 1398.2L1378 1392.5L1378 1404Z" fill="#fff"/>
<path d="M1567.1 1398.2L1547.8 1398.2" stroke="#fff" stroke-width="2.2" fill="none"/>
<path d="M1536.3 1398.2L1548.8 1392.5L1548.8 1404Z" fill="#fff"/>
<path d="M1753.4 1398.2L1734.1 1398.2" stroke="#fff" stroke-width="2.2" fill="none"/>
<path d="M1722.6 1398.2L1735.1 1392.5L1735.1 1404Z" fill="#fff"/>
<path d="M1844.9 1236.2L1844.9 1254.9" stroke="#fff" stroke-width="2.2" fill="none"/>
<path d="M1844.9 1266.4L1839.2 1253.9L1850.7 1253.9Z" fill="#fff"/>
<path d="M1844.9 1371L1844.9 1389.7" stroke="#fff" stroke-width="2.2" fill="none"/>
<path d="M1844.9 1401.2L1839.2 1388.7L1850.7 1388.7Z" fill="#fff"/>
<path d="M936 626L936 1250.5Q936 1254 938.7 1256.3L1049.6 1349.5" fill="none" stroke="#58595a" stroke-width="5.2"/>
<path d="M1217.5 626L1217.5 1250.5Q1217.5 1254 1214.8 1256.3L1104.2 1349.5" fill="none" stroke="#58595a" stroke-width="5.2"/>
<path id="redpipe" fill="#e0494f" d="M1404 1100L1404 779.2Q1404 775.2 1400 775.2L1094.7 775.2Q1090.7 775.2 1090.7 779.2L1090.7 1168.7L1168 1214L985.7 1214L1062.5 1168.7L1062.5 753Q1062.5 747 1068.5 747L1431.8 747L1431.8 1100Z"/>
<path d="M1235 760.8L1215.9 760.8" stroke="#fff" stroke-width="2.2" fill="none"/>
<path d="M1204.4 760.8L1216.9 755L1216.9 766.5Z" fill="#fff"/>
<path d="M1076.3 799.6L1076.3 818.5" stroke="#fff" stroke-width="2.2" fill="none"/>
<path d="M1076.3 830L1070.5 817.5L1082 817.5Z" fill="#fff"/>
<path d="M1076.3 900L1076.3 918.5" stroke="#fff" stroke-width="2.2" fill="none"/>
<path d="M1076.3 930L1070.5 917.5L1082 917.5Z" fill="#fff"/>
<path d="M1076.3 1000.2L1076.3 1018.9" stroke="#fff" stroke-width="2.2" fill="none"/>
<path d="M1076.3 1030.4L1070.5 1017.9L1082 1017.9Z" fill="#fff"/>
<path d="M1076.3 1100.7L1076.3 1118.8" stroke="#fff" stroke-width="2.2" fill="none"/>
<path d="M1076.3 1130.3L1070.5 1117.8L1082 1117.8Z" fill="#fff"/>
<path d="M1076.3 1183.4L1076.3 1202.5" stroke="#fff" stroke-width="2.2" fill="none"/>
<path d="M1076.3 1214L1070.5 1201.5L1082 1201.5Z" fill="#fff"/>
<path d="M1417.8 823.5L1417.8 805.5" stroke="#fff" stroke-width="2.2" fill="none"/>
<path d="M1417.8 794L1423.5 806.5L1412 806.5Z" fill="#fff"/>
<path d="M1417.8 974.5L1417.8 956.1" stroke="#fff" stroke-width="2.2" fill="none"/>
<path d="M1417.8 944.6L1423.5 957.1L1412 957.1Z" fill="#fff"/>
<g id="harrows">
<path d="M958.5 813.4L958.5 698.8" stroke="#4d4d4d" stroke-width="1.7" fill="none"/>
<path d="M958.5 689.3L963.2 699.8L953.8 699.8Z" fill="#4d4d4d"/>
<path d="M996 894L996 780.5" stroke="#4d4d4d" stroke-width="1.7" fill="none"/>
<path d="M996 771L1000.8 781.5L991.2 781.5Z" fill="#4d4d4d"/>
<path d="M958.5 993L958.5 873.1" stroke="#4d4d4d" stroke-width="1.7" fill="none"/>
<path d="M958.5 863.6L963.2 874.1L953.8 874.1Z" fill="#4d4d4d"/>
<path d="M1144.9 921.7L1144.9 809.1" stroke="#4d4d4d" stroke-width="1.7" fill="none"/>
<path d="M1144.9 799.6L1149.7 810.1L1140.2 810.1Z" fill="#4d4d4d"/>
<path d="M1117.7 960L1117.7 885.9" stroke="#4d4d4d" stroke-width="1.7" fill="none"/>
<path d="M1117.7 876.4L1122.5 886.9L1113 886.9Z" fill="#4d4d4d"/>
<path d="M1182 986.4L1182 874.1" stroke="#4d4d4d" stroke-width="1.7" fill="none"/>
<path d="M1182 864.6L1186.8 875.1L1177.2 875.1Z" fill="#4d4d4d"/>
<path d="M996 1090.9L996 978.2" stroke="#4d4d4d" stroke-width="1.7" fill="none"/>
<path d="M996 968.7L1000.8 979.2L991.2 979.2Z" fill="#4d4d4d"/>
<path d="M958.5 1174.6L958.5 1061" stroke="#4d4d4d" stroke-width="1.7" fill="none"/>
<path d="M958.5 1051.5L963.2 1062L953.8 1062Z" fill="#4d4d4d"/>
<path d="M1036.3 1136.2L1036.3 1091.5" stroke="#4d4d4d" stroke-width="1.7" fill="none"/>
<path d="M1036.3 1082L1041 1092.5L1031.5 1092.5Z" fill="#4d4d4d"/>
<path d="M1144.9 1098.7L1144.9 985.1" stroke="#4d4d4d" stroke-width="1.7" fill="none"/>
<path d="M1144.9 975.6L1149.7 986.1L1140.2 986.1Z" fill="#4d4d4d"/>
<path d="M1185.3 1170.6L1185.3 1057" stroke="#4d4d4d" stroke-width="1.7" fill="none"/>
<path d="M1185.3 1047.5L1190 1058L1180.5 1058Z" fill="#4d4d4d"/>
<path d="M1163.4 1135.2L1163.4 1091.1" stroke="#4d4d4d" stroke-width="1.7" fill="none"/>
<path d="M1163.4 1081.6L1168.2 1092.1L1158.7 1092.1Z" fill="#4d4d4d"/>
<path d="M1112.8 1159.8L1112.8 1115.1" stroke="#4d4d4d" stroke-width="1.7" fill="none"/>
<path d="M1112.8 1105.6L1117.5 1116.1L1108 1116.1Z" fill="#4d4d4d"/>
<path d="M1137 1192.3L1137 1146.5" stroke="#4d4d4d" stroke-width="1.7" fill="none"/>
<path d="M1137 1137L1141.8 1147.5L1132.2 1147.5Z" fill="#4d4d4d"/>
<path d="M1162.4 1198L1162.4 1171.3" stroke="#4d4d4d" stroke-width="1.7" fill="none"/>
<path d="M1162.4 1161.8L1167.2 1172.3L1157.7 1172.3Z" fill="#4d4d4d"/>
<path d="M994.6 1206L994.6 1181.1" stroke="#4d4d4d" stroke-width="1.7" fill="none"/>
<path d="M994.6 1171.6L999.4 1182.1L989.9 1182.1Z" fill="#4d4d4d"/>
<path d="M974.9 1245.5L974.9 1218.5" stroke="#4d4d4d" stroke-width="1.7" fill="none"/>
<path d="M974.9 1209L979.6 1219.5L970.1 1219.5Z" fill="#4d4d4d"/>
<path d="M1012.3 1279.8L1012.3 1235.3" stroke="#4d4d4d" stroke-width="1.7" fill="none"/>
<path d="M1012.3 1225.8L1017 1236.3L1007.5 1236.3Z" fill="#4d4d4d"/>
<path d="M1182.7 1233.7L1182.7 1207.7" stroke="#4d4d4d" stroke-width="1.7" fill="none"/>
<path d="M1182.7 1198.2L1187.5 1208.7L1178 1208.7Z" fill="#4d4d4d"/>
<path d="M1144.9 1269L1144.9 1225.5" stroke="#4d4d4d" stroke-width="1.7" fill="none"/>
<path d="M1144.9 1216L1149.7 1226.5L1140.2 1226.5Z" fill="#4d4d4d"/>
<path d="M992.6 1286.7L982.5 1262.9" stroke="#4d4d4d" stroke-width="1.7" fill="none"/>
<path d="M978.8 1254.2L987.3 1262L978.5 1265.7Z" fill="#4d4d4d"/>
<path d="M1164 1275.8L1174.8 1252.9" stroke="#4d4d4d" stroke-width="1.7" fill="none"/>
<path d="M1178.8 1244.3L1178.6 1255.8L1170 1251.8Z" fill="#4d4d4d"/>
<path d="M1088 1214L1088 1253.5" stroke="#4d4d4d" stroke-width="1.7" fill="none"/>
<path d="M1088 1263L1083.2 1252.5L1092.8 1252.5Z" fill="#4d4d4d"/>
<path d="M1068.4 1237.4L1068.4 1280.1" stroke="#4d4d4d" stroke-width="1.7" fill="none"/>
<path d="M1068.4 1289.6L1063.7 1279.1L1073.2 1279.1Z" fill="#4d4d4d"/>
<path d="M1042.2 1277.8L1042.2 1294.9" stroke="#4d4d4d" stroke-width="1.7" fill="none"/>
<path d="M1042.2 1304.4L1037.5 1293.9L1047 1293.9Z" fill="#4d4d4d"/>
<g fill="none" stroke="#4d4d4d" stroke-width="1.7">
<path d="M1029 1214L1029 1284Q1029 1296 1021.5 1295Q1016 1294 1016 1289"/>
<path d="M1051.7 1214L1051.7 1256Q1051.7 1264 1045 1264.5"/>
<path d="M1107.8 1214L1107.8 1256Q1107.8 1264 1114.5 1264.5"/>
<path d="M1127.5 1214L1127.5 1284Q1128 1296 1134.5 1295Q1140 1293 1139.6 1286"/>
<path d="M1057.6 1291.6L1057.6 1316Q1057.6 1323 1050.7 1323"/>
<path d="M1098.6 1271L1098.6 1296Q1098.6 1301.5 1104.9 1301.5"/>
</g>
<path d="M1042.5 1264.8L1048.2 1261.2L1048.8 1267.2Z" fill="#4d4d4d"/>
<path d="M1117 1264.8L1110.7 1267.2L1111.3 1261.2Z" fill="#4d4d4d"/>
</g>
<g id="shell">
<path d="M1048.7 1344Q1076.9 1340 1105 1344L1105 1395L1048.7 1395Z" fill="#c6c8c7"/>
<ellipse cx="1076.9" cy="1395" rx="28.1" ry="6.4" fill="#9a9a9a"/>
<ellipse cx="1076.5" cy="626.5" rx="139.8" ry="23" fill="#8b8b8b" stroke="#58595a" stroke-width="5"/>
<path d="M1014.6 632.5L1014.6 672" stroke="#666" stroke-width="1.2"/>
<path d="M1054.3 636L1012.6 678.6" stroke="#7e7e7e" stroke-width="5.6" stroke-linecap="round"/>
<path d="M1053.4 642.3L1022.8 693.5M1054.6 643L1026.8 695" stroke="#777" stroke-width="1.5"/>
</g>
<g id="loader">
<rect x="983.4" y="627.6" width="129" height="4" fill="#858585" stroke="#777" stroke-width="0.8"/>
<rect x="994.3" y="619" width="108.3" height="7.6" fill="#8d8d8d" stroke="#6c6c6c" stroke-width="1.2"/>
<path d="M1080 560.6L1101.6 560.6L1101.6 599L1090 599" fill="none" stroke="#8a8a8a" stroke-width="1.4"/>
<rect x="1091.8" y="563.5" width="6.9" height="33.5" fill="#8a8a8a"/>
<path d="M1098 599L1098 592L1074.5 592L1074.5 626M1077.5 626L1077.5 595L1090 595" fill="none" stroke="#8a8a8a" stroke-width="1.3"/>
<path d="M1101.6 599L1101.6 647M1097.5 632L1097.5 647M1092 632L1092 647M1074.5 632L1074.5 640M1079 634L1079 640" fill="none" stroke="#7a7a7a" stroke-width="0.9"/>
<rect x="972.8" y="422.8" width="121.8" height="15.8" fill="#fff" stroke="#8a8a8a" stroke-width="1.3"/>
<rect x="975.6" y="429.6" width="116.4" height="9" fill="none" stroke="#8a8a8a" stroke-width="1"/>
<rect x="1002" y="419.7" width="63" height="4.9" fill="#8a8a8a"/>
<path d="M1003 424.6L1009.4 424.6L1008 429.5L1004.4 429.5ZM1058 424.6L1064.4 424.6L1063 429.5L1059.4 429.5Z" fill="#8a8a8a"/>
<rect x="1031.7" y="424.6" width="4.9" height="11.8" fill="#8a8a8a"/>
<path d="M978 433.2L1089.4 433.2" stroke="#8a8a8a" stroke-width="1.3"/>
<path d="M975.6 433.2L978.6 430.4L981.6 433.2L978.6 436ZM1085.8 433.2L1088.8 430.4L1091.8 433.2L1088.8 436Z" fill="#8a8a8a"/>
<rect x="966" y="438.8" width="135" height="5.6" fill="#8a8a8a"/>
<rect x="975.2" y="444.4" width="117.2" height="103.6" fill="#fff" stroke="#8a8a8a" stroke-width="1.5"/>
<path d="M975.2 474.9L1092.4 474.9" stroke="#8a8a8a" stroke-width="1.3"/>
<path d="M974.5 548L1093.1 548L1053.4 619L1016 619Z" fill="#878787"/>
<polygon points="1018,452.8 1061.2,452.8 1051.4,467.6 1005,467.6" fill="#e31e26"/>
<text x="1018" y="463.2" font-size="9.6" fill="#fff" font-weight="bold" font-style="italic" textLength="32.4" lengthAdjust="spacingAndGlyphs">Bry-Air</text>
<circle cx="1054.6" cy="465" r="1" fill="#999"/>
<g fill="#8a8a8a" stroke="none">
<rect x="988.4" y="499.5" width="10.8" height="10.8"/>
<rect x="975.5" y="503.2" width="5.6" height="4.6"/>
<rect x="975.5" y="526" width="6.2" height="4.4"/>
<rect x="1001.8" y="500.5" width="4.8" height="31.8"/>
<path d="M999.5 499Q1001 490.5 1008.5 491.5Q1013 492 1014.5 496L1006 500.5L999.8 503Z"/>
</g>
<path d="M981 505.4L988.4 505.4M981.7 527.4L1002 527.4" stroke="#8a8a8a" stroke-width="1.3"/>
<path d="M1008 494L1037.8 515.4" stroke="#8a8a8a" stroke-width="2.6"/>
<use href="#b" x="1012.4" y="513.9"/>
<use href="#b" x="1018.3" y="525.5"/>
<use href="#b" x="1008" y="538.5"/>
<use href="#b" x="1019.9" y="541.8"/>
<use href="#b" x="1038.6" y="536.9"/>
<use href="#b" x="1057.3" y="541.4"/>
</g>
<path id="green" fill="#afcc22" d="M1404 1183L1404 1317.8Q1404 1325.8 1412 1325.8L1653 1325.8Q1661 1325.8 1661 1317.8L1661 1235L1632.7 1235L1632.7 1291.8Q1632.7 1297.8 1626.7 1297.8L1438 1297.8Q1432 1297.8 1432 1291.8L1432 1183Z"/>
<path id="redreact" fill="#e0494f" d="M1725.7 1235L1725.7 1345.5Q1725.7 1353.5 1733.7 1353.5L1890 1353.5L1890 1325.2L1759.4 1325.2Q1753.4 1325.2 1753.4 1319.2L1753.4 1235Z"/>
<rect x="1970" y="1325.4" width="74" height="27.6" fill="#a6d5b0"/>
<rect x="2100" y="1348.4" width="190" height="27.9" fill="#a6d5b0"/>
<g id="pink" fill="#ef878b">
<path d="M1176 624Q1176 630 1182 630L1198.4 630Q1204.4 630 1204.4 624L1204.4 595.6Q1204.4 589.6 1210.4 589.6L1500.7 589.6Q1506.7 589.6 1506.7 595.6L1506.7 646L1534.6 646L1534.6 570.2Q1534.6 562.2 1526.6 562.2L1184 562.2Q1176 562.2 1176 570.2Z"/>
<rect x="1507" y="715" width="27.6" height="122"/>
<path d="M1550 831.8L1652.6 831.8Q1660.6 831.8 1660.6 839.8L1660.6 853.9L1852 853.9Q1860 853.9 1860 861.9L1860 1024L1832 1024L1832 888.5Q1832 882.5 1826 882.5L1660.6 882.5L1660.6 1018L1633 1018L1633 865.9Q1633 859.9 1627 859.9L1550 859.9Z"/>
<rect x="1725" y="960.8" width="28.5" height="53"/>
</g>
<g id="drops">
<circle cx="1236.4" cy="580.6" r="1.6" fill="#fbd3d2" fill-opacity="0.55" stroke="#c46a72" stroke-opacity="0.6" stroke-width="0.6"/>
<circle cx="1235.9" cy="580.1" r="0.6" fill="#fff" fill-opacity="0.8"/>
<circle cx="1347.6" cy="569.2" r="3.0" fill="#fbd3d2" fill-opacity="0.55" stroke="#c46a72" stroke-opacity="0.6" stroke-width="0.6"/>
<circle cx="1346.7" cy="568.3" r="1" fill="#fff" fill-opacity="0.8"/>
<circle cx="1464" cy="576.3" r="1.3" fill="#fbd3d2" fill-opacity="0.55" stroke="#c46a72" stroke-opacity="0.6" stroke-width="0.6"/>
<circle cx="1457.1" cy="564.3" r="2.4" fill="#fbd3d2" fill-opacity="0.55" stroke="#c46a72" stroke-opacity="0.6" stroke-width="0.6"/>
<circle cx="1456.4" cy="563.6" r="0.8" fill="#fff" fill-opacity="0.8"/>
<circle cx="1202.5" cy="583.1" r="1.3" fill="#fbd3d2" fill-opacity="0.55" stroke="#c46a72" stroke-opacity="0.6" stroke-width="0.6"/>
<circle cx="1504.2" cy="580.7" r="2.4" fill="#fbd3d2" fill-opacity="0.55" stroke="#c46a72" stroke-opacity="0.6" stroke-width="0.6"/>
<circle cx="1503.5" cy="579.9" r="0.8" fill="#fff" fill-opacity="0.8"/>
<circle cx="1531.1" cy="581.7" r="2.4" fill="#fbd3d2" fill-opacity="0.55" stroke="#c46a72" stroke-opacity="0.6" stroke-width="0.6"/>
<circle cx="1530.4" cy="581" r="0.8" fill="#fff" fill-opacity="0.8"/>
<circle cx="1396" cy="564.8" r="1.9" fill="#fbd3d2" fill-opacity="0.55" stroke="#c46a72" stroke-opacity="0.6" stroke-width="0.6"/>
<circle cx="1395.5" cy="564.2" r="0.7" fill="#fff" fill-opacity="0.8"/>
<circle cx="1369.2" cy="580.7" r="1.9" fill="#fbd3d2" fill-opacity="0.55" stroke="#c46a72" stroke-opacity="0.6" stroke-width="0.6"/>
<circle cx="1368.6" cy="580.1" r="0.7" fill="#fff" fill-opacity="0.8"/>
<circle cx="1186.2" cy="581.8" r="1.1" fill="#fbd3d2" fill-opacity="0.55" stroke="#c46a72" stroke-opacity="0.6" stroke-width="0.6"/>
<circle cx="1222.2" cy="586.3" r="3.0" fill="#fbd3d2" fill-opacity="0.55" stroke="#c46a72" stroke-opacity="0.6" stroke-width="0.6"/>
<circle cx="1221.3" cy="585.4" r="1" fill="#fff" fill-opacity="0.8"/>
<circle cx="1235" cy="581.5" r="2.4" fill="#fbd3d2" fill-opacity="0.55" stroke="#c46a72" stroke-opacity="0.6" stroke-width="0.6"/>
<circle cx="1234.3" cy="580.8" r="0.8" fill="#fff" fill-opacity="0.8"/>
<circle cx="1349.6" cy="568.5" r="0.9" fill="#fbd3d2" fill-opacity="0.55" stroke="#c46a72" stroke-opacity="0.6" stroke-width="0.6"/>
<circle cx="1344.4" cy="583.7" r="1.1" fill="#fbd3d2" fill-opacity="0.55" stroke="#c46a72" stroke-opacity="0.6" stroke-width="0.6"/>
<circle cx="1454.2" cy="569" r="1.1" fill="#fbd3d2" fill-opacity="0.55" stroke="#c46a72" stroke-opacity="0.6" stroke-width="0.6"/>
<circle cx="1221.4" cy="575.4" r="2.4" fill="#fbd3d2" fill-opacity="0.55" stroke="#c46a72" stroke-opacity="0.6" stroke-width="0.6"/>
<circle cx="1220.6" cy="574.7" r="0.8" fill="#fff" fill-opacity="0.8"/>
<circle cx="1249.2" cy="586.2" r="2.4" fill="#fbd3d2" fill-opacity="0.55" stroke="#c46a72" stroke-opacity="0.6" stroke-width="0.6"/>
<circle cx="1248.5" cy="585.4" r="0.8" fill="#fff" fill-opacity="0.8"/>
<circle cx="1281.4" cy="586.9" r="2.4" fill="#fbd3d2" fill-opacity="0.55" stroke="#c46a72" stroke-opacity="0.6" stroke-width="0.6"/>
<circle cx="1280.6" cy="586.2" r="0.8" fill="#fff" fill-opacity="0.8"/>
<circle cx="1290.6" cy="575.6" r="1.6" fill="#fbd3d2" fill-opacity="0.55" stroke="#c46a72" stroke-opacity="0.6" stroke-width="0.6"/>
<circle cx="1290.1" cy="575.1" r="0.6" fill="#fff" fill-opacity="0.8"/>
<circle cx="1187.5" cy="566.2" r="3.0" fill="#fbd3d2" fill-opacity="0.55" stroke="#c46a72" stroke-opacity="0.6" stroke-width="0.6"/>
<circle cx="1186.6" cy="565.3" r="1" fill="#fff" fill-opacity="0.8"/>
<circle cx="1179" cy="565.7" r="1.3" fill="#fbd3d2" fill-opacity="0.55" stroke="#c46a72" stroke-opacity="0.6" stroke-width="0.6"/>
<circle cx="1380.3" cy="571.6" r="1.1" fill="#fbd3d2" fill-opacity="0.55" stroke="#c46a72" stroke-opacity="0.6" stroke-width="0.6"/>
<circle cx="1242" cy="568.1" r="1.9" fill="#fbd3d2" fill-opacity="0.55" stroke="#c46a72" stroke-opacity="0.6" stroke-width="0.6"/>
<circle cx="1241.4" cy="567.5" r="0.7" fill="#fff" fill-opacity="0.8"/>
<circle cx="1473.1" cy="572" r="1.6" fill="#fbd3d2" fill-opacity="0.55" stroke="#c46a72" stroke-opacity="0.6" stroke-width="0.6"/>
<circle cx="1472.6" cy="571.5" r="0.6" fill="#fff" fill-opacity="0.8"/>
<circle cx="1265" cy="568" r="1.3" fill="#fbd3d2" fill-opacity="0.55" stroke="#c46a72" stroke-opacity="0.6" stroke-width="0.6"/>
<circle cx="1453.1" cy="573" r="0.9" fill="#fbd3d2" fill-opacity="0.55" stroke="#c46a72" stroke-opacity="0.6" stroke-width="0.6"/>
<circle cx="1417.3" cy="585.6" r="1.3" fill="#fbd3d2" fill-opacity="0.55" stroke="#c46a72" stroke-opacity="0.6" stroke-width="0.6"/>
<circle cx="1322.1" cy="587.7" r="0.9" fill="#fbd3d2" fill-opacity="0.55" stroke="#c46a72" stroke-opacity="0.6" stroke-width="0.6"/>
<circle cx="1490.6" cy="575.8" r="2.4" fill="#fbd3d2" fill-opacity="0.55" stroke="#c46a72" stroke-opacity="0.6" stroke-width="0.6"/>
<circle cx="1489.9" cy="575.1" r="0.8" fill="#fff" fill-opacity="0.8"/>
<circle cx="1414.1" cy="586.5" r="1.3" fill="#fbd3d2" fill-opacity="0.55" stroke="#c46a72" stroke-opacity="0.6" stroke-width="0.6"/>
<circle cx="1235.5" cy="565.7" r="2.4" fill="#fbd3d2" fill-opacity="0.55" stroke="#c46a72" stroke-opacity="0.6" stroke-width="0.6"/>
<circle cx="1234.7" cy="564.9" r="0.8" fill="#fff" fill-opacity="0.8"/>
<circle cx="1452" cy="575.6" r="1.6" fill="#fbd3d2" fill-opacity="0.55" stroke="#c46a72" stroke-opacity="0.6" stroke-width="0.6"/>
<circle cx="1451.5" cy="575.1" r="0.6" fill="#fff" fill-opacity="0.8"/>
<circle cx="1196.5" cy="570.2" r="1.6" fill="#fbd3d2" fill-opacity="0.55" stroke="#c46a72" stroke-opacity="0.6" stroke-width="0.6"/>
<circle cx="1196" cy="569.7" r="0.6" fill="#fff" fill-opacity="0.8"/>
<circle cx="1190.3" cy="570" r="2.4" fill="#fbd3d2" fill-opacity="0.55" stroke="#c46a72" stroke-opacity="0.6" stroke-width="0.6"/>
<circle cx="1189.6" cy="569.2" r="0.8" fill="#fff" fill-opacity="0.8"/>
<circle cx="1202.6" cy="572.1" r="1.3" fill="#fbd3d2" fill-opacity="0.55" stroke="#c46a72" stroke-opacity="0.6" stroke-width="0.6"/>
<circle cx="1526.1" cy="581.9" r="3.0" fill="#fbd3d2" fill-opacity="0.55" stroke="#c46a72" stroke-opacity="0.6" stroke-width="0.6"/>
<circle cx="1525.2" cy="581" r="1" fill="#fff" fill-opacity="0.8"/>
<circle cx="1195.5" cy="567.4" r="3.0" fill="#fbd3d2" fill-opacity="0.55" stroke="#c46a72" stroke-opacity="0.6" stroke-width="0.6"/>
<circle cx="1194.6" cy="566.5" r="1" fill="#fff" fill-opacity="0.8"/>
<circle cx="1188" cy="569.1" r="1.9" fill="#fbd3d2" fill-opacity="0.55" stroke="#c46a72" stroke-opacity="0.6" stroke-width="0.6"/>
<circle cx="1187.4" cy="568.5" r="0.7" fill="#fff" fill-opacity="0.8"/>
<circle cx="1459.5" cy="585.2" r="2.4" fill="#fbd3d2" fill-opacity="0.55" stroke="#c46a72" stroke-opacity="0.6" stroke-width="0.6"/>
<circle cx="1458.8" cy="584.4" r="0.8" fill="#fff" fill-opacity="0.8"/>
<circle cx="1349.5" cy="585.7" r="3.0" fill="#fbd3d2" fill-opacity="0.55" stroke="#c46a72" stroke-opacity="0.6" stroke-width="0.6"/>
<circle cx="1348.6" cy="584.8" r="1" fill="#fff" fill-opacity="0.8"/>
<circle cx="1185.4" cy="609.2" r="1.6" fill="#fbd3d2" fill-opacity="0.55" stroke="#c46a72" stroke-opacity="0.6" stroke-width="0.6"/>
<circle cx="1184.9" cy="608.8" r="0.6" fill="#fff" fill-opacity="0.8"/>
<circle cx="1181.3" cy="615.9" r="2.4" fill="#fbd3d2" fill-opacity="0.55" stroke="#c46a72" stroke-opacity="0.6" stroke-width="0.6"/>
<circle cx="1180.6" cy="615.2" r="0.8" fill="#fff" fill-opacity="0.8"/>
<circle cx="1194.4" cy="624.3" r="0.9" fill="#fbd3d2" fill-opacity="0.55" stroke="#c46a72" stroke-opacity="0.6" stroke-width="0.6"/>
<circle cx="1184.3" cy="601.7" r="1.3" fill="#fbd3d2" fill-opacity="0.55" stroke="#c46a72" stroke-opacity="0.6" stroke-width="0.6"/>
<circle cx="1528.6" cy="620.4" r="1.6" fill="#fbd3d2" fill-opacity="0.55" stroke="#c46a72" stroke-opacity="0.6" stroke-width="0.6"/>
<circle cx="1528.1" cy="619.9" r="0.6" fill="#fff" fill-opacity="0.8"/>
<circle cx="1524.7" cy="629.1" r="1.3" fill="#fbd3d2" fill-opacity="0.55" stroke="#c46a72" stroke-opacity="0.6" stroke-width="0.6"/>
<circle cx="1512.1" cy="594.9" r="1.1" fill="#fbd3d2" fill-opacity="0.55" stroke="#c46a72" stroke-opacity="0.6" stroke-width="0.6"/>
<circle cx="1513.3" cy="623.4" r="1.3" fill="#fbd3d2" fill-opacity="0.55" stroke="#c46a72" stroke-opacity="0.6" stroke-width="0.6"/>
<circle cx="1510.7" cy="596.2" r="1.6" fill="#fbd3d2" fill-opacity="0.55" stroke="#c46a72" stroke-opacity="0.6" stroke-width="0.6"/>
<circle cx="1510.2" cy="595.7" r="0.6" fill="#fff" fill-opacity="0.8"/>
<circle cx="1511.9" cy="778.3" r="1.9" fill="#fbd3d2" fill-opacity="0.55" stroke="#c46a72" stroke-opacity="0.6" stroke-width="0.6"/>
<circle cx="1511.3" cy="777.8" r="0.7" fill="#fff" fill-opacity="0.8"/>
<circle cx="1518.1" cy="817.5" r="1.3" fill="#fbd3d2" fill-opacity="0.55" stroke="#c46a72" stroke-opacity="0.6" stroke-width="0.6"/>
<circle cx="1513.2" cy="814" r="1.3" fill="#fbd3d2" fill-opacity="0.55" stroke="#c46a72" stroke-opacity="0.6" stroke-width="0.6"/>
<circle cx="1525.3" cy="779.6" r="0.9" fill="#fbd3d2" fill-opacity="0.55" stroke="#c46a72" stroke-opacity="0.6" stroke-width="0.6"/>
<circle cx="1522.9" cy="774.5" r="0.9" fill="#fbd3d2" fill-opacity="0.55" stroke="#c46a72" stroke-opacity="0.6" stroke-width="0.6"/>
<circle cx="1527.2" cy="718.9" r="3.0" fill="#fbd3d2" fill-opacity="0.55" stroke="#c46a72" stroke-opacity="0.6" stroke-width="0.6"/>
<circle cx="1526.3" cy="718" r="1" fill="#fff" fill-opacity="0.8"/>
<circle cx="1528.9" cy="762.6" r="1.3" fill="#fbd3d2" fill-opacity="0.55" stroke="#c46a72" stroke-opacity="0.6" stroke-width="0.6"/>
<circle cx="1528.7" cy="744.1" r="1.9" fill="#fbd3d2" fill-opacity="0.55" stroke="#c46a72" stroke-opacity="0.6" stroke-width="0.6"/>
<circle cx="1528.1" cy="743.6" r="0.7" fill="#fff" fill-opacity="0.8"/>
<circle cx="1526.2" cy="745.4" r="1.3" fill="#fbd3d2" fill-opacity="0.55" stroke="#c46a72" stroke-opacity="0.6" stroke-width="0.6"/>
<circle cx="1516.1" cy="818.9" r="1.6" fill="#fbd3d2" fill-opacity="0.55" stroke="#c46a72" stroke-opacity="0.6" stroke-width="0.6"/>
<circle cx="1515.6" cy="818.4" r="0.6" fill="#fff" fill-opacity="0.8"/>
<circle cx="1527.8" cy="807.9" r="3.0" fill="#fbd3d2" fill-opacity="0.55" stroke="#c46a72" stroke-opacity="0.6" stroke-width="0.6"/>
<circle cx="1526.9" cy="807" r="1" fill="#fff" fill-opacity="0.8"/>
<circle cx="1530.8" cy="729" r="0.9" fill="#fbd3d2" fill-opacity="0.55" stroke="#c46a72" stroke-opacity="0.6" stroke-width="0.6"/>
<circle cx="1606.4" cy="851.6" r="1.6" fill="#fbd3d2" fill-opacity="0.55" stroke="#c46a72" stroke-opacity="0.6" stroke-width="0.6"/>
<circle cx="1605.9" cy="851.1" r="0.6" fill="#fff" fill-opacity="0.8"/>
<circle cx="1583.6" cy="849" r="1.3" fill="#fbd3d2" fill-opacity="0.55" stroke="#c46a72" stroke-opacity="0.6" stroke-width="0.6"/>
<circle cx="1559.7" cy="853.6" r="1.3" fill="#fbd3d2" fill-opacity="0.55" stroke="#c46a72" stroke-opacity="0.6" stroke-width="0.6"/>
<circle cx="1590.3" cy="841.6" r="2.4" fill="#fbd3d2" fill-opacity="0.55" stroke="#c46a72" stroke-opacity="0.6" stroke-width="0.6"/>
<circle cx="1589.6" cy="840.9" r="0.8" fill="#fff" fill-opacity="0.8"/>
<circle cx="1564.3" cy="835.8" r="1.1" fill="#fbd3d2" fill-opacity="0.55" stroke="#c46a72" stroke-opacity="0.6" stroke-width="0.6"/>
<circle cx="1618.8" cy="853.4" r="3.0" fill="#fbd3d2" fill-opacity="0.55" stroke="#c46a72" stroke-opacity="0.6" stroke-width="0.6"/>
<circle cx="1617.9" cy="852.5" r="1" fill="#fff" fill-opacity="0.8"/>
<circle cx="1606" cy="856.7" r="3.0" fill="#fbd3d2" fill-opacity="0.55" stroke="#c46a72" stroke-opacity="0.6" stroke-width="0.6"/>
<circle cx="1605.1" cy="855.8" r="1" fill="#fff" fill-opacity="0.8"/>
<circle cx="1602.4" cy="846.3" r="2.4" fill="#fbd3d2" fill-opacity="0.55" stroke="#c46a72" stroke-opacity="0.6" stroke-width="0.6"/>
<circle cx="1601.7" cy="845.6" r="0.8" fill="#fff" fill-opacity="0.8"/>
<circle cx="1560.4" cy="834.6" r="2.4" fill="#fbd3d2" fill-opacity="0.55" stroke="#c46a72" stroke-opacity="0.6" stroke-width="0.6"/>
<circle cx="1559.7" cy="833.9" r="0.8" fill="#fff" fill-opacity="0.8"/>
<circle cx="1557.4" cy="840.6" r="2.4" fill="#fbd3d2" fill-opacity="0.55" stroke="#c46a72" stroke-opacity="0.6" stroke-width="0.6"/>
<circle cx="1556.7" cy="839.9" r="0.8" fill="#fff" fill-opacity="0.8"/>
<circle cx="1629" cy="844.9" r="1.3" fill="#fbd3d2" fill-opacity="0.55" stroke="#c46a72" stroke-opacity="0.6" stroke-width="0.6"/>
<circle cx="1594.9" cy="841.9" r="1.3" fill="#fbd3d2" fill-opacity="0.55" stroke="#c46a72" stroke-opacity="0.6" stroke-width="0.6"/>
<circle cx="1649.5" cy="1004.5" r="1.1" fill="#fbd3d2" fill-opacity="0.55" stroke="#c46a72" stroke-opacity="0.6" stroke-width="0.6"/>
<circle cx="1635.9" cy="885.9" r="1.9" fill="#fbd3d2" fill-opacity="0.55" stroke="#c46a72" stroke-opacity="0.6" stroke-width="0.6"/>
<circle cx="1635.3" cy="885.4" r="0.7" fill="#fff" fill-opacity="0.8"/>
<circle cx="1651.5" cy="993.6" r="3.0" fill="#fbd3d2" fill-opacity="0.55" stroke="#c46a72" stroke-opacity="0.6" stroke-width="0.6"/>
<circle cx="1650.6" cy="992.7" r="1" fill="#fff" fill-opacity="0.8"/>
<circle cx="1649.4" cy="973.8" r="1.6" fill="#fbd3d2" fill-opacity="0.55" stroke="#c46a72" stroke-opacity="0.6" stroke-width="0.6"/>
<circle cx="1648.9" cy="973.3" r="0.6" fill="#fff" fill-opacity="0.8"/>
<circle cx="1640.6" cy="997.5" r="2.4" fill="#fbd3d2" fill-opacity="0.55" stroke="#c46a72" stroke-opacity="0.6" stroke-width="0.6"/>
<circle cx="1639.9" cy="996.8" r="0.8" fill="#fff" fill-opacity="0.8"/>
<circle cx="1642" cy="917.3" r="0.9" fill="#fbd3d2" fill-opacity="0.55" stroke="#c46a72" stroke-opacity="0.6" stroke-width="0.6"/>
<circle cx="1638.7" cy="890.3" r="2.4" fill="#fbd3d2" fill-opacity="0.55" stroke="#c46a72" stroke-opacity="0.6" stroke-width="0.6"/>
<circle cx="1638" cy="889.6" r="0.8" fill="#fff" fill-opacity="0.8"/>
<circle cx="1651.5" cy="873.6" r="1.3" fill="#fbd3d2" fill-opacity="0.55" stroke="#c46a72" stroke-opacity="0.6" stroke-width="0.6"/>
<circle cx="1636.8" cy="905.4" r="2.4" fill="#fbd3d2" fill-opacity="0.55" stroke="#c46a72" stroke-opacity="0.6" stroke-width="0.6"/>
<circle cx="1636.1" cy="904.7" r="0.8" fill="#fff" fill-opacity="0.8"/>
<circle cx="1652.1" cy="929.4" r="1.1" fill="#fbd3d2" fill-opacity="0.55" stroke="#c46a72" stroke-opacity="0.6" stroke-width="0.6"/>
<circle cx="1657.8" cy="885" r="2.4" fill="#fbd3d2" fill-opacity="0.55" stroke="#c46a72" stroke-opacity="0.6" stroke-width="0.6"/>
<circle cx="1657.1" cy="884.2" r="0.8" fill="#fff" fill-opacity="0.8"/>
<circle cx="1639.7" cy="910.3" r="1.3" fill="#fbd3d2" fill-opacity="0.55" stroke="#c46a72" stroke-opacity="0.6" stroke-width="0.6"/>
<circle cx="1641" cy="1002.7" r="1.9" fill="#fbd3d2" fill-opacity="0.55" stroke="#c46a72" stroke-opacity="0.6" stroke-width="0.6"/>
<circle cx="1640.4" cy="1002.1" r="0.7" fill="#fff" fill-opacity="0.8"/>
<circle cx="1646.8" cy="1001.7" r="1.3" fill="#fbd3d2" fill-opacity="0.55" stroke="#c46a72" stroke-opacity="0.6" stroke-width="0.6"/>
<circle cx="1655.7" cy="936.1" r="1.3" fill="#fbd3d2" fill-opacity="0.55" stroke="#c46a72" stroke-opacity="0.6" stroke-width="0.6"/>
<circle cx="1648.8" cy="901.6" r="2.4" fill="#fbd3d2" fill-opacity="0.55" stroke="#c46a72" stroke-opacity="0.6" stroke-width="0.6"/>
<circle cx="1648" cy="900.9" r="0.8" fill="#fff" fill-opacity="0.8"/>
<circle cx="1692.8" cy="865.4" r="2.4" fill="#fbd3d2" fill-opacity="0.55" stroke="#c46a72" stroke-opacity="0.6" stroke-width="0.6"/>
<circle cx="1692.1" cy="864.7" r="0.8" fill="#fff" fill-opacity="0.8"/>
<circle cx="1747.6" cy="870.8" r="1.6" fill="#fbd3d2" fill-opacity="0.55" stroke="#c46a72" stroke-opacity="0.6" stroke-width="0.6"/>
<circle cx="1747.1" cy="870.3" r="0.6" fill="#fff" fill-opacity="0.8"/>
<circle cx="1793.2" cy="872" r="1.6" fill="#fbd3d2" fill-opacity="0.55" stroke="#c46a72" stroke-opacity="0.6" stroke-width="0.6"/>
<circle cx="1792.8" cy="871.5" r="0.6" fill="#fff" fill-opacity="0.8"/>
<circle cx="1681.4" cy="879.4" r="1.3" fill="#fbd3d2" fill-opacity="0.55" stroke="#c46a72" stroke-opacity="0.6" stroke-width="0.6"/>
<circle cx="1668.7" cy="875.5" r="1.9" fill="#fbd3d2" fill-opacity="0.55" stroke="#c46a72" stroke-opacity="0.6" stroke-width="0.6"/>
<circle cx="1668.2" cy="874.9" r="0.7" fill="#fff" fill-opacity="0.8"/>
<circle cx="1665.7" cy="868" r="0.9" fill="#fbd3d2" fill-opacity="0.55" stroke="#c46a72" stroke-opacity="0.6" stroke-width="0.6"/>
<circle cx="1740" cy="866.6" r="3.0" fill="#fbd3d2" fill-opacity="0.55" stroke="#c46a72" stroke-opacity="0.6" stroke-width="0.6"/>
<circle cx="1739.1" cy="865.7" r="1" fill="#fff" fill-opacity="0.8"/>
<circle cx="1709.1" cy="856.2" r="1.3" fill="#fbd3d2" fill-opacity="0.55" stroke="#c46a72" stroke-opacity="0.6" stroke-width="0.6"/>
<circle cx="1680.5" cy="863.4" r="3.0" fill="#fbd3d2" fill-opacity="0.55" stroke="#c46a72" stroke-opacity="0.6" stroke-width="0.6"/>
<circle cx="1679.6" cy="862.5" r="1" fill="#fff" fill-opacity="0.8"/>
<circle cx="1734.6" cy="856.1" r="1.3" fill="#fbd3d2" fill-opacity="0.55" stroke="#c46a72" stroke-opacity="0.6" stroke-width="0.6"/>
<circle cx="1688.5" cy="875" r="2.4" fill="#fbd3d2" fill-opacity="0.55" stroke="#c46a72" stroke-opacity="0.6" stroke-width="0.6"/>
<circle cx="1687.7" cy="874.3" r="0.8" fill="#fff" fill-opacity="0.8"/>
<circle cx="1765.8" cy="857.2" r="1.3" fill="#fbd3d2" fill-opacity="0.55" stroke="#c46a72" stroke-opacity="0.6" stroke-width="0.6"/>
<circle cx="1743.8" cy="877.2" r="1.3" fill="#fbd3d2" fill-opacity="0.55" stroke="#c46a72" stroke-opacity="0.6" stroke-width="0.6"/>
<circle cx="1706.1" cy="875.3" r="3.0" fill="#fbd3d2" fill-opacity="0.55" stroke="#c46a72" stroke-opacity="0.6" stroke-width="0.6"/>
<circle cx="1705.2" cy="874.4" r="1" fill="#fff" fill-opacity="0.8"/>
<circle cx="1835.2" cy="856.4" r="1.1" fill="#fbd3d2" fill-opacity="0.55" stroke="#c46a72" stroke-opacity="0.6" stroke-width="0.6"/>
<circle cx="1677.8" cy="877.6" r="1.3" fill="#fbd3d2" fill-opacity="0.55" stroke="#c46a72" stroke-opacity="0.6" stroke-width="0.6"/>
<circle cx="1691.8" cy="867.9" r="3.0" fill="#fbd3d2" fill-opacity="0.55" stroke="#c46a72" stroke-opacity="0.6" stroke-width="0.6"/>
<circle cx="1690.9" cy="867" r="1" fill="#fff" fill-opacity="0.8"/>
<circle cx="1754.3" cy="875.2" r="1.9" fill="#fbd3d2" fill-opacity="0.55" stroke="#c46a72" stroke-opacity="0.6" stroke-width="0.6"/>
<circle cx="1753.8" cy="874.6" r="0.7" fill="#fff" fill-opacity="0.8"/>
<circle cx="1691.9" cy="859.7" r="1.6" fill="#fbd3d2" fill-opacity="0.55" stroke="#c46a72" stroke-opacity="0.6" stroke-width="0.6"/>
<circle cx="1691.5" cy="859.2" r="0.6" fill="#fff" fill-opacity="0.8"/>
<circle cx="1720.4" cy="871.1" r="1.1" fill="#fbd3d2" fill-opacity="0.55" stroke="#c46a72" stroke-opacity="0.6" stroke-width="0.6"/>
<circle cx="1793" cy="860.5" r="1.1" fill="#fbd3d2" fill-opacity="0.55" stroke="#c46a72" stroke-opacity="0.6" stroke-width="0.6"/>
<circle cx="1794.9" cy="860.6" r="1.6" fill="#fbd3d2" fill-opacity="0.55" stroke="#c46a72" stroke-opacity="0.6" stroke-width="0.6"/>
<circle cx="1794.4" cy="860.1" r="0.6" fill="#fff" fill-opacity="0.8"/>
<circle cx="1842.5" cy="905.7" r="3.0" fill="#fbd3d2" fill-opacity="0.55" stroke="#c46a72" stroke-opacity="0.6" stroke-width="0.6"/>
<circle cx="1841.6" cy="904.8" r="1" fill="#fff" fill-opacity="0.8"/>
<circle cx="1840.6" cy="989.8" r="2.4" fill="#fbd3d2" fill-opacity="0.55" stroke="#c46a72" stroke-opacity="0.6" stroke-width="0.6"/>
<circle cx="1839.9" cy="989" r="0.8" fill="#fff" fill-opacity="0.8"/>
<circle cx="1837.8" cy="898" r="1.9" fill="#fbd3d2" fill-opacity="0.55" stroke="#c46a72" stroke-opacity="0.6" stroke-width="0.6"/>
<circle cx="1837.2" cy="897.4" r="0.7" fill="#fff" fill-opacity="0.8"/>
<circle cx="1846.9" cy="938.7" r="1.3" fill="#fbd3d2" fill-opacity="0.55" stroke="#c46a72" stroke-opacity="0.6" stroke-width="0.6"/>
<circle cx="1851.5" cy="954.3" r="1.1" fill="#fbd3d2" fill-opacity="0.55" stroke="#c46a72" stroke-opacity="0.6" stroke-width="0.6"/>
<circle cx="1841.8" cy="913.4" r="0.9" fill="#fbd3d2" fill-opacity="0.55" stroke="#c46a72" stroke-opacity="0.6" stroke-width="0.6"/>
<circle cx="1851.5" cy="965.3" r="1.3" fill="#fbd3d2" fill-opacity="0.55" stroke="#c46a72" stroke-opacity="0.6" stroke-width="0.6"/>
<circle cx="1834.5" cy="933.4" r="3.0" fill="#fbd3d2" fill-opacity="0.55" stroke="#c46a72" stroke-opacity="0.6" stroke-width="0.6"/>
<circle cx="1833.6" cy="932.5" r="1" fill="#fff" fill-opacity="0.8"/>
<circle cx="1837.9" cy="998" r="0.9" fill="#fbd3d2" fill-opacity="0.55" stroke="#c46a72" stroke-opacity="0.6" stroke-width="0.6"/>
<circle cx="1855.8" cy="975.1" r="1.3" fill="#fbd3d2" fill-opacity="0.55" stroke="#c46a72" stroke-opacity="0.6" stroke-width="0.6"/>
<circle cx="1850.3" cy="970.8" r="1.1" fill="#fbd3d2" fill-opacity="0.55" stroke="#c46a72" stroke-opacity="0.6" stroke-width="0.6"/>
<circle cx="1857.3" cy="936.3" r="3.0" fill="#fbd3d2" fill-opacity="0.55" stroke="#c46a72" stroke-opacity="0.6" stroke-width="0.6"/>
<circle cx="1856.4" cy="935.4" r="1" fill="#fff" fill-opacity="0.8"/>
<circle cx="1856.5" cy="990.4" r="0.9" fill="#fbd3d2" fill-opacity="0.55" stroke="#c46a72" stroke-opacity="0.6" stroke-width="0.6"/>
<circle cx="1855.9" cy="907.2" r="1.6" fill="#fbd3d2" fill-opacity="0.55" stroke="#c46a72" stroke-opacity="0.6" stroke-width="0.6"/>
<circle cx="1855.4" cy="906.7" r="0.6" fill="#fff" fill-opacity="0.8"/>
<circle cx="1848.6" cy="985.3" r="1.3" fill="#fbd3d2" fill-opacity="0.55" stroke="#c46a72" stroke-opacity="0.6" stroke-width="0.6"/>
<circle cx="1731.4" cy="1008.8" r="2.4" fill="#fbd3d2" fill-opacity="0.55" stroke="#c46a72" stroke-opacity="0.6" stroke-width="0.6"/>
<circle cx="1730.7" cy="1008.1" r="0.8" fill="#fff" fill-opacity="0.8"/>
<circle cx="1732" cy="1009.9" r="1.6" fill="#fbd3d2" fill-opacity="0.55" stroke="#c46a72" stroke-opacity="0.6" stroke-width="0.6"/>
<circle cx="1731.5" cy="1009.4" r="0.6" fill="#fff" fill-opacity="0.8"/>
<circle cx="1745.6" cy="998" r="1.9" fill="#fbd3d2" fill-opacity="0.55" stroke="#c46a72" stroke-opacity="0.6" stroke-width="0.6"/>
<circle cx="1745" cy="997.5" r="0.7" fill="#fff" fill-opacity="0.8"/>
<circle cx="1748.8" cy="975" r="1.3" fill="#fbd3d2" fill-opacity="0.55" stroke="#c46a72" stroke-opacity="0.6" stroke-width="0.6"/>
<circle cx="1735.4" cy="994.9" r="1.9" fill="#fbd3d2" fill-opacity="0.55" stroke="#c46a72" stroke-opacity="0.6" stroke-width="0.6"/>
<circle cx="1734.9" cy="994.3" r="0.7" fill="#fff" fill-opacity="0.8"/>
</g>
<g id="wheel">
<path d="M1548 1049.4 L1548 1216 A177 38 0 0 0 1902 1216 L1902 1049.4 A177 37.2 0 0 1 1548 1049.4 Z" fill="url(#cyl)"/>
<clipPath id="sideclip"><path d="M1548 1049.4 L1548 1216 A177 38 0 0 0 1902 1216 L1902 1049.4Z"/></clipPath>
<g clip-path="url(#sideclip)">
<path d="M1548 1152.5 Q1725 1216.9 1902 1152.5 L1902 1158.5 Q1725 1222.9 1548 1158.5Z" fill="#000" fill-opacity="0.10"/>
<path d="M1548 1129.5 Q1725 1190.5 1902 1129.5 L1902 1152.5 Q1725 1216.9 1548 1152.5Z" fill="url(#band)"/>
</g>
<defs><path id="chev" d="M4.4 0L-4.2 -4L-1.4 0L-4.2 4Z" fill="#fff"/></defs>
<use href="#chev" transform="translate(1559.2 1144.8) rotate(18.3)"/><use href="#chev" transform="translate(1572 1148.9) rotate(17)"/><use href="#chev" transform="translate(1584.7 1152.6) rotate(15.7)"/><use href="#chev" transform="translate(1597.5 1156) rotate(14.3)"/><use href="#chev" transform="translate(1610.2 1159.1) rotate(12.9)"/><use href="#chev" transform="translate(1623 1161.9) rotate(11.5)"/><use href="#chev" transform="translate(1635.7 1164.3) rotate(10.1)"/><use href="#chev" transform="translate(1648.5 1166.4) rotate(8.7)"/><use href="#chev" transform="translate(1661.2 1168.2) rotate(7.3)"/><use href="#chev" transform="translate(1674 1169.7) rotate(5.8)"/><use href="#chev" transform="translate(1686.7 1170.8) rotate(4.4)"/><use href="#chev" transform="translate(1699.5 1171.6) rotate(2.9)"/><use href="#chev" transform="translate(1712.2 1172.1) rotate(1.5)"/><use href="#chev" transform="translate(1725 1172.3) rotate(0)"/><use href="#chev" transform="translate(1737.7 1172.1) rotate(-1.5)"/><use href="#chev" transform="translate(1750.5 1171.7) rotate(-2.9)"/><use href="#chev" transform="translate(1763.2 1170.8) rotate(-4.4)"/><use href="#chev" transform="translate(1776 1169.7) rotate(-5.8)"/><use href="#chev" transform="translate(1788.7 1168.2) rotate(-7.3)"/><use href="#chev" transform="translate(1801.5 1166.5) rotate(-8.7)"/><use href="#chev" transform="translate(1814.2 1164.4) rotate(-10.1)"/><use href="#chev" transform="translate(1827 1161.9) rotate(-11.5)"/><use href="#chev" transform="translate(1839.7 1159.2) rotate(-12.9)"/><use href="#chev" transform="translate(1852.5 1156.1) rotate(-14.3)"/><use href="#chev" transform="translate(1865.2 1152.7) rotate(-15.6)"/><use href="#chev" transform="translate(1878 1148.9) rotate(-17)"/><use href="#chev" transform="translate(1890.7 1144.9) rotate(-18.3)"/>
<g fill="none" stroke="#fff" stroke-width="1.8">
<path d="M1548.6 1158 Q1572 1176 1600 1183.6"/>
<path d="M1725.7 1195 Q1760 1195.4 1793 1192.6"/>
<path d="M1889 1174.5 Q1896 1171 1902 1166.5"/>
</g>
<path d="M1609.5 1186L1597.6 1188L1600.2 1178.3Z" fill="#fff"/>
<path d="M1804 1191.6L1793.5 1197.6L1792.6 1187.6Z" fill="#fff"/>
<ellipse cx="1725" cy="1049.4" rx="177" ry="37.2" fill="#f0b373"/>
<path d="M1724.5 1048.8 L1868.3 1027.6 A177 37.2 0 0 1 1841 1077.5 Z" fill="#13a1e7"/>
<path d="M1724.5 1048.8 L1841 1077.5 A177 37.2 0 0 1 1675 1085.1 Z" fill="#e8212b"/>
<rect x="1546" y="1010" width="358" height="78" fill="url(#hex)" clip-path="url(#wtop)"/>
<defs>
<linearGradient id="f1" gradientUnits="userSpaceOnUse" x1="0" x2="0" y1="1006" y2="1084"><stop offset="0" stop-color="#ef878b" stop-opacity="1"/><stop offset="0.2" stop-color="#ef878b" stop-opacity="1"/><stop offset="0.65" stop-color="#ef878b" stop-opacity="0.78"/><stop offset="1" stop-color="#ef878b" stop-opacity="0.15"/></linearGradient>
<linearGradient id="f2" gradientUnits="userSpaceOnUse" x1="0" x2="0" y1="1004" y2="1074"><stop offset="0" stop-color="#ef878b" stop-opacity="1"/><stop offset="0.16" stop-color="#ef878b" stop-opacity="1"/><stop offset="0.6" stop-color="#ef878b" stop-opacity="0.85"/><stop offset="1" stop-color="#ef878b" stop-opacity="0"/></linearGradient>
<linearGradient id="f3" gradientUnits="userSpaceOnUse" x1="0" x2="0" y1="1012" y2="1078"><stop offset="0" stop-color="#ef878b" stop-opacity="1"/><stop offset="0.2" stop-color="#ef878b" stop-opacity="1"/><stop offset="0.55" stop-color="#ef878b" stop-opacity="0.62"/><stop offset="1" stop-color="#ef878b" stop-opacity="0.2"/></linearGradient>
</defs>
<path d="M1633 1006 L1660.6 1006 L1660.6 1082.8 Q1647 1082 1633 1080.8Z" fill="url(#f1)"/>
<rect x="1725" y="1004" width="28.5" height="70" fill="url(#f2)"/>
<path d="M1832 1012 L1860 1012 L1860 1073.5 Q1846 1076.5 1832 1079Z" fill="url(#f3)"/>
<path d="M1632.8 1081.2L1632.8 1248.4" stroke="#f0b373" stroke-width="1.7" stroke-dasharray="1.5 1.5" stroke-opacity="0.85" fill="none"/>
<path d="M1661 1084.1L1661 1251.4" stroke="#f0b373" stroke-width="1.7" stroke-dasharray="1.5 1.5" stroke-opacity="0.85" fill="none"/>
<path d="M1725.4 1086.6L1725.4 1254" stroke="#e0494f" stroke-width="1.7" stroke-dasharray="1.5 1.5" stroke-opacity="0.85" fill="none"/>
<path d="M1753.6 1086.1L1753.6 1253.5" stroke="#e0494f" stroke-width="1.7" stroke-dasharray="1.5 1.5" stroke-opacity="0.85" fill="none"/>
<path d="M1832 1079L1832 1246.3" stroke="#bfe0f4" stroke-width="1.7" stroke-dasharray="1.5 1.5" stroke-opacity="0.85" fill="none"/>
<path d="M1860 1073.5L1860 1240.6" stroke="#bfe0f4" stroke-width="1.7" stroke-dasharray="1.5 1.5" stroke-opacity="0.85" fill="none"/>
</g>
<path d="M1187.9 635.4L1187.9 615.5" stroke="#fff" stroke-width="2.2" fill="none"/>
<path d="M1187.9 604L1193.7 616.5L1182.2 616.5Z" fill="#fff"/>
<path d="M1206 577.9L1224.7 577.9" stroke="#fff" stroke-width="2.2" fill="none"/>
<path d="M1236.2 577.9L1223.7 583.6L1223.7 572.1Z" fill="#fff"/>
<path d="M1308 577.9L1326.5 577.9" stroke="#fff" stroke-width="2.2" fill="none"/>
<path d="M1338 577.9L1325.5 583.6L1325.5 572.1Z" fill="#fff"/>
<path d="M1521 598.8L1521 617.3" stroke="#fff" stroke-width="2.2" fill="none"/>
<path d="M1521 628.8L1515.2 616.3L1526.8 616.3Z" fill="#fff"/>
<path d="M1521 760.8L1521 778" stroke="#fff" stroke-width="2.2" fill="none"/>
<path d="M1521 789.5L1515.2 777L1526.8 777Z" fill="#fff"/>
<path d="M1595.3 846L1614.5 846" stroke="#fff" stroke-width="2.2" fill="none"/>
<path d="M1626 846L1613.5 851.8L1613.5 840.2Z" fill="#fff"/>
<path d="M1724.2 867.8L1742.7 867.8" stroke="#fff" stroke-width="2.2" fill="none"/>
<path d="M1754.2 867.8L1741.7 873.5L1741.7 862Z" fill="#fff"/>
<path d="M1650 949.4L1650 968.3" stroke="#fff" stroke-width="2.2" fill="none"/>
<path d="M1650 979.8L1644.2 967.3L1655.8 967.3Z" fill="#fff"/>
<path d="M1845.5 916L1845.5 935.1" stroke="#fff" stroke-width="2.2" fill="none"/>
<path d="M1845.5 946.6L1839.8 934.1L1851.2 934.1Z" fill="#fff"/>
<path d="M1739.3 1005.8L1739.3 986.7" stroke="#fff" stroke-width="2.2" fill="none"/>
<path d="M1739.3 975.2L1745 987.7L1733.5 987.7Z" fill="#fff"/>
<path d="M1845.8 1014L1845.8 1033.2" stroke="#fff" stroke-width="2.2" fill="none"/>
<path d="M1845.8 1044.7L1840 1032.2L1851.5 1032.2Z" fill="#fff"/>
<path d="M1646.6 1102.6L1646.6 1121.9" stroke="#fff" stroke-width="2.2" fill="none"/>
<path d="M1646.6 1133.4L1640.8 1120.9L1652.3 1120.9Z" fill="#fff"/>
<path d="M1739.6 1138.6L1739.6 1119.3" stroke="#fff" stroke-width="2.2" fill="none"/>
<path d="M1739.6 1107.8L1745.3 1120.3L1733.8 1120.3Z" fill="#fff"/>
<path d="M1848.9 1102.6L1848.9 1121.9" stroke="#fff" stroke-width="2.2" fill="none"/>
<path d="M1848.9 1133.4L1843.2 1120.9L1854.7 1120.9Z" fill="#fff"/>
<path d="M1739.6 1238.7L1739.6 1220" stroke="#fff" stroke-width="2.2" fill="none"/>
<path d="M1739.6 1208.5L1745.3 1221L1733.8 1221Z" fill="#fff"/>
<path d="M1647.2 1227L1647.2 1245.5" stroke="#fff" stroke-width="2.2" fill="none"/>
<path d="M1647.2 1257L1641.5 1244.5L1653 1244.5Z" fill="#fff"/>
<path d="M1739.6 1304L1739.6 1285.5" stroke="#fff" stroke-width="2.2" fill="none"/>
<path d="M1739.6 1274L1745.3 1286.5L1733.8 1286.5Z" fill="#fff"/>
<path d="M1417.8 1238L1417.8 1219.4" stroke="#fff" stroke-width="2.2" fill="none"/>
<path d="M1417.8 1207.9L1423.5 1220.4L1412 1220.4Z" fill="#fff"/>
<path d="M1450 1312L1431.5 1312" stroke="#fff" stroke-width="2.2" fill="none"/>
<path d="M1420 1312L1432.5 1306.2L1432.5 1317.8Z" fill="#fff"/>
<path d="M1615.8 1312L1597.1 1312" stroke="#fff" stroke-width="2.2" fill="none"/>
<path d="M1585.6 1312L1598.1 1306.2L1598.1 1317.8Z" fill="#fff"/>
<defs>
<g id="heater"><rect x="-18" y="-45.8" width="36" height="16" rx="3.5" fill="#8a8a8a"/><rect x="-18" y="29.8" width="36" height="16" rx="3.5" fill="#8a8a8a"/><path d="M-24.4 -32.6Q0 -38.6 24.4 -32.6L24.4 32.6Q0 38.6 -24.4 32.6Z" fill="url(#heat)" stroke="#ee8a25" stroke-width="1"/><path d="M-14.4 -27.5L-11.5 -27.5L-11.5 -30L-6.5 -30L-6.5 -27.5L-2.5 -27.5L-2.5 -30L2.5 -30L2.5 -27.5L6.5 -27.5L6.5 -30L11.5 -30L11.5 -27.5L14.4 -27.5L14.4 -21.5L12.3 -21.5L12.3 -18.5L-12.3 -18.5L-12.3 -21.5L-14.4 -21.5Z" fill="#7d7d7d"/><path d="M-8.9 -18.4L-8.9 19.3A3.2 3.8 0 0 0 -2.5 19.3L-2.5 -3.2A2.5 3.6 0 0 1 2.5 -3.2L2.5 19.3A3.5 3.8 0 0 0 9.6 19.3L9.6 -18.4" fill="none" stroke="#e31e26" stroke-width="3.6"/></g>
<g id="filter"><path d="M-17.6 -37L17.6 -37L17.6 -33.6Q22.4 -30 22.4 -24L22.4 24Q22.4 30 17.6 33.6L17.6 37L-17.6 37L-17.6 33.6Q-22.4 30 -22.4 24L-22.4 -24Q-22.4 -30 -17.6 -33.6Z" fill="#8a8a8a"/><rect x="-12.9" y="-33.3" width="25.8" height="66.6" rx="2.5" fill="url(#mesh)"/></g>
<g id="blower"><path d="M30.1 -34.1L0.2 -34.1A26.6 30.5 0 1 0 26.5 0.8L26.5 -5.1L30.1 -5.1Z" fill="url(#vol)"/><rect x="30.1" y="-36.9" width="4.4" height="32.3" fill="#dcdcdc" stroke="#8a8a8a" stroke-width="0.9"/><circle r="19.4" fill="#d6d6d6" stroke="#666" stroke-width="1.2"/><path d="M-13.7 -13.7L13.7 13.7M-13.7 13.7L13.7 -13.7" stroke="#666" stroke-width="1.2"/><circle r="15.6" fill="none" stroke="#666" stroke-width="1.2"/><circle r="11.8" fill="none" stroke="#666" stroke-width="1.2"/><circle r="8" fill="none" stroke="#666" stroke-width="1.2"/><circle r="4.4" fill="#c4c4c4" stroke="#666" stroke-width="1.1"/><g fill="#e4e4e4" stroke="#666" stroke-width="1"><circle cx="-15.4" cy="-15.4" r="2.1"/><circle cx="15.4" cy="-15.4" r="2.1"/><circle cx="-15.4" cy="15.4" r="2.1"/><circle cx="15.4" cy="15.4" r="2.1"/></g></g>
</defs>
<use href="#heater" transform="translate(1418.8 1142.8)"/>
<use href="#heater" transform="translate(1928 1339.2) rotate(-90)"/>
<use href="#filter" transform="translate(1521 681)"/>
<use href="#filter" transform="translate(2234.5 1362.4) rotate(90)"/>
<use href="#blower" transform="translate(1517.1 864.7)"/>
<use href="#blower" transform="translate(2076.8 1360.4) scale(-1 1)"/>
<path d="M2016 1338.6L1998 1338.6" stroke="#4d5a52" stroke-width="2.0" fill="none"/>
<path d="M1988 1338.6L1999 1333.6L1999 1343.6Z" fill="#4d5a52"/>
<path d="M2170.9 1362.3L2150.9 1362.3" stroke="#4d5a52" stroke-width="2.0" fill="none"/>
<path d="M2140.9 1362.3L2151.9 1357.3L2151.9 1367.3Z" fill="#4d5a52"/>
<path d="M2329 1362.3L2309 1362.3" stroke="#4a4866" stroke-width="2.0" fill="none"/>
<path d="M2299 1362.3L2310 1357.3L2310 1367.3Z" fill="#4a4866"/>
<text x="1563.5" y="685.8" font-size="24.5" fill="#595a5c" textLength="97" lengthAdjust="spacingAndGlyphs">Process</text>
<text x="1563.5" y="714.6" font-size="24.5" fill="#595a5c" textLength="58.8" lengthAdjust="spacingAndGlyphs">Filter</text>
<text x="1483" y="921.8" font-size="24.5" fill="#595a5c" textLength="97" lengthAdjust="spacingAndGlyphs">Process</text>
<text x="1483" y="949.8" font-size="24.5" fill="#595a5c" textLength="84" lengthAdjust="spacingAndGlyphs">Blower</text>
<text x="1450.2" y="1010.1" font-size="24.5" fill="#595a5c" textLength="97" lengthAdjust="spacingAndGlyphs">Process</text>
<text x="1450.2" y="1038.8" font-size="24.5" fill="#595a5c" textLength="84.5" lengthAdjust="spacingAndGlyphs">Heater</text>
<text x="1884.7" y="1275.8" font-size="24.5" fill="#595a5c" textLength="84" lengthAdjust="spacingAndGlyphs">Reacti.</text>
<text x="1884.7" y="1304" font-size="24.5" fill="#595a5c" textLength="84.5" lengthAdjust="spacingAndGlyphs">Heater</text>
<text x="2034.2" y="1279.1" font-size="24.5" fill="#595a5c" textLength="84" lengthAdjust="spacingAndGlyphs">Reacti.</text>
<text x="2034.2" y="1307.4" font-size="24.5" fill="#595a5c" textLength="84" lengthAdjust="spacingAndGlyphs">Blower</text>
<text x="2198.3" y="1294.3" font-size="24.5" fill="#595a5c" textLength="84" lengthAdjust="spacingAndGlyphs">Reacti.</text>
<text x="2198.3" y="1322.3" font-size="24.5" fill="#595a5c" textLength="58.8" lengthAdjust="spacingAndGlyphs">Filter</text>
<text x="1038.5" y="1430.3" font-size="24.5" fill="#595a5c" textLength="92.5" lengthAdjust="spacingAndGlyphs">Hopper</text>
<text x="1049.2" y="1479.6" font-size="24.5" fill="#595a5c" textLength="72" lengthAdjust="spacingAndGlyphs">160ºC</text>
<g id="table">
<text x="2043.3" y="573.8" font-size="18" fill="#2b2a29" text-anchor="middle" font-weight="bold" textLength="92" lengthAdjust="spacingAndGlyphs">Dew Point</text>
<text x="2043.3" y="595" font-size="18" fill="#2b2a29" text-anchor="middle" font-weight="bold" textLength="64.5" lengthAdjust="spacingAndGlyphs">Degree</text>
<text x="2045.9" y="616.3" font-size="18" fill="#2b2a29" text-anchor="middle" font-weight="bold" textLength="78.6" lengthAdjust="spacingAndGlyphs">Celcious</text>
<text x="2207.4" y="573.8" font-size="18" fill="#2b2a29" text-anchor="middle" font-weight="bold" textLength="125" lengthAdjust="spacingAndGlyphs">PPM Moisture</text>
<text x="2207.4" y="595" font-size="18" fill="#2b2a29" text-anchor="middle" font-weight="bold" textLength="122" lengthAdjust="spacingAndGlyphs">(Voume basis</text>
<text x="2207.4" y="616.3" font-size="18" fill="#2b2a29" text-anchor="middle" font-weight="bold" textLength="125.4" lengthAdjust="spacingAndGlyphs">@760mm, Hg)</text>
<rect x="1994.5" y="750.4" width="272.5" height="39" fill="#ffed00" stroke="#e8212b" stroke-width="4"/>
<rect x="1994.5" y="892" width="272.5" height="39" fill="#ffed00" stroke="#e8212b" stroke-width="4"/>
<path d="M2008.5 1092L2008.5 633.6L2024.8 633.6" fill="none" stroke="#2b2a29" stroke-width="4.2"/>
<path d="M2253.7 1092L2253.7 633.6L2231.2 633.6" fill="none" stroke="#2b2a29" stroke-width="4.3"/>
<path d="M2233 651.5L2252 651.5" stroke="#2b2a29" stroke-width="1.9"/>
<path d="M2233 669.4L2252 669.4" stroke="#2b2a29" stroke-width="1.9"/>
<path d="M2233 687.4L2252 687.4" stroke="#2b2a29" stroke-width="1.9"/>
<path d="M2233 705.3L2252 705.3" stroke="#2b2a29" stroke-width="1.9"/>
<path d="M2233 723.2L2252 723.2" stroke="#2b2a29" stroke-width="4"/>
<path d="M2233 741.1L2252 741.1" stroke="#2b2a29" stroke-width="1.9"/>
<path d="M2233 759L2252 759" stroke="#2b2a29" stroke-width="1.9"/>
<path d="M2233 777L2252 777" stroke="#2b2a29" stroke-width="1.9"/>
<path d="M2233 794.9L2252 794.9" stroke="#2b2a29" stroke-width="1.9"/>
<path d="M2233 812.8L2252 812.8" stroke="#2b2a29" stroke-width="4"/>
<path d="M2233 830.7L2252 830.7" stroke="#2b2a29" stroke-width="1.9"/>
<path d="M2233 848.6L2252 848.6" stroke="#2b2a29" stroke-width="1.9"/>
<path d="M2233 866.6L2252 866.6" stroke="#2b2a29" stroke-width="1.9"/>
<path d="M2233 884.5L2252 884.5" stroke="#2b2a29" stroke-width="1.9"/>
<path d="M2233 902.4L2252 902.4" stroke="#2b2a29" stroke-width="4"/>
<path d="M2233 920.3L2252 920.3" stroke="#2b2a29" stroke-width="1.9"/>
<path d="M2233 938.2L2252 938.2" stroke="#2b2a29" stroke-width="1.9"/>
<path d="M2233 956.2L2252 956.2" stroke="#2b2a29" stroke-width="1.9"/>
<path d="M2233 974.1L2252 974.1" stroke="#2b2a29" stroke-width="1.9"/>
<path d="M2233 992L2252 992" stroke="#2b2a29" stroke-width="4"/>
<path d="M2233 1009.9L2252 1009.9" stroke="#2b2a29" stroke-width="1.9"/>
<path d="M2233 1027.8L2252 1027.8" stroke="#2b2a29" stroke-width="1.9"/>
<path d="M2233 1045.8L2252 1045.8" stroke="#2b2a29" stroke-width="1.9"/>
<path d="M2233 1063.7L2252 1063.7" stroke="#2b2a29" stroke-width="1.9"/>
<path d="M2233 1081.6L2252 1081.6" stroke="#2b2a29" stroke-width="4"/>
<rect x="2018.7" y="692.6" width="11.7" height="4.6" fill="#2b2a29"/>
<text x="2042.6" y="707.4" font-size="26.5" fill="#2b2a29" font-weight="bold" textLength="60.1" lengthAdjust="spacingAndGlyphs">(-)70</text>
<text x="2215.6" y="707.7" font-size="26.5" fill="#2b2a29" text-anchor="end" font-weight="bold" textLength="55.3" lengthAdjust="spacingAndGlyphs">2.55</text>
<rect x="2018.7" y="763.6" width="11.7" height="4.6" fill="#2b2a29"/>
<text x="2042.6" y="778.4" font-size="26.5" fill="#2b2a29" font-weight="bold" textLength="60.1" lengthAdjust="spacingAndGlyphs">(-)60</text>
<text x="2215.6" y="779.5" font-size="26.5" fill="#2b2a29" text-anchor="end" font-weight="bold" textLength="55.3" lengthAdjust="spacingAndGlyphs">10.6</text>
<rect x="2018.7" y="834.6" width="11.7" height="4.6" fill="#2b2a29"/>
<text x="2042.6" y="849.4" font-size="26.5" fill="#2b2a29" font-weight="bold" textLength="60.1" lengthAdjust="spacingAndGlyphs">(-)50</text>
<text x="2215.6" y="851.3" font-size="26.5" fill="#2b2a29" text-anchor="end" font-weight="bold" textLength="55.3" lengthAdjust="spacingAndGlyphs">38.8</text>
<rect x="2018.7" y="905.6" width="11.7" height="4.6" fill="#2b2a29"/>
<text x="2042.6" y="920.4" font-size="26.5" fill="#2b2a29" font-weight="bold" textLength="60.1" lengthAdjust="spacingAndGlyphs">(-)40</text>
<text x="2215.6" y="923.1" font-size="26.5" fill="#2b2a29" text-anchor="end" font-weight="bold" textLength="47.4" lengthAdjust="spacingAndGlyphs">127</text>
<rect x="2018.7" y="976.6" width="11.7" height="4.6" fill="#2b2a29"/>
<text x="2042.6" y="991.4" font-size="26.5" fill="#2b2a29" font-weight="bold" textLength="60.1" lengthAdjust="spacingAndGlyphs">(-)30</text>
<text x="2215.6" y="994.9" font-size="26.5" fill="#2b2a29" text-anchor="end" font-weight="bold" textLength="47.4" lengthAdjust="spacingAndGlyphs">376</text>
<rect x="2018.7" y="1047.6" width="11.7" height="4.6" fill="#2b2a29"/>
<text x="2042.6" y="1062.4" font-size="26.5" fill="#2b2a29" font-weight="bold" textLength="60.1" lengthAdjust="spacingAndGlyphs">(-)20</text>
<text x="2215.6" y="1066.7" font-size="26.5" fill="#2b2a29" text-anchor="end" font-weight="bold" textLength="63.2" lengthAdjust="spacingAndGlyphs">1020</text>
</g>
<g id="machine" transform="translate(230 1070) scale(0.2094)" fill="none" stroke="#222" stroke-width="5.6" stroke-linejoin="round" stroke-linecap="round">
<path d="M85 375L140 255L545 75L745 360M85 375L170 495L672 266" fill="#fff"/>
<path d="M85 375L140 255L545 75L672 266L170 495Z" fill="#fff"/>
<path d="M174 248L180 268L528 108L520 88" stroke-width="4.5"/>
<path d="M262 290L300 382" stroke-width="15"/>
<path d="M262 290L300 382" stroke="#fff" stroke-width="5"/>
<path d="M289 278L327 370" stroke-width="15"/>
<path d="M289 278L327 370" stroke="#fff" stroke-width="5"/>
<path d="M316 266L354 358" stroke-width="15"/>
<path d="M316 266L354 358" stroke="#fff" stroke-width="5"/>
<path d="M343 254L381 346" stroke-width="15"/>
<path d="M343 254L381 346" stroke="#fff" stroke-width="5"/>
<path d="M170 495L170 1445M205 480L205 1445M805 790L805 1440M672 266L745 360"/>
<circle cx="352" cy="583" r="48"/>
<path d="M640 605L520 680Q430 700 350 712Q305 722 305 790L305 1065"/>
<path d="M656 636L535 712Q450 735 395 742Q345 752 345 810L345 1065" stroke-width="4"/>
<path d="M672 665L555 745Q480 765 430 772Q385 782 385 830L385 1065"/>
<path d="M583 655L612 700M600 645L632 688" stroke-width="4"/>
<path d="M583 430L860 305L1015 700L735 810Z" fill="#fff"/>
<path d="M860 305L885 295L1042 690L1015 702Z" fill="#fff"/>
<path d="M968 482L984 474L992 492L976 499Z" stroke-width="4"/>
<ellipse cx="893" cy="579" rx="45" ry="51"/>
<path d="M893 528L893 630M893 528L1225 528M893 630L1065 630L1065 528M985 528L985 612L1065 612" />
<path d="M295 1065L400 1065L400 1080L295 1080ZM288 1086L402 1086L402 1100L288 1100Z" stroke-width="7"/>
<path d="M310 1100L310 1390M375 1100L375 1150M310 1150L375 1150M375 1150L375 1390L330 1390L330 1435"/>
<path d="M385 1120Q385 1105 400 1105L620 1105Q635 1105 635 1120L635 1190L385 1190ZM395 1190L395 1350M615 1190L615 1350M385 1165L415 1165L415 1350M380 1350L680 1350Q700 1350 700 1370L700 1435" stroke-width="4.5"/>
<path d="M600 1235L655 1235L655 1310L600 1310Z" stroke-width="4.5"/><circle cx="627" cy="1275" r="10" stroke-width="4"/>
<path d="M270 1150L218 1395M245 1150L275 1150" stroke-width="4.5"/>
<path d="M292 1150L292 1395" stroke-width="13" stroke-dasharray="4 4" stroke-linecap="butt"/>
<path d="M283 1150L283 1395M301 1150L301 1395" stroke-width="3.5"/>
<circle cx="232" cy="1405" r="13" stroke-width="4.5"/>
<path d="M165 1440L875 1440L875 1475L165 1475Z" fill="#fff" stroke-width="6.5"/>
<path d="M175 1458L865 1458" stroke-width="3"/>
<path d="M222 1440L302 1440M230 1475L234 1500L290 1500L294 1475M248 1500L248 1552M276 1500L276 1552M240 1552L284 1552" stroke-width="6"/>
<path d="M262 1475L262 1552" stroke-width="16" stroke-opacity="0.55"/>
<path d="M755 1440L835 1440M763 1475L767 1500L823 1500L827 1475M781 1500L781 1552M809 1500L809 1552M773 1552L817 1552" stroke-width="6"/>
<path d="M795 1475L795 1552" stroke-width="16" stroke-opacity="0.55"/>
</g>
<text x="2018" y="1718.8" font-size="16.2" fill="#414042" textLength="405.3" lengthAdjust="spacingAndGlyphs">Copyright © 2021 Bry-Air (Asia) Pvt. Ltd. All Rights Reserved</text>
<rect x="1" y="1" width="2558" height="1809" fill="none" stroke="#6e6e6e" stroke-width="2"/>
</svg></body></html>
